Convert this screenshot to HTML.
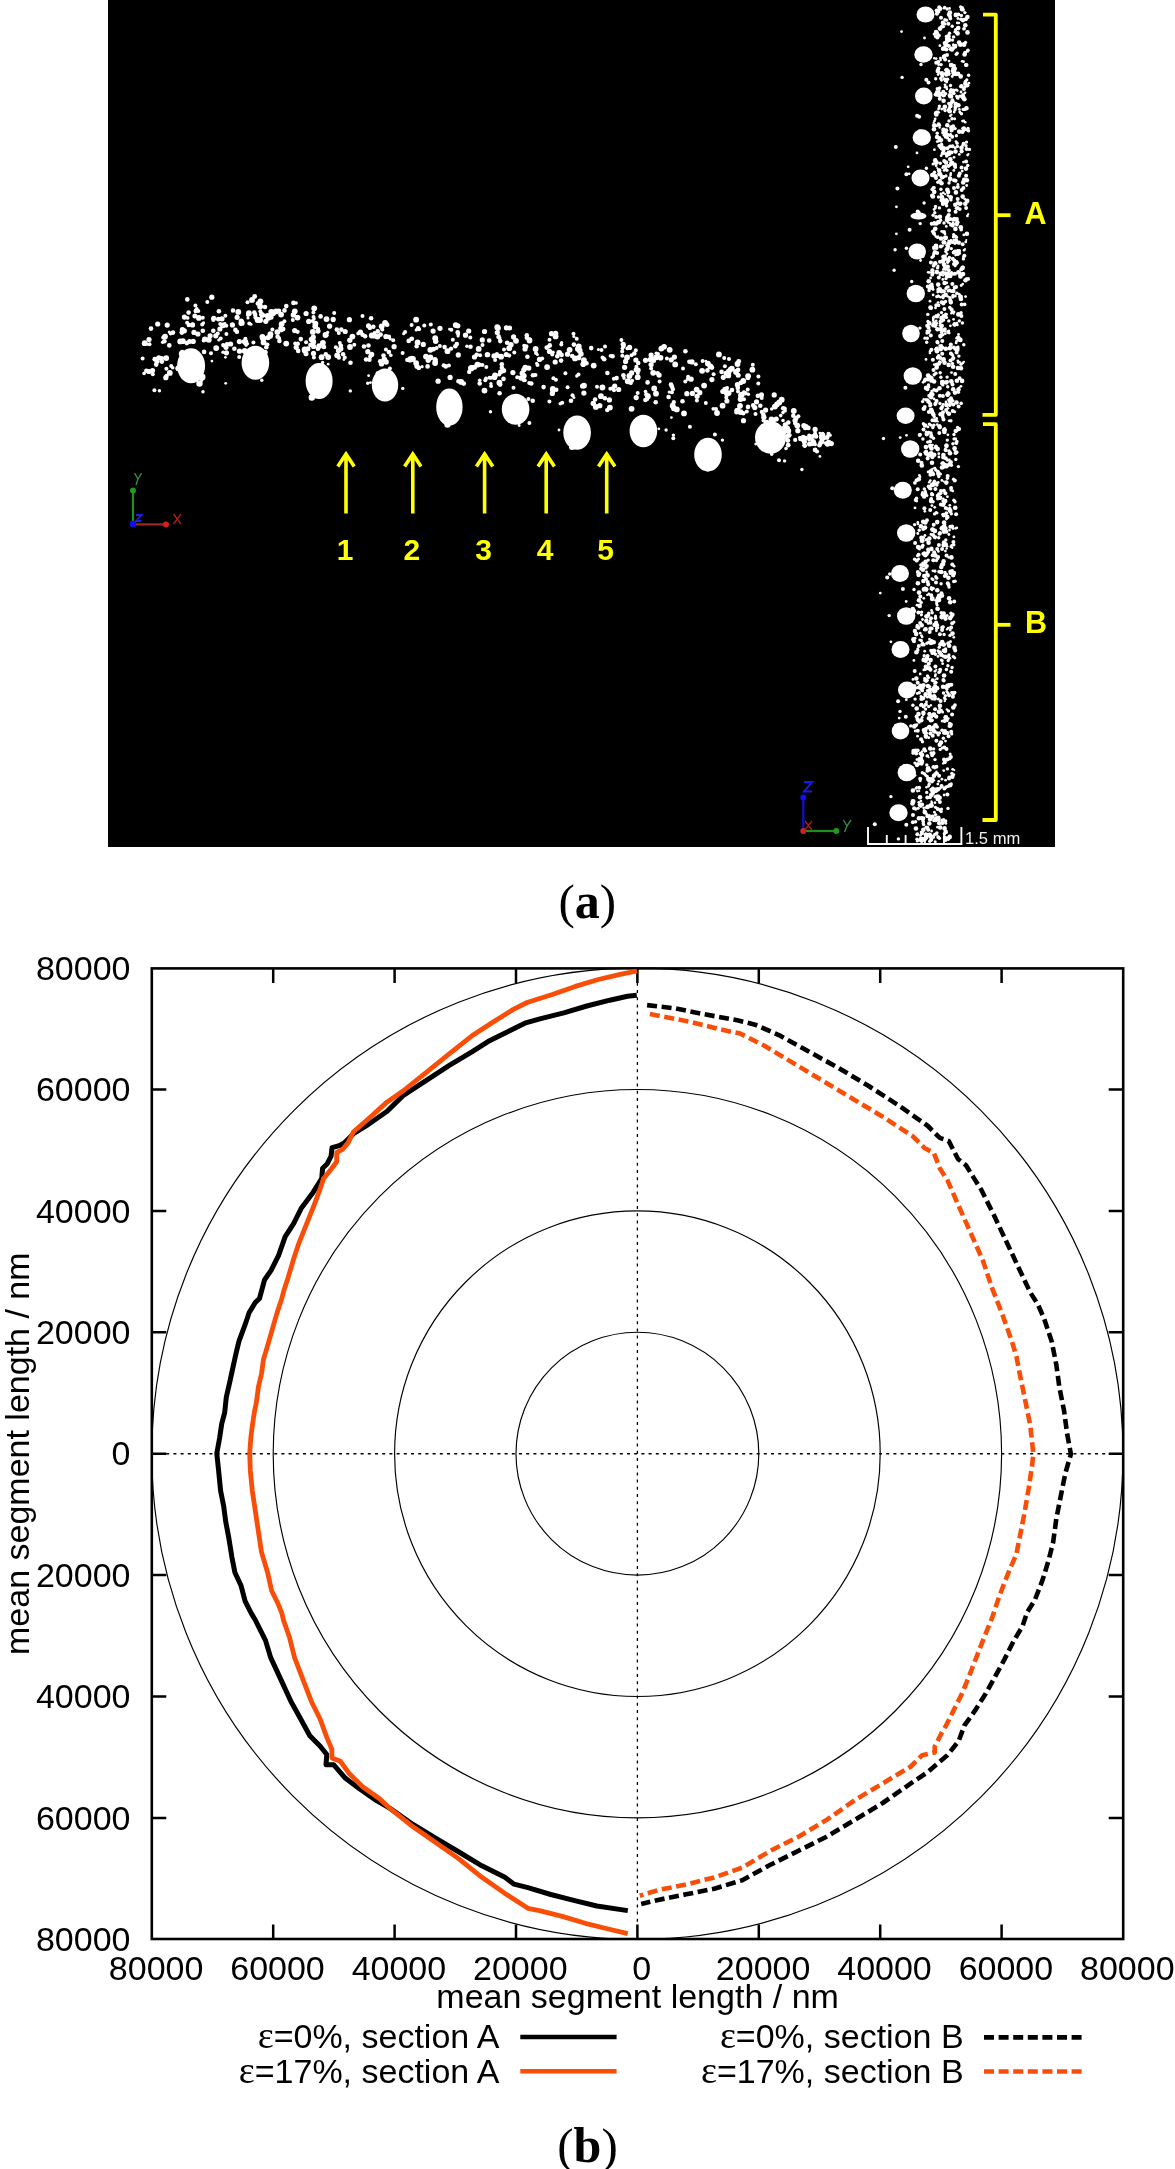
<!DOCTYPE html><html><head><meta charset="utf-8"><style>
html,body{margin:0;padding:0;background:#fff;}body{width:1175px;height:2169px;overflow:hidden;}
svg{display:block;will-change:transform;}text{font-family:"Liberation Sans",sans-serif;}
</style></head><body>
<svg width="1175" height="2169" viewBox="0 0 1175 2169">
<rect x="108" y="0" width="947" height="847" fill="#000"/>
<g fill="#fff">
<circle cx="529.5" cy="340.5" r="2.9"/>
<circle cx="526.8" cy="337.8" r="2.2"/>
<circle cx="647.6" cy="382.4" r="2.3"/>
<circle cx="267.4" cy="315.7" r="2.6"/>
<circle cx="263.8" cy="315.4" r="2.1"/>
<circle cx="208.8" cy="339.8" r="2.9"/>
<circle cx="204.8" cy="339.2" r="2.7"/>
<circle cx="294.7" cy="330.6" r="2.6"/>
<circle cx="297.6" cy="331.8" r="2.1"/>
<circle cx="692.0" cy="361.9" r="2.6"/>
<circle cx="689.4" cy="361.7" r="2.3"/>
<circle cx="388.9" cy="352.1" r="2.3"/>
<circle cx="390.8" cy="355.3" r="1.8"/>
<circle cx="497.2" cy="327.1" r="2.9"/>
<circle cx="319.2" cy="346.1" r="2.9"/>
<circle cx="304.6" cy="350.7" r="2.6"/>
<circle cx="306.0" cy="353.8" r="2.5"/>
<circle cx="672.7" cy="405.7" r="2.9"/>
<circle cx="673.8" cy="402.2" r="2.1"/>
<circle cx="352.4" cy="336.6" r="2.9"/>
<circle cx="349.8" cy="340.3" r="2.6"/>
<circle cx="571.0" cy="400.7" r="2.3"/>
<circle cx="239.5" cy="351.2" r="2.6"/>
<circle cx="245.4" cy="338.8" r="2.0"/>
<circle cx="246.1" cy="341.2" r="2.0"/>
<circle cx="217.7" cy="333.6" r="2.0"/>
<circle cx="645.4" cy="400.0" r="2.3"/>
<circle cx="647.2" cy="398.7" r="2.2"/>
<circle cx="444.6" cy="347.1" r="2.3"/>
<circle cx="495.0" cy="375.4" r="2.9"/>
<circle cx="526.2" cy="346.6" r="2.3"/>
<circle cx="524.2" cy="345.8" r="2.0"/>
<circle cx="567.6" cy="387.2" r="2.0"/>
<circle cx="721.6" cy="371.9" r="2.3"/>
<circle cx="572.2" cy="356.1" r="2.3"/>
<circle cx="254.3" cy="312.5" r="2.3"/>
<circle cx="255.2" cy="314.8" r="2.2"/>
<circle cx="495.1" cy="360.0" r="2.0"/>
<circle cx="271.5" cy="315.1" r="2.3"/>
<circle cx="273.6" cy="314.1" r="2.1"/>
<circle cx="313.6" cy="346.4" r="2.6"/>
<circle cx="253.4" cy="342.5" r="2.0"/>
<circle cx="695.8" cy="364.3" r="2.0"/>
<circle cx="343.1" cy="354.3" r="2.3"/>
<circle cx="350.5" cy="362.8" r="2.3"/>
<circle cx="325.5" cy="335.0" r="2.9"/>
<circle cx="657.6" cy="373.2" r="2.3"/>
<circle cx="496.0" cy="356.2" r="2.0"/>
<circle cx="496.9" cy="354.0" r="2.0"/>
<circle cx="489.2" cy="340.5" r="2.3"/>
<circle cx="692.4" cy="393.4" r="2.6"/>
<circle cx="338.8" cy="333.0" r="2.0"/>
<circle cx="512.9" cy="372.6" r="2.6"/>
<circle cx="659.6" cy="381.4" r="2.0"/>
<circle cx="529.2" cy="383.0" r="2.0"/>
<circle cx="637.7" cy="392.9" r="2.0"/>
<circle cx="522.2" cy="373.2" r="2.6"/>
<circle cx="629.4" cy="376.0" r="2.9"/>
<circle cx="631.6" cy="372.9" r="2.6"/>
<circle cx="528.4" cy="399.1" r="2.0"/>
<circle cx="552.2" cy="354.4" r="2.0"/>
<circle cx="553.1" cy="352.3" r="1.7"/>
<circle cx="244.7" cy="351.0" r="2.9"/>
<circle cx="439.9" cy="345.9" r="2.0"/>
<circle cx="671.0" cy="384.5" r="2.3"/>
<circle cx="225.4" cy="315.8" r="2.0"/>
<circle cx="710.4" cy="366.4" r="2.9"/>
<circle cx="513.5" cy="387.8" r="2.0"/>
<circle cx="187.3" cy="299.4" r="2.3"/>
<circle cx="474.5" cy="357.0" r="2.6"/>
<circle cx="476.7" cy="354.7" r="2.3"/>
<circle cx="263.6" cy="342.4" r="2.9"/>
<circle cx="188.2" cy="352.5" r="2.3"/>
<circle cx="185.5" cy="353.3" r="1.9"/>
<circle cx="184.4" cy="317.1" r="2.6"/>
<circle cx="187.6" cy="317.9" r="1.9"/>
<circle cx="142.6" cy="358.4" r="2.0"/>
<circle cx="187.1" cy="322.7" r="2.0"/>
<circle cx="216.2" cy="348.1" r="2.9"/>
<circle cx="738.1" cy="369.9" r="2.3"/>
<circle cx="435.1" cy="363.0" r="2.9"/>
<circle cx="435.3" cy="360.1" r="2.6"/>
<circle cx="211.0" cy="353.2" r="2.0"/>
<circle cx="549.5" cy="351.4" r="2.6"/>
<circle cx="583.9" cy="360.1" r="2.9"/>
<circle cx="583.2" cy="364.2" r="2.8"/>
<circle cx="651.1" cy="364.6" r="2.6"/>
<circle cx="506.3" cy="354.5" r="2.6"/>
<circle cx="509.2" cy="355.6" r="2.1"/>
<circle cx="484.5" cy="331.5" r="2.6"/>
<circle cx="349.7" cy="340.0" r="2.3"/>
<circle cx="203.7" cy="340.4" r="2.0"/>
<circle cx="820.4" cy="443.5" r="2.0"/>
<circle cx="668.6" cy="397.0" r="2.3"/>
<circle cx="328.2" cy="357.1" r="2.9"/>
<circle cx="458.1" cy="334.0" r="2.0"/>
<circle cx="458.1" cy="335.9" r="1.5"/>
<circle cx="213.7" cy="318.3" r="2.6"/>
<circle cx="583.9" cy="393.1" r="2.6"/>
<circle cx="389.9" cy="368.6" r="2.0"/>
<circle cx="183.3" cy="367.5" r="2.0"/>
<circle cx="707.9" cy="363.6" r="2.9"/>
<circle cx="743.9" cy="392.2" r="2.0"/>
<circle cx="458.3" cy="354.9" r="2.6"/>
<circle cx="271.2" cy="312.0" r="2.9"/>
<circle cx="669.7" cy="349.8" r="2.9"/>
<circle cx="198.9" cy="317.9" r="2.9"/>
<circle cx="194.9" cy="315.9" r="2.5"/>
<circle cx="543.6" cy="387.1" r="2.3"/>
<circle cx="494.0" cy="355.9" r="2.6"/>
<circle cx="494.6" cy="377.5" r="2.6"/>
<circle cx="448.9" cy="365.5" r="2.0"/>
<circle cx="614.0" cy="390.2" r="2.0"/>
<circle cx="468.7" cy="331.0" r="2.6"/>
<circle cx="306.1" cy="342.2" r="2.0"/>
<circle cx="260.1" cy="320.0" r="2.9"/>
<circle cx="812.1" cy="443.9" r="2.3"/>
<circle cx="809.5" cy="444.4" r="2.2"/>
<circle cx="600.9" cy="396.2" r="2.9"/>
<circle cx="368.5" cy="345.5" r="2.3"/>
<circle cx="766.6" cy="422.6" r="2.9"/>
<circle cx="769.8" cy="424.8" r="2.5"/>
<circle cx="623.2" cy="344.3" r="2.6"/>
<circle cx="622.5" cy="348.3" r="1.9"/>
<circle cx="165.0" cy="336.6" r="2.9"/>
<circle cx="385.9" cy="349.4" r="2.0"/>
<circle cx="241.2" cy="321.0" r="2.6"/>
<circle cx="249.3" cy="323.4" r="2.0"/>
<circle cx="251.0" cy="324.3" r="1.5"/>
<circle cx="204.1" cy="351.9" r="2.3"/>
<circle cx="781.7" cy="399.7" r="2.9"/>
<circle cx="736.7" cy="410.0" r="2.0"/>
<circle cx="738.6" cy="408.8" r="1.8"/>
<circle cx="610.3" cy="388.8" r="2.0"/>
<circle cx="373.3" cy="326.8" r="2.3"/>
<circle cx="369.9" cy="327.9" r="2.2"/>
<circle cx="455.7" cy="325.1" r="2.9"/>
<circle cx="831.3" cy="443.6" r="2.6"/>
<circle cx="371.1" cy="318.3" r="2.3"/>
<circle cx="482.4" cy="365.1" r="2.0"/>
<circle cx="607.4" cy="373.0" r="2.3"/>
<circle cx="737.4" cy="384.7" r="2.6"/>
<circle cx="645.5" cy="360.3" r="2.6"/>
<circle cx="774.9" cy="406.6" r="2.9"/>
<circle cx="582.6" cy="386.0" r="2.6"/>
<circle cx="788.3" cy="422.5" r="2.3"/>
<circle cx="182.3" cy="352.3" r="2.6"/>
<circle cx="284.5" cy="310.4" r="2.3"/>
<circle cx="822.4" cy="435.2" r="2.9"/>
<circle cx="261.7" cy="314.3" r="2.6"/>
<circle cx="374.3" cy="336.0" r="2.6"/>
<circle cx="523.8" cy="375.8" r="2.9"/>
<circle cx="521.1" cy="378.0" r="2.8"/>
<circle cx="828.7" cy="442.6" r="2.9"/>
<circle cx="471.0" cy="368.2" r="2.9"/>
<circle cx="726.9" cy="401.0" r="2.6"/>
<circle cx="325.8" cy="354.2" r="2.3"/>
<circle cx="479.6" cy="364.8" r="2.3"/>
<circle cx="685.4" cy="351.2" r="2.3"/>
<circle cx="503.6" cy="370.6" r="2.6"/>
<circle cx="500.5" cy="372.0" r="2.5"/>
<circle cx="385.9" cy="336.5" r="2.6"/>
<circle cx="388.9" cy="336.9" r="2.3"/>
<circle cx="321.6" cy="357.2" r="2.9"/>
<circle cx="624.6" cy="367.3" r="2.6"/>
<circle cx="557.3" cy="356.3" r="2.3"/>
<circle cx="797.3" cy="425.6" r="2.9"/>
<circle cx="488.0" cy="354.7" r="2.3"/>
<circle cx="801.4" cy="438.3" r="2.3"/>
<circle cx="803.3" cy="437.1" r="2.3"/>
<circle cx="561.1" cy="360.6" r="2.3"/>
<circle cx="813.8" cy="443.0" r="2.6"/>
<circle cx="650.1" cy="359.5" r="2.6"/>
<circle cx="653.6" cy="360.4" r="2.5"/>
<circle cx="362.5" cy="316.0" r="2.0"/>
<circle cx="385.1" cy="322.9" r="2.9"/>
<circle cx="387.1" cy="324.7" r="2.4"/>
<circle cx="304.6" cy="349.5" r="2.9"/>
<circle cx="555.2" cy="362.0" r="2.6"/>
<circle cx="656.0" cy="393.7" r="2.9"/>
<circle cx="740.0" cy="405.8" r="2.9"/>
<circle cx="188.6" cy="312.6" r="2.3"/>
<circle cx="793.3" cy="415.8" r="2.3"/>
<circle cx="367.8" cy="351.7" r="2.6"/>
<circle cx="666.9" cy="358.6" r="2.0"/>
<circle cx="707.4" cy="370.4" r="2.3"/>
<circle cx="523.8" cy="369.8" r="2.6"/>
<circle cx="164.4" cy="341.2" r="2.3"/>
<circle cx="162.6" cy="342.3" r="1.7"/>
<circle cx="673.9" cy="408.3" r="2.9"/>
<circle cx="676.8" cy="409.4" r="2.9"/>
<circle cx="517.2" cy="377.3" r="2.0"/>
<circle cx="730.3" cy="369.4" r="2.6"/>
<circle cx="456.8" cy="344.0" r="2.3"/>
<circle cx="455.3" cy="346.3" r="2.3"/>
<circle cx="465.5" cy="335.2" r="2.6"/>
<circle cx="616.6" cy="378.1" r="2.3"/>
<circle cx="533.0" cy="375.3" r="2.3"/>
<circle cx="549.8" cy="345.4" r="2.3"/>
<circle cx="265.1" cy="352.3" r="2.6"/>
<circle cx="499.4" cy="382.7" r="2.9"/>
<circle cx="152.5" cy="370.5" r="2.6"/>
<circle cx="591.2" cy="348.1" r="2.3"/>
<circle cx="337.2" cy="355.3" r="2.9"/>
<circle cx="338.9" cy="357.7" r="2.1"/>
<circle cx="499.2" cy="374.6" r="2.0"/>
<circle cx="731.8" cy="368.7" r="2.9"/>
<circle cx="499.6" cy="393.2" r="2.3"/>
<circle cx="313.3" cy="337.1" r="2.6"/>
<circle cx="702.1" cy="370.8" r="2.9"/>
<circle cx="264.5" cy="338.3" r="2.3"/>
<circle cx="262.2" cy="339.6" r="1.8"/>
<circle cx="526.8" cy="335.4" r="2.3"/>
<circle cx="671.9" cy="386.6" r="2.3"/>
<circle cx="672.9" cy="389.1" r="2.2"/>
<circle cx="813.9" cy="436.1" r="2.3"/>
<circle cx="595.1" cy="399.5" r="2.3"/>
<circle cx="430.4" cy="357.4" r="2.9"/>
<circle cx="737.8" cy="387.9" r="2.3"/>
<circle cx="738.0" cy="391.4" r="2.0"/>
<circle cx="314.2" cy="308.3" r="2.9"/>
<circle cx="315.4" cy="323.7" r="2.9"/>
<circle cx="315.2" cy="326.4" r="2.8"/>
<circle cx="198.3" cy="311.1" r="2.0"/>
<circle cx="262.4" cy="336.8" r="2.9"/>
<circle cx="513.6" cy="336.9" r="2.6"/>
<circle cx="539.5" cy="359.4" r="2.6"/>
<circle cx="486.3" cy="366.9" r="2.0"/>
<circle cx="238.3" cy="311.9" r="2.9"/>
<circle cx="313.5" cy="317.1" r="2.0"/>
<circle cx="408.7" cy="340.9" r="2.3"/>
<circle cx="411.2" cy="339.1" r="2.0"/>
<circle cx="335.9" cy="347.3" r="2.0"/>
<circle cx="829.3" cy="443.6" r="2.3"/>
<circle cx="381.5" cy="364.0" r="2.6"/>
<circle cx="380.2" cy="361.3" r="2.3"/>
<circle cx="394.1" cy="346.7" r="2.6"/>
<circle cx="146.4" cy="370.8" r="2.3"/>
<circle cx="144.1" cy="373.4" r="1.8"/>
<circle cx="158.7" cy="357.8" r="2.6"/>
<circle cx="161.7" cy="358.3" r="2.3"/>
<circle cx="562.2" cy="402.7" r="2.0"/>
<circle cx="560.2" cy="403.7" r="1.7"/>
<circle cx="294.8" cy="311.3" r="2.9"/>
<circle cx="293.4" cy="314.9" r="2.7"/>
<circle cx="239.4" cy="341.6" r="2.6"/>
<circle cx="636.2" cy="397.6" r="2.6"/>
<circle cx="213.3" cy="320.1" r="2.0"/>
<circle cx="671.9" cy="392.2" r="2.0"/>
<circle cx="669.3" cy="392.1" r="1.7"/>
<circle cx="293.4" cy="302.9" r="2.3"/>
<circle cx="296.2" cy="303.0" r="1.7"/>
<circle cx="536.0" cy="352.9" r="2.0"/>
<circle cx="537.4" cy="354.5" r="1.5"/>
<circle cx="424.3" cy="325.6" r="2.0"/>
<circle cx="166.4" cy="368.8" r="2.0"/>
<circle cx="260.4" cy="311.2" r="2.0"/>
<circle cx="149.5" cy="344.3" r="2.0"/>
<circle cx="147.3" cy="344.3" r="1.5"/>
<circle cx="683.0" cy="368.5" r="2.0"/>
<circle cx="827.2" cy="437.6" r="2.3"/>
<circle cx="830.0" cy="435.3" r="1.8"/>
<circle cx="297.5" cy="317.6" r="2.9"/>
<circle cx="213.3" cy="330.7" r="2.3"/>
<circle cx="743.5" cy="420.7" r="2.6"/>
<circle cx="313.5" cy="353.4" r="2.6"/>
<circle cx="313.9" cy="357.5" r="2.0"/>
<circle cx="252.0" cy="299.9" r="2.9"/>
<circle cx="254.7" cy="296.5" r="2.4"/>
<circle cx="470.3" cy="337.6" r="2.0"/>
<circle cx="547.1" cy="367.1" r="2.9"/>
<circle cx="815.1" cy="433.4" r="2.0"/>
<circle cx="284.4" cy="321.2" r="2.0"/>
<circle cx="144.7" cy="343.2" r="2.9"/>
<circle cx="499.5" cy="338.0" r="2.0"/>
<circle cx="499.1" cy="336.0" r="1.7"/>
<circle cx="605.0" cy="346.5" r="2.0"/>
<circle cx="758.3" cy="383.5" r="2.0"/>
<circle cx="411.8" cy="357.8" r="2.0"/>
<circle cx="788.3" cy="430.9" r="2.9"/>
<circle cx="609.4" cy="399.9" r="2.6"/>
<circle cx="745.4" cy="393.3" r="2.3"/>
<circle cx="748.4" cy="394.3" r="1.7"/>
<circle cx="567.5" cy="354.2" r="2.6"/>
<circle cx="197.9" cy="334.0" r="2.6"/>
<circle cx="763.9" cy="417.2" r="2.6"/>
<circle cx="219.9" cy="329.0" r="2.6"/>
<circle cx="576.7" cy="338.8" r="2.0"/>
<circle cx="614.7" cy="386.0" r="2.6"/>
<circle cx="612.5" cy="388.2" r="2.0"/>
<circle cx="618.7" cy="389.5" r="2.6"/>
<circle cx="311.3" cy="339.4" r="2.6"/>
<circle cx="417.6" cy="342.5" r="2.9"/>
<circle cx="416.6" cy="346.3" r="2.2"/>
<circle cx="368.5" cy="325.8" r="2.6"/>
<circle cx="728.6" cy="393.1" r="2.9"/>
<circle cx="725.8" cy="392.2" r="2.6"/>
<circle cx="578.5" cy="374.4" r="2.0"/>
<circle cx="576.8" cy="376.0" r="1.7"/>
<circle cx="417.0" cy="366.3" r="2.6"/>
<circle cx="151.0" cy="328.6" r="2.3"/>
<circle cx="286.2" cy="343.6" r="2.9"/>
<circle cx="371.8" cy="335.5" r="2.9"/>
<circle cx="317.9" cy="348.8" r="2.3"/>
<circle cx="746.8" cy="411.6" r="2.0"/>
<circle cx="760.3" cy="405.7" r="2.3"/>
<circle cx="173.0" cy="332.6" r="2.3"/>
<circle cx="509.2" cy="348.2" r="2.9"/>
<circle cx="510.9" cy="344.7" r="2.8"/>
<circle cx="793.8" cy="411.0" r="2.9"/>
<circle cx="418.1" cy="328.4" r="2.3"/>
<circle cx="195.4" cy="305.6" r="2.0"/>
<circle cx="691.1" cy="379.2" r="2.6"/>
<circle cx="298.2" cy="350.9" r="2.3"/>
<circle cx="702.6" cy="361.1" r="2.0"/>
<circle cx="705.8" cy="361.2" r="1.4"/>
<circle cx="578.7" cy="357.7" r="2.6"/>
<circle cx="489.5" cy="377.7" r="2.0"/>
<circle cx="491.3" cy="377.8" r="2.0"/>
<circle cx="273.3" cy="312.4" r="2.9"/>
<circle cx="182.4" cy="329.7" r="2.6"/>
<circle cx="181.8" cy="332.6" r="2.4"/>
<circle cx="447.5" cy="351.2" r="2.9"/>
<circle cx="451.0" cy="348.6" r="2.2"/>
<circle cx="532.7" cy="400.7" r="2.3"/>
<circle cx="697.1" cy="396.3" r="2.6"/>
<circle cx="277.4" cy="332.1" r="2.9"/>
<circle cx="413.0" cy="359.0" r="2.9"/>
<circle cx="410.2" cy="359.2" r="2.9"/>
<circle cx="552.8" cy="391.1" r="2.6"/>
<circle cx="556.3" cy="389.8" r="2.2"/>
<circle cx="244.4" cy="341.5" r="2.6"/>
<circle cx="254.2" cy="350.9" r="2.9"/>
<circle cx="647.9" cy="396.2" r="2.9"/>
<circle cx="222.9" cy="325.3" r="2.9"/>
<circle cx="234.4" cy="348.7" r="2.3"/>
<circle cx="755.5" cy="413.9" r="2.0"/>
<circle cx="435.2" cy="338.2" r="2.9"/>
<circle cx="435.7" cy="341.3" r="2.7"/>
<circle cx="506.4" cy="327.8" r="2.6"/>
<circle cx="509.6" cy="327.9" r="2.5"/>
<circle cx="696.6" cy="389.6" r="2.9"/>
<circle cx="457.8" cy="325.8" r="2.6"/>
<circle cx="555.6" cy="336.4" r="2.9"/>
<circle cx="555.6" cy="333.5" r="2.7"/>
<circle cx="501.1" cy="356.7" r="2.9"/>
<circle cx="498.6" cy="355.7" r="2.2"/>
<circle cx="604.9" cy="398.2" r="2.3"/>
<circle cx="737.5" cy="364.0" r="2.9"/>
<circle cx="738.7" cy="361.3" r="2.4"/>
<circle cx="344.8" cy="357.6" r="2.0"/>
<circle cx="343.9" cy="359.5" r="1.4"/>
<circle cx="207.3" cy="302.0" r="2.0"/>
<circle cx="713.6" cy="374.2" r="2.0"/>
<circle cx="729.0" cy="359.0" r="2.0"/>
<circle cx="333.2" cy="319.4" r="2.6"/>
<circle cx="194.0" cy="332.4" r="2.6"/>
<circle cx="233.0" cy="310.5" r="2.3"/>
<circle cx="736.6" cy="410.5" r="2.3"/>
<circle cx="320.6" cy="316.4" r="2.3"/>
<circle cx="559.2" cy="352.8" r="2.9"/>
<circle cx="627.4" cy="381.0" r="2.6"/>
<circle cx="529.5" cy="339.8" r="2.6"/>
<circle cx="371.7" cy="354.4" r="2.6"/>
<circle cx="370.3" cy="356.4" r="2.2"/>
<circle cx="634.3" cy="353.5" r="2.3"/>
<circle cx="631.5" cy="355.3" r="2.0"/>
<circle cx="635.9" cy="360.0" r="2.6"/>
<circle cx="638.2" cy="363.0" r="2.3"/>
<circle cx="202.8" cy="317.7" r="2.0"/>
<circle cx="724.9" cy="366.2" r="2.0"/>
<circle cx="438.1" cy="381.2" r="2.6"/>
<circle cx="797.8" cy="430.7" r="2.6"/>
<circle cx="722.6" cy="405.7" r="2.9"/>
<circle cx="218.9" cy="311.3" r="2.3"/>
<circle cx="270.4" cy="334.2" r="2.9"/>
<circle cx="723.3" cy="377.3" r="2.6"/>
<circle cx="765.6" cy="410.1" r="2.6"/>
<circle cx="761.8" cy="411.9" r="2.1"/>
<circle cx="411.8" cy="338.8" r="2.3"/>
<circle cx="257.6" cy="320.0" r="2.9"/>
<circle cx="255.6" cy="317.5" r="2.2"/>
<circle cx="682.5" cy="401.3" r="2.3"/>
<circle cx="461.2" cy="381.9" r="2.9"/>
<circle cx="463.7" cy="383.6" r="2.4"/>
<circle cx="758.4" cy="376.5" r="2.0"/>
<circle cx="482.3" cy="339.9" r="2.6"/>
<circle cx="227.0" cy="344.2" r="2.3"/>
<circle cx="195.8" cy="310.9" r="2.3"/>
<circle cx="196.8" cy="309.0" r="1.9"/>
<circle cx="578.8" cy="346.5" r="2.9"/>
<circle cx="577.6" cy="348.9" r="2.6"/>
<circle cx="440.0" cy="328.3" r="2.6"/>
<circle cx="210.1" cy="335.8" r="2.6"/>
<circle cx="426.0" cy="356.6" r="2.9"/>
<circle cx="602.4" cy="387.5" r="2.9"/>
<circle cx="569.6" cy="349.8" r="2.9"/>
<circle cx="717.0" cy="413.0" r="2.9"/>
<circle cx="728.7" cy="371.7" r="2.9"/>
<circle cx="726.0" cy="373.3" r="2.5"/>
<circle cx="748.0" cy="406.9" r="2.3"/>
<circle cx="281.6" cy="324.1" r="2.9"/>
<circle cx="280.7" cy="327.4" r="2.0"/>
<circle cx="752.4" cy="369.7" r="2.9"/>
<circle cx="504.0" cy="349.6" r="2.0"/>
<circle cx="763.5" cy="420.5" r="2.0"/>
<circle cx="771.5" cy="419.4" r="2.9"/>
<circle cx="773.6" cy="421.2" r="2.1"/>
<circle cx="621.4" cy="339.9" r="2.0"/>
<circle cx="170.7" cy="333.4" r="2.0"/>
<circle cx="169.2" cy="332.1" r="1.5"/>
<circle cx="612.6" cy="356.3" r="2.3"/>
<circle cx="610.5" cy="355.8" r="1.9"/>
<circle cx="528.8" cy="368.1" r="2.6"/>
<circle cx="531.3" cy="383.5" r="2.3"/>
<circle cx="237.1" cy="317.3" r="2.6"/>
<circle cx="748.0" cy="378.0" r="2.3"/>
<circle cx="487.3" cy="354.7" r="2.6"/>
<circle cx="306.1" cy="313.5" r="2.6"/>
<circle cx="350.0" cy="347.0" r="2.9"/>
<circle cx="687.9" cy="378.9" r="2.0"/>
<circle cx="688.1" cy="376.7" r="2.0"/>
<circle cx="552.3" cy="393.5" r="2.6"/>
<circle cx="652.5" cy="359.3" r="2.3"/>
<circle cx="272.4" cy="329.4" r="2.0"/>
<circle cx="659.1" cy="375.1" r="2.6"/>
<circle cx="781.9" cy="429.9" r="2.9"/>
<circle cx="785.3" cy="426.9" r="2.1"/>
<circle cx="514.3" cy="352.6" r="2.0"/>
<circle cx="561.6" cy="354.9" r="2.3"/>
<circle cx="339.5" cy="350.1" r="2.3"/>
<circle cx="787.3" cy="428.0" r="2.6"/>
<circle cx="785.3" cy="424.8" r="2.6"/>
<circle cx="428.2" cy="360.3" r="2.6"/>
<circle cx="340.8" cy="348.7" r="2.6"/>
<circle cx="340.9" cy="345.8" r="2.3"/>
<circle cx="740.6" cy="399.1" r="2.9"/>
<circle cx="740.9" cy="396.4" r="2.1"/>
<circle cx="804.0" cy="442.4" r="2.0"/>
<circle cx="380.6" cy="334.6" r="2.3"/>
<circle cx="436.6" cy="348.1" r="2.0"/>
<circle cx="551.5" cy="333.7" r="2.6"/>
<circle cx="362.6" cy="334.8" r="2.3"/>
<circle cx="192.8" cy="324.5" r="2.0"/>
<circle cx="341.3" cy="329.6" r="2.3"/>
<circle cx="279.4" cy="340.9" r="2.3"/>
<circle cx="241.8" cy="322.9" r="2.9"/>
<circle cx="265.0" cy="307.0" r="2.3"/>
<circle cx="313.3" cy="341.7" r="2.9"/>
<circle cx="245.9" cy="341.9" r="2.0"/>
<circle cx="247.4" cy="343.7" r="1.7"/>
<circle cx="636.4" cy="366.7" r="2.0"/>
<circle cx="595.8" cy="406.9" r="2.9"/>
<circle cx="593.3" cy="403.5" r="2.7"/>
<circle cx="366.1" cy="359.5" r="2.3"/>
<circle cx="369.5" cy="359.7" r="2.2"/>
<circle cx="161.9" cy="361.6" r="2.3"/>
<circle cx="774.2" cy="394.9" r="2.6"/>
<circle cx="433.1" cy="331.1" r="2.6"/>
<circle cx="157.0" cy="361.3" r="2.6"/>
<circle cx="154.8" cy="359.2" r="2.4"/>
<circle cx="354.3" cy="344.8" r="2.0"/>
<circle cx="741.0" cy="395.4" r="2.9"/>
<circle cx="655.7" cy="402.3" r="2.3"/>
<circle cx="573.5" cy="333.7" r="2.0"/>
<circle cx="573.8" cy="336.5" r="1.5"/>
<circle cx="202.2" cy="324.5" r="2.0"/>
<circle cx="203.4" cy="323.0" r="1.7"/>
<circle cx="503.5" cy="378.9" r="2.3"/>
<circle cx="268.4" cy="317.8" r="2.9"/>
<circle cx="271.3" cy="317.4" r="2.3"/>
<circle cx="416.1" cy="363.1" r="2.9"/>
<circle cx="180.2" cy="341.4" r="2.9"/>
<circle cx="741.8" cy="394.6" r="2.9"/>
<circle cx="628.0" cy="381.3" r="2.9"/>
<circle cx="728.3" cy="375.4" r="2.9"/>
<circle cx="704.1" cy="385.6" r="2.9"/>
<circle cx="555.9" cy="379.8" r="2.0"/>
<circle cx="527.4" cy="356.7" r="2.3"/>
<circle cx="712.0" cy="367.6" r="2.3"/>
<circle cx="776.2" cy="419.0" r="2.6"/>
<circle cx="312.7" cy="321.1" r="2.0"/>
<circle cx="314.2" cy="318.8" r="1.6"/>
<circle cx="651.1" cy="355.1" r="2.6"/>
<circle cx="652.3" cy="358.1" r="1.9"/>
<circle cx="226.3" cy="325.7" r="2.0"/>
<circle cx="224.8" cy="323.9" r="1.8"/>
<circle cx="486.0" cy="378.5" r="2.0"/>
<circle cx="384.3" cy="359.6" r="2.9"/>
<circle cx="386.1" cy="362.0" r="2.7"/>
<circle cx="336.8" cy="329.6" r="2.3"/>
<circle cx="803.9" cy="425.7" r="2.6"/>
<circle cx="500.2" cy="384.6" r="2.3"/>
<circle cx="573.9" cy="344.6" r="2.3"/>
<circle cx="184.3" cy="330.8" r="2.6"/>
<circle cx="725.2" cy="389.6" r="2.9"/>
<circle cx="722.7" cy="391.4" r="2.5"/>
<circle cx="754.8" cy="407.6" r="2.6"/>
<circle cx="753.2" cy="405.4" r="2.3"/>
<circle cx="382.3" cy="329.5" r="2.0"/>
<circle cx="810.2" cy="437.0" r="2.9"/>
<circle cx="280.5" cy="328.2" r="2.3"/>
<circle cx="281.4" cy="330.3" r="2.1"/>
<circle cx="220.7" cy="338.5" r="2.0"/>
<circle cx="218.7" cy="340.0" r="1.5"/>
<circle cx="498.0" cy="328.1" r="2.9"/>
<circle cx="497.3" cy="332.6" r="2.6"/>
<circle cx="458.5" cy="381.2" r="2.3"/>
<circle cx="326.6" cy="335.2" r="2.0"/>
<circle cx="327.6" cy="332.4" r="1.6"/>
<circle cx="478.7" cy="348.9" r="2.9"/>
<circle cx="542.2" cy="358.5" r="2.0"/>
<circle cx="434.9" cy="359.3" r="2.3"/>
<circle cx="525.0" cy="349.0" r="2.6"/>
<circle cx="675.2" cy="364.4" r="2.9"/>
<circle cx="686.9" cy="393.7" r="2.6"/>
<circle cx="167.2" cy="325.1" r="2.6"/>
<circle cx="313.4" cy="312.5" r="2.0"/>
<circle cx="166.2" cy="358.1" r="2.9"/>
<circle cx="658.0" cy="354.1" r="2.0"/>
<circle cx="656.3" cy="353.2" r="1.8"/>
<circle cx="152.8" cy="374.2" r="2.0"/>
<circle cx="597.0" cy="386.8" r="2.0"/>
<circle cx="827.7" cy="444.5" r="2.3"/>
<circle cx="761.7" cy="397.9" r="2.0"/>
<circle cx="281.1" cy="314.6" r="2.9"/>
<circle cx="808.4" cy="427.9" r="2.3"/>
<circle cx="623.5" cy="346.1" r="2.3"/>
<circle cx="561.3" cy="344.5" r="2.0"/>
<circle cx="561.6" cy="342.5" r="1.6"/>
<circle cx="349.4" cy="319.7" r="2.6"/>
<circle cx="418.8" cy="367.9" r="2.3"/>
<circle cx="422.1" cy="366.7" r="1.6"/>
<circle cx="525.3" cy="367.7" r="2.9"/>
<circle cx="579.6" cy="350.5" r="2.9"/>
<circle cx="581.0" cy="354.0" r="2.7"/>
<circle cx="220.2" cy="324.1" r="2.0"/>
<circle cx="377.4" cy="336.6" r="2.9"/>
<circle cx="193.9" cy="356.5" r="2.6"/>
<circle cx="345.2" cy="331.5" r="2.6"/>
<circle cx="211.8" cy="297.2" r="2.6"/>
<circle cx="535.5" cy="375.0" r="2.0"/>
<circle cx="286.3" cy="306.1" r="2.3"/>
<circle cx="743.3" cy="381.0" r="2.9"/>
<circle cx="740.8" cy="382.9" r="2.4"/>
<circle cx="736.5" cy="412.3" r="2.3"/>
<circle cx="450.1" cy="377.4" r="2.6"/>
<circle cx="798.4" cy="416.3" r="2.0"/>
<circle cx="169.8" cy="372.9" r="2.9"/>
<circle cx="166.5" cy="375.9" r="2.2"/>
<circle cx="674.4" cy="357.1" r="2.6"/>
<circle cx="629.6" cy="347.4" r="2.6"/>
<circle cx="627.4" cy="348.4" r="1.9"/>
<circle cx="651.1" cy="368.5" r="2.0"/>
<circle cx="262.0" cy="315.7" r="2.3"/>
<circle cx="383.5" cy="355.6" r="2.3"/>
<circle cx="232.4" cy="324.9" r="2.6"/>
<circle cx="324.0" cy="347.0" r="2.3"/>
<circle cx="763.3" cy="414.5" r="2.3"/>
<circle cx="763.7" cy="418.1" r="2.1"/>
<circle cx="756.5" cy="401.8" r="2.6"/>
<circle cx="716.0" cy="408.9" r="2.0"/>
<circle cx="713.3" cy="408.8" r="1.9"/>
<circle cx="165.8" cy="377.7" r="2.6"/>
<circle cx="500.2" cy="341.1" r="2.3"/>
<circle cx="584.0" cy="385.6" r="2.9"/>
<circle cx="549.5" cy="339.7" r="2.0"/>
<circle cx="821.9" cy="437.6" r="2.9"/>
<circle cx="546.7" cy="347.6" r="2.3"/>
<circle cx="548.7" cy="346.6" r="2.0"/>
<circle cx="312.8" cy="331.9" r="2.9"/>
<circle cx="248.0" cy="314.9" r="2.0"/>
<circle cx="248.0" cy="317.9" r="1.6"/>
<circle cx="696.9" cy="400.5" r="2.0"/>
<circle cx="575.0" cy="358.4" r="2.9"/>
<circle cx="757.8" cy="395.9" r="2.0"/>
<circle cx="661.3" cy="348.6" r="2.9"/>
<circle cx="664.1" cy="346.7" r="2.8"/>
<circle cx="178.2" cy="368.3" r="2.9"/>
<circle cx="553.4" cy="378.3" r="2.0"/>
<circle cx="326.5" cy="319.1" r="2.9"/>
<circle cx="192.5" cy="324.9" r="2.6"/>
<circle cx="188.8" cy="325.0" r="2.2"/>
<circle cx="260.4" cy="301.3" r="2.9"/>
<circle cx="268.1" cy="337.6" r="2.6"/>
<circle cx="270.6" cy="336.5" r="2.3"/>
<circle cx="718.9" cy="354.4" r="2.9"/>
<circle cx="636.2" cy="369.8" r="2.6"/>
<circle cx="637.8" cy="372.9" r="2.0"/>
<circle cx="684.0" cy="413.4" r="2.9"/>
<circle cx="736.0" cy="372.0" r="2.9"/>
<circle cx="738.2" cy="375.2" r="2.5"/>
<circle cx="471.2" cy="368.4" r="2.9"/>
<circle cx="469.2" cy="371.9" r="2.2"/>
<circle cx="247.5" cy="302.3" r="2.0"/>
<circle cx="265.8" cy="321.3" r="2.6"/>
<circle cx="364.0" cy="346.5" r="2.3"/>
<circle cx="338.5" cy="350.6" r="2.6"/>
<circle cx="292.8" cy="320.1" r="2.0"/>
<circle cx="457.7" cy="332.2" r="2.3"/>
<circle cx="622.2" cy="351.4" r="2.0"/>
<circle cx="805.8" cy="427.0" r="2.9"/>
<circle cx="623.4" cy="375.2" r="2.3"/>
<circle cx="624.0" cy="378.1" r="1.8"/>
<circle cx="248.9" cy="313.2" r="2.9"/>
<circle cx="705.8" cy="403.1" r="2.0"/>
<circle cx="601.5" cy="349.9" r="2.0"/>
<circle cx="598.4" cy="349.4" r="1.5"/>
<circle cx="235.4" cy="329.9" r="2.3"/>
<circle cx="236.9" cy="331.8" r="2.3"/>
<circle cx="226.4" cy="334.0" r="2.0"/>
<circle cx="726.7" cy="394.8" r="2.3"/>
<circle cx="726.3" cy="397.5" r="2.0"/>
<circle cx="427.6" cy="366.4" r="2.3"/>
<circle cx="307.8" cy="348.8" r="2.6"/>
<circle cx="305.6" cy="350.6" r="2.1"/>
<circle cx="613.9" cy="378.8" r="2.0"/>
<circle cx="300.8" cy="339.1" r="2.3"/>
<circle cx="149.0" cy="339.5" r="2.6"/>
<circle cx="779.3" cy="402.5" r="2.9"/>
<circle cx="776.7" cy="403.9" r="2.5"/>
<circle cx="277.6" cy="336.8" r="2.3"/>
<circle cx="279.3" cy="338.1" r="1.8"/>
<circle cx="148.9" cy="371.5" r="2.6"/>
<circle cx="631.6" cy="408.8" r="2.9"/>
<circle cx="276.1" cy="311.4" r="2.9"/>
<circle cx="278.9" cy="310.8" r="2.4"/>
<circle cx="565.4" cy="373.3" r="2.0"/>
<circle cx="784.8" cy="408.4" r="2.0"/>
<circle cx="785.0" cy="410.7" r="1.9"/>
<circle cx="416.1" cy="319.7" r="2.9"/>
<circle cx="402.6" cy="353.1" r="2.0"/>
<circle cx="671.3" cy="359.8" r="2.6"/>
<circle cx="501.9" cy="367.8" r="2.3"/>
<circle cx="501.8" cy="364.2" r="2.3"/>
<circle cx="339.8" cy="343.0" r="2.0"/>
<circle cx="819.5" cy="445.2" r="2.3"/>
<circle cx="599.8" cy="405.7" r="2.6"/>
<circle cx="479.7" cy="383.5" r="2.3"/>
<circle cx="479.7" cy="380.3" r="1.8"/>
<circle cx="283.2" cy="329.1" r="2.3"/>
<circle cx="157.7" cy="324.0" r="2.6"/>
<circle cx="552.8" cy="388.9" r="2.9"/>
<circle cx="451.3" cy="329.7" r="2.0"/>
<circle cx="449.5" cy="329.2" r="1.4"/>
<circle cx="609.9" cy="407.6" r="2.9"/>
<circle cx="607.2" cy="410.1" r="2.2"/>
<circle cx="202.8" cy="330.8" r="2.3"/>
<circle cx="169.3" cy="345.4" r="2.3"/>
<circle cx="452.8" cy="339.8" r="2.0"/>
<circle cx="377.7" cy="331.4" r="2.3"/>
<circle cx="374.6" cy="332.9" r="2.0"/>
<circle cx="761.5" cy="394.9" r="2.6"/>
<circle cx="757.9" cy="395.8" r="2.3"/>
<circle cx="226.4" cy="352.8" r="2.6"/>
<circle cx="223.1" cy="352.2" r="1.8"/>
<circle cx="193.2" cy="341.4" r="2.6"/>
<circle cx="189.5" cy="341.4" r="2.5"/>
<circle cx="430.8" cy="324.5" r="2.0"/>
<circle cx="484.5" cy="390.6" r="2.9"/>
<circle cx="524.8" cy="380.2" r="2.0"/>
<circle cx="523.2" cy="378.9" r="1.4"/>
<circle cx="537.5" cy="365.1" r="2.0"/>
<circle cx="536.7" cy="363.3" r="1.6"/>
<circle cx="480.1" cy="355.3" r="2.0"/>
<circle cx="156.2" cy="364.6" r="2.3"/>
<circle cx="586.5" cy="363.2" r="2.3"/>
<circle cx="477.4" cy="364.7" r="2.9"/>
<circle cx="474.5" cy="367.3" r="2.5"/>
<circle cx="711.9" cy="379.6" r="2.6"/>
<circle cx="732.0" cy="390.0" r="2.3"/>
<circle cx="410.1" cy="359.9" r="2.6"/>
<circle cx="407.2" cy="359.9" r="2.1"/>
<circle cx="329.6" cy="326.2" r="2.6"/>
<circle cx="638.1" cy="370.0" r="2.6"/>
<circle cx="549.4" cy="401.6" r="2.0"/>
<circle cx="296.2" cy="347.3" r="2.6"/>
<circle cx="297.8" cy="343.5" r="2.0"/>
<circle cx="516.0" cy="340.8" r="2.9"/>
<circle cx="308.7" cy="321.4" r="2.6"/>
<circle cx="226.0" cy="347.3" r="2.6"/>
<circle cx="223.3" cy="345.1" r="2.2"/>
<circle cx="171.2" cy="365.9" r="2.0"/>
<circle cx="172.7" cy="367.8" r="1.8"/>
<circle cx="507.1" cy="342.8" r="2.3"/>
<circle cx="635.8" cy="350.2" r="2.0"/>
<circle cx="593.7" cy="365.6" r="2.9"/>
<circle cx="419.1" cy="329.2" r="2.0"/>
<circle cx="416.2" cy="329.9" r="1.6"/>
<circle cx="748.1" cy="376.1" r="2.9"/>
<circle cx="685.3" cy="381.6" r="2.0"/>
<circle cx="572.5" cy="395.2" r="2.0"/>
<circle cx="573.9" cy="397.5" r="1.5"/>
<circle cx="405.1" cy="331.9" r="2.0"/>
<circle cx="403.7" cy="333.7" r="1.6"/>
<circle cx="815.1" cy="429.4" r="2.6"/>
<circle cx="535.6" cy="348.9" r="2.9"/>
<circle cx="230.6" cy="344.0" r="2.6"/>
<circle cx="322.9" cy="342.8" r="2.9"/>
<circle cx="295.2" cy="343.5" r="2.0"/>
<circle cx="297.8" cy="344.2" r="1.8"/>
<circle cx="360.4" cy="332.1" r="2.6"/>
<circle cx="358.2" cy="333.4" r="1.9"/>
<circle cx="656.3" cy="357.3" r="2.9"/>
<circle cx="660.6" cy="357.7" r="2.8"/>
<circle cx="485.3" cy="380.2" r="2.0"/>
<circle cx="627.0" cy="357.5" r="2.9"/>
<circle cx="625.6" cy="361.4" r="2.6"/>
<circle cx="310.4" cy="345.0" r="2.3"/>
<circle cx="604.2" cy="359.2" r="2.3"/>
<circle cx="602.6" cy="357.6" r="2.1"/>
<circle cx="182.9" cy="341.2" r="2.9"/>
<circle cx="186.8" cy="343.1" r="2.3"/>
<circle cx="215.8" cy="335.8" r="2.6"/>
<circle cx="727.1" cy="388.0" r="2.0"/>
<circle cx="181.7" cy="353.7" r="2.9"/>
<circle cx="653.2" cy="372.8" r="2.9"/>
<circle cx="637.7" cy="377.2" r="2.9"/>
<circle cx="632.1" cy="380.7" r="2.0"/>
<circle cx="630.8" cy="383.2" r="1.9"/>
<circle cx="245.2" cy="343.1" r="2.3"/>
<circle cx="246.1" cy="345.1" r="1.8"/>
<circle cx="654.2" cy="388.5" r="2.9"/>
<circle cx="482.5" cy="345.1" r="2.0"/>
<circle cx="747.7" cy="389.6" r="2.0"/>
<circle cx="222.0" cy="318.8" r="2.6"/>
<circle cx="218.4" cy="319.2" r="2.4"/>
<circle cx="393.2" cy="340.3" r="2.0"/>
<circle cx="390.3" cy="339.0" r="1.5"/>
<circle cx="365.1" cy="336.2" r="2.3"/>
<circle cx="470.5" cy="346.8" r="2.3"/>
<circle cx="466.9" cy="346.3" r="1.7"/>
<circle cx="498.2" cy="337.0" r="2.0"/>
<circle cx="381.7" cy="326.3" r="2.9"/>
<circle cx="334.2" cy="312.9" r="2.0"/>
<circle cx="163.2" cy="337.5" r="2.0"/>
<circle cx="445.8" cy="366.4" r="2.3"/>
<circle cx="443.7" cy="365.4" r="2.1"/>
<circle cx="699.8" cy="392.7" r="2.6"/>
<circle cx="795.1" cy="420.4" r="2.6"/>
<circle cx="795.3" cy="423.3" r="2.3"/>
<circle cx="260.2" cy="306.4" r="2.9"/>
<circle cx="257.8" cy="303.5" r="2.2"/>
<circle cx="744.0" cy="399.3" r="2.0"/>
<circle cx="646.4" cy="394.5" r="2.3"/>
<circle cx="645.5" cy="391.5" r="1.8"/>
<circle cx="266.3" cy="347.3" r="2.3"/>
<circle cx="267.4" cy="344.6" r="2.1"/>
<circle cx="240.7" cy="323.6" r="2.3"/>
<circle cx="423.3" cy="344.4" r="2.6"/>
<circle cx="430.3" cy="349.8" r="2.9"/>
<circle cx="433.5" cy="349.2" r="2.4"/>
<circle cx="411.6" cy="325.0" r="2.0"/>
<circle cx="523.9" cy="380.3" r="2.0"/>
<circle cx="622.3" cy="355.7" r="2.0"/>
<circle cx="752.8" cy="364.8" r="2.0"/>
<circle cx="318.0" cy="331.1" r="2.6"/>
<circle cx="318.3" cy="328.7" r="1.8"/>
<circle cx="724.2" cy="358.0" r="2.0"/>
<circle cx="796.4" cy="418.0" r="2.3"/>
<circle cx="471.6" cy="367.8" r="2.9"/>
<circle cx="491.1" cy="386.1" r="2.0"/>
<circle cx="490.9" cy="383.6" r="1.6"/>
<circle cx="521.2" cy="398.8" r="2.0"/>
<circle cx="740.5" cy="412.1" r="2.9"/>
<circle cx="743.3" cy="413.3" r="2.2"/>
<circle cx="943.6" cy="526.8" r="2.3"/>
<circle cx="941.8" cy="528.2" r="2.3"/>
<circle cx="921.9" cy="540.7" r="2.3"/>
<circle cx="955.6" cy="236.5" r="1.7"/>
<circle cx="953.2" cy="237.0" r="1.4"/>
<circle cx="929.4" cy="779.0" r="2.0"/>
<circle cx="948.7" cy="364.9" r="2.3"/>
<circle cx="936.9" cy="485.1" r="1.7"/>
<circle cx="943.9" cy="532.1" r="2.0"/>
<circle cx="940.6" cy="414.2" r="2.3"/>
<circle cx="923.1" cy="553.8" r="1.7"/>
<circle cx="924.9" cy="535.5" r="1.4"/>
<circle cx="940.7" cy="297.2" r="1.4"/>
<circle cx="951.1" cy="487.9" r="2.0"/>
<circle cx="951.0" cy="489.9" r="1.5"/>
<circle cx="919.2" cy="530.3" r="1.7"/>
<circle cx="917.9" cy="650.1" r="1.7"/>
<circle cx="943.7" cy="316.4" r="2.3"/>
<circle cx="946.1" cy="409.9" r="2.0"/>
<circle cx="947.9" cy="408.3" r="1.4"/>
<circle cx="953.1" cy="222.8" r="1.4"/>
<circle cx="954.6" cy="224.0" r="1.1"/>
<circle cx="946.7" cy="720.0" r="1.7"/>
<circle cx="944.7" cy="720.0" r="1.3"/>
<circle cx="956.1" cy="342.9" r="1.4"/>
<circle cx="939.0" cy="600.0" r="2.3"/>
<circle cx="941.5" cy="786.0" r="2.0"/>
<circle cx="940.6" cy="701.0" r="2.0"/>
<circle cx="938.3" cy="698.9" r="1.5"/>
<circle cx="925.4" cy="379.5" r="2.0"/>
<circle cx="938.9" cy="545.0" r="2.0"/>
<circle cx="928.7" cy="706.6" r="1.7"/>
<circle cx="930.9" cy="705.2" r="1.2"/>
<circle cx="935.8" cy="445.8" r="1.4"/>
<circle cx="924.8" cy="839.0" r="2.3"/>
<circle cx="938.1" cy="315.1" r="1.7"/>
<circle cx="947.3" cy="517.0" r="2.3"/>
<circle cx="925.3" cy="835.0" r="1.7"/>
<circle cx="932.3" cy="175.0" r="2.3"/>
<circle cx="934.5" cy="172.3" r="1.7"/>
<circle cx="926.2" cy="589.2" r="2.3"/>
<circle cx="940.9" cy="491.1" r="2.0"/>
<circle cx="957.4" cy="97.7" r="1.7"/>
<circle cx="929.3" cy="823.5" r="2.3"/>
<circle cx="931.2" cy="778.9" r="1.7"/>
<circle cx="932.8" cy="780.0" r="1.4"/>
<circle cx="933.4" cy="483.5" r="2.0"/>
<circle cx="934.4" cy="481.3" r="1.7"/>
<circle cx="951.3" cy="248.6" r="1.7"/>
<circle cx="932.0" cy="462.7" r="2.3"/>
<circle cx="938.8" cy="173.6" r="1.4"/>
<circle cx="962.6" cy="244.3" r="2.0"/>
<circle cx="915.1" cy="699.1" r="1.7"/>
<circle cx="932.9" cy="196.4" r="2.3"/>
<circle cx="921.2" cy="689.1" r="2.0"/>
<circle cx="922.5" cy="690.8" r="1.5"/>
<circle cx="934.4" cy="731.5" r="2.3"/>
<circle cx="942.8" cy="279.4" r="1.4"/>
<circle cx="940.9" cy="377.3" r="1.7"/>
<circle cx="925.0" cy="730.9" r="2.3"/>
<circle cx="929.0" cy="386.9" r="1.4"/>
<circle cx="929.8" cy="694.9" r="2.0"/>
<circle cx="941.2" cy="155.7" r="1.4"/>
<circle cx="949.7" cy="836.9" r="2.3"/>
<circle cx="934.1" cy="209.5" r="1.4"/>
<circle cx="935.3" cy="208.3" r="1.3"/>
<circle cx="938.7" cy="304.8" r="1.4"/>
<circle cx="926.1" cy="681.2" r="1.7"/>
<circle cx="928.6" cy="542.8" r="2.3"/>
<circle cx="936.0" cy="582.4" r="2.0"/>
<circle cx="955.5" cy="431.1" r="2.0"/>
<circle cx="947.1" cy="377.1" r="1.7"/>
<circle cx="931.6" cy="628.4" r="2.0"/>
<circle cx="948.8" cy="331.0" r="1.4"/>
<circle cx="954.0" cy="188.0" r="2.0"/>
<circle cx="940.8" cy="246.5" r="2.0"/>
<circle cx="918.4" cy="575.5" r="1.7"/>
<circle cx="919.8" cy="573.4" r="1.5"/>
<circle cx="919.3" cy="722.4" r="1.4"/>
<circle cx="931.2" cy="436.6" r="2.0"/>
<circle cx="961.7" cy="304.4" r="2.0"/>
<circle cx="964.7" cy="304.4" r="1.8"/>
<circle cx="928.4" cy="614.9" r="2.0"/>
<circle cx="925.7" cy="616.2" r="1.5"/>
<circle cx="934.7" cy="507.3" r="1.4"/>
<circle cx="920.2" cy="633.2" r="1.4"/>
<circle cx="935.2" cy="160.4" r="2.3"/>
<circle cx="914.0" cy="589.5" r="1.7"/>
<circle cx="925.4" cy="491.2" r="1.4"/>
<circle cx="951.6" cy="692.5" r="1.4"/>
<circle cx="929.4" cy="714.1" r="2.0"/>
<circle cx="945.6" cy="93.6" r="1.7"/>
<circle cx="934.0" cy="714.6" r="2.3"/>
<circle cx="937.3" cy="678.7" r="1.4"/>
<circle cx="935.5" cy="679.6" r="1.0"/>
<circle cx="944.0" cy="56.9" r="2.3"/>
<circle cx="945.1" cy="59.6" r="2.0"/>
<circle cx="935.8" cy="470.0" r="1.7"/>
<circle cx="930.3" cy="404.1" r="2.0"/>
<circle cx="953.4" cy="693.4" r="2.3"/>
<circle cx="945.1" cy="110.5" r="1.7"/>
<circle cx="936.5" cy="390.6" r="2.0"/>
<circle cx="934.1" cy="389.9" r="1.9"/>
<circle cx="942.8" cy="384.9" r="1.7"/>
<circle cx="941.6" cy="383.6" r="1.6"/>
<circle cx="937.2" cy="424.6" r="1.4"/>
<circle cx="938.3" cy="426.1" r="1.2"/>
<circle cx="928.1" cy="549.5" r="2.0"/>
<circle cx="953.0" cy="274.0" r="1.7"/>
<circle cx="951.6" cy="272.4" r="1.4"/>
<circle cx="962.4" cy="323.0" r="1.7"/>
<circle cx="953.7" cy="73.9" r="2.0"/>
<circle cx="938.6" cy="289.8" r="2.3"/>
<circle cx="920.3" cy="596.4" r="2.0"/>
<circle cx="935.8" cy="536.8" r="1.4"/>
<circle cx="928.9" cy="401.2" r="1.7"/>
<circle cx="929.2" cy="403.0" r="1.4"/>
<circle cx="943.2" cy="627.0" r="1.7"/>
<circle cx="945.6" cy="294.9" r="2.3"/>
<circle cx="941.3" cy="659.8" r="1.4"/>
<circle cx="934.1" cy="187.7" r="1.7"/>
<circle cx="950.5" cy="91.4" r="2.0"/>
<circle cx="919.9" cy="804.7" r="2.3"/>
<circle cx="918.8" cy="479.3" r="2.3"/>
<circle cx="939.3" cy="145.8" r="2.0"/>
<circle cx="944.1" cy="78.9" r="1.7"/>
<circle cx="936.1" cy="325.2" r="1.4"/>
<circle cx="937.0" cy="323.3" r="1.2"/>
<circle cx="930.5" cy="307.6" r="2.3"/>
<circle cx="939.4" cy="106.1" r="1.7"/>
<circle cx="938.6" cy="124.2" r="2.0"/>
<circle cx="952.2" cy="136.8" r="2.0"/>
<circle cx="943.3" cy="465.3" r="1.4"/>
<circle cx="914.1" cy="802.0" r="1.4"/>
<circle cx="947.6" cy="79.2" r="1.7"/>
<circle cx="937.7" cy="799.0" r="2.3"/>
<circle cx="939.7" cy="797.7" r="2.2"/>
<circle cx="922.1" cy="751.6" r="1.4"/>
<circle cx="935.0" cy="759.6" r="1.7"/>
<circle cx="965.9" cy="65.1" r="2.0"/>
<circle cx="927.8" cy="574.9" r="2.0"/>
<circle cx="931.5" cy="448.5" r="2.3"/>
<circle cx="930.2" cy="445.9" r="2.3"/>
<circle cx="923.1" cy="688.3" r="1.4"/>
<circle cx="923.8" cy="687.0" r="1.1"/>
<circle cx="954.1" cy="438.9" r="1.7"/>
<circle cx="955.6" cy="438.8" r="1.6"/>
<circle cx="955.6" cy="211.8" r="2.0"/>
<circle cx="953.1" cy="366.8" r="2.3"/>
<circle cx="961.6" cy="167.6" r="2.0"/>
<circle cx="933.8" cy="247.2" r="1.7"/>
<circle cx="926.5" cy="539.8" r="1.7"/>
<circle cx="933.5" cy="438.3" r="1.7"/>
<circle cx="919.4" cy="759.1" r="2.0"/>
<circle cx="919.0" cy="761.1" r="1.6"/>
<circle cx="947.2" cy="684.8" r="1.4"/>
<circle cx="940.2" cy="174.2" r="2.3"/>
<circle cx="926.1" cy="555.1" r="1.7"/>
<circle cx="959.2" cy="338.0" r="1.7"/>
<circle cx="958.2" cy="340.1" r="1.5"/>
<circle cx="933.6" cy="248.7" r="1.4"/>
<circle cx="962.7" cy="196.6" r="2.3"/>
<circle cx="940.5" cy="644.2" r="2.3"/>
<circle cx="943.1" cy="564.0" r="2.3"/>
<circle cx="957.4" cy="324.9" r="1.4"/>
<circle cx="956.9" cy="323.0" r="1.3"/>
<circle cx="935.7" cy="78.7" r="1.7"/>
<circle cx="926.9" cy="565.9" r="2.0"/>
<circle cx="935.5" cy="618.3" r="1.7"/>
<circle cx="935.5" cy="616.1" r="1.5"/>
<circle cx="929.6" cy="834.8" r="2.3"/>
<circle cx="928.2" cy="829.8" r="2.0"/>
<circle cx="913.0" cy="815.1" r="2.0"/>
<circle cx="952.4" cy="101.3" r="2.3"/>
<circle cx="927.3" cy="338.2" r="1.7"/>
<circle cx="924.9" cy="338.2" r="1.6"/>
<circle cx="950.4" cy="146.1" r="1.7"/>
<circle cx="950.0" cy="348.1" r="2.3"/>
<circle cx="950.8" cy="344.7" r="2.1"/>
<circle cx="944.1" cy="795.0" r="1.4"/>
<circle cx="946.0" cy="79.7" r="2.0"/>
<circle cx="950.3" cy="526.8" r="2.0"/>
<circle cx="932.2" cy="612.8" r="1.7"/>
<circle cx="931.5" cy="610.4" r="1.3"/>
<circle cx="917.3" cy="693.5" r="1.4"/>
<circle cx="921.0" cy="840.0" r="2.3"/>
<circle cx="918.2" cy="840.1" r="1.7"/>
<circle cx="933.8" cy="322.4" r="1.7"/>
<circle cx="934.9" cy="252.2" r="2.3"/>
<circle cx="940.6" cy="60.0" r="1.4"/>
<circle cx="940.4" cy="58.1" r="1.4"/>
<circle cx="949.0" cy="61.1" r="1.4"/>
<circle cx="947.1" cy="44.3" r="1.4"/>
<circle cx="948.0" cy="45.6" r="1.2"/>
<circle cx="937.1" cy="137.0" r="2.3"/>
<circle cx="939.0" cy="138.7" r="1.7"/>
<circle cx="920.2" cy="778.7" r="2.0"/>
<circle cx="920.3" cy="780.8" r="1.4"/>
<circle cx="945.5" cy="256.0" r="1.4"/>
<circle cx="944.0" cy="255.9" r="1.3"/>
<circle cx="958.5" cy="389.5" r="2.3"/>
<circle cx="941.8" cy="109.1" r="1.4"/>
<circle cx="921.6" cy="841.2" r="1.7"/>
<circle cx="933.2" cy="320.0" r="1.4"/>
<circle cx="928.4" cy="786.3" r="1.4"/>
<circle cx="926.4" cy="787.3" r="1.2"/>
<circle cx="945.7" cy="458.2" r="2.0"/>
<circle cx="943.2" cy="404.4" r="1.4"/>
<circle cx="956.0" cy="141.6" r="1.4"/>
<circle cx="932.9" cy="570.8" r="1.4"/>
<circle cx="961.1" cy="312.7" r="1.7"/>
<circle cx="949.7" cy="404.9" r="2.0"/>
<circle cx="927.8" cy="286.4" r="2.0"/>
<circle cx="929.1" cy="288.5" r="1.5"/>
<circle cx="949.0" cy="587.1" r="1.7"/>
<circle cx="937.1" cy="604.8" r="1.4"/>
<circle cx="945.1" cy="237.9" r="2.3"/>
<circle cx="955.8" cy="430.9" r="2.0"/>
<circle cx="927.6" cy="458.6" r="2.0"/>
<circle cx="947.3" cy="460.0" r="1.7"/>
<circle cx="949.3" cy="459.9" r="1.4"/>
<circle cx="960.9" cy="298.9" r="2.3"/>
<circle cx="960.4" cy="296.8" r="2.0"/>
<circle cx="945.4" cy="44.4" r="2.0"/>
<circle cx="941.4" cy="345.7" r="1.7"/>
<circle cx="922.5" cy="619.5" r="1.4"/>
<circle cx="957.8" cy="253.6" r="2.3"/>
<circle cx="959.1" cy="250.9" r="2.0"/>
<circle cx="935.5" cy="820.0" r="2.3"/>
<circle cx="954.6" cy="448.3" r="2.3"/>
<circle cx="930.9" cy="262.4" r="2.0"/>
<circle cx="939.5" cy="388.3" r="2.3"/>
<circle cx="939.9" cy="705.7" r="2.3"/>
<circle cx="939.6" cy="88.0" r="1.7"/>
<circle cx="939.3" cy="89.9" r="1.2"/>
<circle cx="937.8" cy="784.1" r="1.4"/>
<circle cx="931.8" cy="578.7" r="1.4"/>
<circle cx="932.5" cy="580.1" r="1.0"/>
<circle cx="943.4" cy="680.1" r="2.0"/>
<circle cx="953.0" cy="48.3" r="2.0"/>
<circle cx="959.6" cy="378.2" r="2.0"/>
<circle cx="922.9" cy="569.7" r="2.3"/>
<circle cx="925.9" cy="567.9" r="1.7"/>
<circle cx="953.2" cy="389.2" r="2.3"/>
<circle cx="931.4" cy="349.8" r="2.0"/>
<circle cx="931.2" cy="795.0" r="2.3"/>
<circle cx="919.3" cy="548.8" r="1.7"/>
<circle cx="957.4" cy="254.4" r="1.4"/>
<circle cx="923.6" cy="824.6" r="1.7"/>
<circle cx="923.4" cy="822.1" r="1.6"/>
<circle cx="932.1" cy="257.3" r="1.7"/>
<circle cx="933.4" cy="256.1" r="1.7"/>
<circle cx="924.7" cy="651.2" r="1.4"/>
<circle cx="951.0" cy="240.5" r="1.4"/>
<circle cx="950.7" cy="197.2" r="2.3"/>
<circle cx="950.9" cy="199.9" r="1.7"/>
<circle cx="935.4" cy="666.5" r="2.0"/>
<circle cx="958.5" cy="334.5" r="1.4"/>
<circle cx="921.5" cy="704.8" r="2.0"/>
<circle cx="923.5" cy="565.3" r="2.3"/>
<circle cx="920.9" cy="565.1" r="1.8"/>
<circle cx="938.9" cy="222.1" r="2.3"/>
<circle cx="948.8" cy="657.4" r="1.7"/>
<circle cx="931.1" cy="397.1" r="2.3"/>
<circle cx="929.3" cy="395.7" r="2.0"/>
<circle cx="950.2" cy="299.9" r="2.0"/>
<circle cx="968.6" cy="75.3" r="1.7"/>
<circle cx="926.0" cy="359.4" r="1.4"/>
<circle cx="918.9" cy="818.2" r="2.3"/>
<circle cx="943.3" cy="91.7" r="2.0"/>
<circle cx="941.4" cy="93.8" r="1.9"/>
<circle cx="946.3" cy="382.4" r="2.3"/>
<circle cx="943.7" cy="382.4" r="1.8"/>
<circle cx="921.4" cy="635.6" r="1.4"/>
<circle cx="922.2" cy="636.9" r="1.3"/>
<circle cx="946.9" cy="170.2" r="1.7"/>
<circle cx="930.6" cy="405.3" r="1.7"/>
<circle cx="941.1" cy="811.5" r="1.7"/>
<circle cx="941.6" cy="809.1" r="1.5"/>
<circle cx="932.1" cy="795.0" r="1.4"/>
<circle cx="933.7" cy="793.8" r="1.2"/>
<circle cx="919.4" cy="475.5" r="1.4"/>
<circle cx="920.3" cy="476.9" r="1.1"/>
<circle cx="945.4" cy="528.4" r="2.3"/>
<circle cx="930.0" cy="301.2" r="1.4"/>
<circle cx="932.1" cy="780.8" r="1.4"/>
<circle cx="933.0" cy="779.5" r="1.2"/>
<circle cx="932.9" cy="788.4" r="2.0"/>
<circle cx="935.5" cy="789.2" r="1.7"/>
<circle cx="931.4" cy="410.5" r="2.3"/>
<circle cx="922.6" cy="492.3" r="1.4"/>
<circle cx="925.7" cy="833.6" r="1.4"/>
<circle cx="925.0" cy="527.6" r="2.3"/>
<circle cx="958.2" cy="28.1" r="2.3"/>
<circle cx="918.2" cy="460.7" r="2.3"/>
<circle cx="918.6" cy="554.7" r="2.0"/>
<circle cx="951.2" cy="671.7" r="2.0"/>
<circle cx="955.1" cy="295.9" r="1.7"/>
<circle cx="938.8" cy="35.5" r="2.0"/>
<circle cx="949.0" cy="393.8" r="1.7"/>
<circle cx="947.5" cy="395.2" r="1.6"/>
<circle cx="935.3" cy="538.0" r="1.4"/>
<circle cx="941.3" cy="572.0" r="2.3"/>
<circle cx="939.2" cy="571.7" r="1.9"/>
<circle cx="964.7" cy="199.1" r="1.4"/>
<circle cx="939.1" cy="672.4" r="1.4"/>
<circle cx="945.3" cy="333.7" r="1.4"/>
<circle cx="957.4" cy="146.4" r="1.7"/>
<circle cx="955.2" cy="147.8" r="1.5"/>
<circle cx="927.7" cy="582.1" r="2.0"/>
<circle cx="929.3" cy="538.6" r="2.3"/>
<circle cx="924.8" cy="680.4" r="1.7"/>
<circle cx="925.2" cy="678.9" r="1.6"/>
<circle cx="954.5" cy="324.8" r="2.0"/>
<circle cx="928.9" cy="663.8" r="2.0"/>
<circle cx="966.5" cy="142.1" r="1.7"/>
<circle cx="949.2" cy="645.8" r="2.3"/>
<circle cx="917.5" cy="736.2" r="1.4"/>
<circle cx="928.2" cy="668.3" r="2.0"/>
<circle cx="930.5" cy="669.7" r="2.0"/>
<circle cx="949.6" cy="723.4" r="1.7"/>
<circle cx="951.1" cy="724.2" r="1.7"/>
<circle cx="951.5" cy="616.2" r="2.0"/>
<circle cx="913.9" cy="611.0" r="2.3"/>
<circle cx="912.8" cy="609.0" r="2.3"/>
<circle cx="958.9" cy="175.8" r="2.0"/>
<circle cx="931.6" cy="805.5" r="2.3"/>
<circle cx="940.2" cy="372.8" r="1.7"/>
<circle cx="941.9" cy="779.2" r="1.4"/>
<circle cx="926.9" cy="814.6" r="1.7"/>
<circle cx="928.0" cy="816.7" r="1.5"/>
<circle cx="916.8" cy="627.2" r="1.4"/>
<circle cx="917.1" cy="625.0" r="1.1"/>
<circle cx="940.0" cy="325.6" r="1.4"/>
<circle cx="941.4" cy="327.2" r="1.3"/>
<circle cx="929.9" cy="686.6" r="1.4"/>
<circle cx="953.0" cy="528.6" r="1.4"/>
<circle cx="941.3" cy="140.0" r="2.0"/>
<circle cx="956.2" cy="430.2" r="1.4"/>
<circle cx="957.7" cy="430.3" r="1.4"/>
<circle cx="930.3" cy="628.6" r="2.0"/>
<circle cx="945.4" cy="821.8" r="1.4"/>
<circle cx="946.1" cy="823.5" r="1.0"/>
<circle cx="922.7" cy="540.7" r="2.0"/>
<circle cx="923.2" cy="538.0" r="1.6"/>
<circle cx="952.9" cy="696.7" r="2.0"/>
<circle cx="914.4" cy="685.9" r="2.0"/>
<circle cx="926.4" cy="620.8" r="2.3"/>
<circle cx="956.3" cy="443.0" r="2.0"/>
<circle cx="949.7" cy="111.3" r="2.3"/>
<circle cx="948.4" cy="243.8" r="2.0"/>
<circle cx="948.8" cy="241.1" r="1.6"/>
<circle cx="943.1" cy="256.8" r="2.0"/>
<circle cx="945.0" cy="258.3" r="1.7"/>
<circle cx="932.4" cy="457.3" r="2.0"/>
<circle cx="942.1" cy="406.5" r="1.4"/>
<circle cx="939.2" cy="170.6" r="2.3"/>
<circle cx="937.1" cy="348.1" r="1.7"/>
<circle cx="935.4" cy="349.4" r="1.4"/>
<circle cx="937.4" cy="37.5" r="2.0"/>
<circle cx="935.7" cy="36.4" r="1.8"/>
<circle cx="915.6" cy="821.8" r="1.7"/>
<circle cx="935.3" cy="228.7" r="2.3"/>
<circle cx="943.3" cy="192.9" r="1.4"/>
<circle cx="945.1" cy="194.2" r="1.1"/>
<circle cx="931.9" cy="505.6" r="1.4"/>
<circle cx="941.8" cy="196.2" r="1.7"/>
<circle cx="950.3" cy="573.7" r="1.4"/>
<circle cx="920.9" cy="526.2" r="2.3"/>
<circle cx="940.0" cy="180.8" r="2.0"/>
<circle cx="929.9" cy="453.6" r="2.0"/>
<circle cx="941.9" cy="197.3" r="2.3"/>
<circle cx="934.8" cy="235.1" r="1.4"/>
<circle cx="935.9" cy="315.6" r="1.4"/>
<circle cx="926.0" cy="736.6" r="2.3"/>
<circle cx="966.5" cy="65.0" r="2.0"/>
<circle cx="954.4" cy="71.5" r="2.0"/>
<circle cx="930.4" cy="796.5" r="1.4"/>
<circle cx="928.8" cy="797.4" r="1.1"/>
<circle cx="952.5" cy="384.4" r="2.0"/>
<circle cx="951.9" cy="382.1" r="1.7"/>
<circle cx="943.7" cy="463.2" r="1.4"/>
<circle cx="941.6" cy="463.5" r="1.4"/>
<circle cx="924.3" cy="749.3" r="2.0"/>
<circle cx="955.8" cy="14.9" r="2.3"/>
<circle cx="958.3" cy="14.5" r="2.1"/>
<circle cx="955.4" cy="349.2" r="1.7"/>
<circle cx="945.5" cy="70.1" r="1.4"/>
<circle cx="916.2" cy="753.4" r="2.0"/>
<circle cx="913.2" cy="753.1" r="1.7"/>
<circle cx="945.8" cy="823.3" r="1.4"/>
<circle cx="949.5" cy="33.3" r="1.7"/>
<circle cx="946.3" cy="200.1" r="2.0"/>
<circle cx="963.9" cy="28.9" r="1.7"/>
<circle cx="939.9" cy="634.2" r="2.0"/>
<circle cx="941.0" cy="17.8" r="2.0"/>
<circle cx="928.1" cy="471.9" r="1.4"/>
<circle cx="946.3" cy="249.1" r="1.4"/>
<circle cx="953.6" cy="93.3" r="2.0"/>
<circle cx="963.8" cy="121.0" r="1.4"/>
<circle cx="965.3" cy="122.3" r="1.3"/>
<circle cx="930.6" cy="660.1" r="2.3"/>
<circle cx="967.6" cy="155.1" r="1.4"/>
<circle cx="968.5" cy="154.0" r="1.1"/>
<circle cx="950.5" cy="360.5" r="2.0"/>
<circle cx="952.9" cy="358.8" r="2.0"/>
<circle cx="933.1" cy="215.3" r="1.7"/>
<circle cx="931.1" cy="501.1" r="2.3"/>
<circle cx="939.0" cy="94.9" r="2.3"/>
<circle cx="936.4" cy="94.5" r="2.2"/>
<circle cx="930.4" cy="733.6" r="2.0"/>
<circle cx="950.2" cy="630.1" r="1.4"/>
<circle cx="916.9" cy="724.6" r="1.4"/>
<circle cx="944.3" cy="747.4" r="2.0"/>
<circle cx="929.1" cy="290.5" r="1.7"/>
<circle cx="961.8" cy="9.5" r="2.0"/>
<circle cx="960.7" cy="6.9" r="1.7"/>
<circle cx="920.7" cy="838.2" r="1.7"/>
<circle cx="922.3" cy="838.4" r="1.7"/>
<circle cx="945.0" cy="650.9" r="2.3"/>
<circle cx="965.3" cy="203.8" r="2.3"/>
<circle cx="915.9" cy="828.5" r="2.3"/>
<circle cx="948.3" cy="628.1" r="1.4"/>
<circle cx="947.0" cy="629.3" r="1.2"/>
<circle cx="923.9" cy="589.4" r="2.3"/>
<circle cx="926.5" cy="590.1" r="1.7"/>
<circle cx="935.3" cy="163.0" r="2.0"/>
<circle cx="933.0" cy="164.1" r="1.5"/>
<circle cx="933.7" cy="484.5" r="2.3"/>
<circle cx="954.4" cy="219.1" r="2.3"/>
<circle cx="957.1" cy="218.8" r="1.7"/>
<circle cx="939.1" cy="497.9" r="2.0"/>
<circle cx="940.0" cy="532.9" r="2.0"/>
<circle cx="949.1" cy="778.5" r="2.0"/>
<circle cx="936.2" cy="400.6" r="1.4"/>
<circle cx="943.7" cy="108.4" r="1.4"/>
<circle cx="962.6" cy="267.9" r="2.3"/>
<circle cx="945.5" cy="169.1" r="1.4"/>
<circle cx="944.1" cy="170.4" r="1.4"/>
<circle cx="915.8" cy="809.0" r="1.7"/>
<circle cx="918.2" cy="808.2" r="1.5"/>
<circle cx="961.0" cy="364.3" r="1.7"/>
<circle cx="931.2" cy="839.8" r="2.0"/>
<circle cx="914.3" cy="726.4" r="2.3"/>
<circle cx="910.8" cy="725.9" r="1.7"/>
<circle cx="939.9" cy="802.0" r="2.0"/>
<circle cx="927.6" cy="656.1" r="2.0"/>
<circle cx="912.9" cy="790.5" r="2.3"/>
<circle cx="945.8" cy="450.3" r="2.0"/>
<circle cx="921.3" cy="698.9" r="2.0"/>
<circle cx="931.3" cy="789.7" r="2.0"/>
<circle cx="934.1" cy="791.2" r="1.8"/>
<circle cx="943.6" cy="359.3" r="2.3"/>
<circle cx="948.5" cy="736.3" r="2.0"/>
<circle cx="946.5" cy="519.0" r="1.4"/>
<circle cx="953.3" cy="656.6" r="1.7"/>
<circle cx="954.7" cy="657.8" r="1.6"/>
<circle cx="948.8" cy="270.3" r="2.0"/>
<circle cx="956.0" cy="104.7" r="2.3"/>
<circle cx="955.5" cy="107.4" r="1.8"/>
<circle cx="925.9" cy="666.8" r="2.3"/>
<circle cx="913.4" cy="639.4" r="2.3"/>
<circle cx="939.0" cy="711.7" r="2.3"/>
<circle cx="938.0" cy="302.6" r="1.4"/>
<circle cx="947.3" cy="759.4" r="2.0"/>
<circle cx="936.6" cy="789.8" r="2.3"/>
<circle cx="957.1" cy="143.3" r="1.7"/>
<circle cx="932.7" cy="689.7" r="2.0"/>
<circle cx="929.9" cy="689.5" r="1.9"/>
<circle cx="955.4" cy="45.7" r="2.0"/>
<circle cx="949.8" cy="505.3" r="1.4"/>
<circle cx="931.6" cy="831.0" r="1.4"/>
<circle cx="960.7" cy="76.4" r="2.3"/>
<circle cx="950.5" cy="85.5" r="1.7"/>
<circle cx="959.7" cy="173.6" r="2.0"/>
<circle cx="933.2" cy="588.4" r="1.7"/>
<circle cx="931.3" cy="587.5" r="1.5"/>
<circle cx="933.5" cy="714.8" r="2.3"/>
<circle cx="936.3" cy="716.7" r="2.1"/>
<circle cx="927.8" cy="314.4" r="1.7"/>
<circle cx="937.9" cy="600.9" r="1.7"/>
<circle cx="936.7" cy="602.5" r="1.4"/>
<circle cx="926.3" cy="387.8" r="2.3"/>
<circle cx="930.2" cy="510.1" r="2.0"/>
<circle cx="928.4" cy="664.0" r="1.7"/>
<circle cx="916.7" cy="560.4" r="2.0"/>
<circle cx="963.2" cy="9.7" r="1.7"/>
<circle cx="936.1" cy="447.2" r="2.3"/>
<circle cx="950.6" cy="175.0" r="1.4"/>
<circle cx="950.8" cy="173.3" r="1.2"/>
<circle cx="938.9" cy="823.3" r="2.0"/>
<circle cx="949.5" cy="530.1" r="1.4"/>
<circle cx="961.5" cy="113.7" r="1.7"/>
<circle cx="950.6" cy="134.7" r="1.7"/>
<circle cx="932.8" cy="729.9" r="2.0"/>
<circle cx="933.8" cy="727.7" r="1.6"/>
<circle cx="939.4" cy="207.9" r="1.7"/>
<circle cx="951.3" cy="48.0" r="1.4"/>
<circle cx="966.9" cy="233.7" r="2.3"/>
<circle cx="940.2" cy="163.3" r="1.7"/>
<circle cx="952.5" cy="363.5" r="1.7"/>
<circle cx="946.5" cy="86.9" r="1.4"/>
<circle cx="946.9" cy="88.9" r="1.3"/>
<circle cx="936.2" cy="62.7" r="2.0"/>
<circle cx="957.2" cy="53.2" r="1.7"/>
<circle cx="931.0" cy="307.9" r="2.0"/>
<circle cx="938.2" cy="817.7" r="2.3"/>
<circle cx="928.2" cy="779.0" r="2.3"/>
<circle cx="922.7" cy="762.4" r="1.4"/>
<circle cx="958.1" cy="362.4" r="1.4"/>
<circle cx="959.8" cy="362.1" r="1.2"/>
<circle cx="952.7" cy="490.9" r="1.4"/>
<circle cx="938.8" cy="453.7" r="1.4"/>
<circle cx="962.6" cy="145.4" r="1.4"/>
<circle cx="941.0" cy="742.5" r="2.3"/>
<circle cx="939.7" cy="744.7" r="2.2"/>
<circle cx="941.3" cy="710.4" r="1.7"/>
<circle cx="942.6" cy="712.1" r="1.5"/>
<circle cx="928.0" cy="321.5" r="1.7"/>
<circle cx="937.7" cy="449.1" r="2.3"/>
<circle cx="928.2" cy="584.6" r="2.0"/>
<circle cx="960.8" cy="227.2" r="2.3"/>
<circle cx="961.2" cy="229.8" r="1.8"/>
<circle cx="922.3" cy="644.6" r="2.0"/>
<circle cx="921.8" cy="465.4" r="2.3"/>
<circle cx="954.7" cy="287.6" r="2.0"/>
<circle cx="927.7" cy="442.1" r="1.7"/>
<circle cx="930.3" cy="441.7" r="1.7"/>
<circle cx="964.4" cy="99.2" r="2.3"/>
<circle cx="963.2" cy="96.0" r="1.8"/>
<circle cx="960.6" cy="296.8" r="2.3"/>
<circle cx="928.8" cy="411.9" r="2.0"/>
<circle cx="944.3" cy="95.5" r="1.7"/>
<circle cx="941.2" cy="612.7" r="1.7"/>
<circle cx="943.8" cy="613.2" r="1.2"/>
<circle cx="941.2" cy="149.0" r="1.4"/>
<circle cx="941.8" cy="147.1" r="1.0"/>
<circle cx="964.1" cy="250.2" r="1.4"/>
<circle cx="965.0" cy="249.1" r="1.0"/>
<circle cx="940.1" cy="497.7" r="2.3"/>
<circle cx="937.8" cy="496.0" r="2.1"/>
<circle cx="919.7" cy="605.9" r="2.3"/>
<circle cx="949.0" cy="74.5" r="1.4"/>
<circle cx="961.4" cy="315.9" r="2.0"/>
<circle cx="925.9" cy="447.0" r="2.3"/>
<circle cx="924.4" cy="773.8" r="1.7"/>
<circle cx="925.8" cy="775.3" r="1.6"/>
<circle cx="948.0" cy="808.4" r="1.7"/>
<circle cx="947.6" cy="248.7" r="2.0"/>
<circle cx="922.3" cy="772.7" r="1.7"/>
<circle cx="917.7" cy="489.2" r="2.0"/>
<circle cx="935.2" cy="686.5" r="2.3"/>
<circle cx="929.6" cy="406.1" r="1.4"/>
<circle cx="947.3" cy="189.7" r="2.3"/>
<circle cx="948.1" cy="192.0" r="2.2"/>
<circle cx="933.4" cy="325.2" r="2.3"/>
<circle cx="955.0" cy="109.7" r="1.7"/>
<circle cx="963.0" cy="274.1" r="2.3"/>
<circle cx="948.1" cy="786.2" r="1.7"/>
<circle cx="945.7" cy="45.4" r="2.0"/>
<circle cx="924.8" cy="554.6" r="2.3"/>
<circle cx="941.8" cy="73.2" r="2.3"/>
<circle cx="956.8" cy="242.2" r="1.7"/>
<circle cx="958.5" cy="243.2" r="1.5"/>
<circle cx="931.6" cy="596.9" r="1.4"/>
<circle cx="933.2" cy="597.9" r="1.3"/>
<circle cx="941.7" cy="231.4" r="1.4"/>
<circle cx="943.6" cy="561.3" r="2.3"/>
<circle cx="925.9" cy="750.9" r="1.4"/>
<circle cx="924.7" cy="751.6" r="1.1"/>
<circle cx="943.4" cy="26.6" r="1.7"/>
<circle cx="936.1" cy="58.6" r="1.4"/>
<circle cx="934.2" cy="58.2" r="1.2"/>
<circle cx="927.0" cy="816.6" r="1.4"/>
<circle cx="934.1" cy="691.5" r="2.0"/>
<circle cx="948.3" cy="465.1" r="2.0"/>
<circle cx="951.4" cy="465.2" r="1.7"/>
<circle cx="938.8" cy="476.6" r="1.7"/>
<circle cx="962.2" cy="171.1" r="1.4"/>
<circle cx="966.0" cy="168.6" r="2.3"/>
<circle cx="967.8" cy="165.5" r="1.7"/>
<circle cx="935.5" cy="420.3" r="2.3"/>
<circle cx="943.2" cy="298.1" r="1.4"/>
<circle cx="965.4" cy="83.5" r="2.3"/>
<circle cx="967.7" cy="85.5" r="1.8"/>
<circle cx="928.3" cy="455.7" r="2.0"/>
<circle cx="950.9" cy="303.2" r="1.4"/>
<circle cx="923.2" cy="528.9" r="2.0"/>
<circle cx="918.5" cy="627.8" r="2.0"/>
<circle cx="917.3" cy="625.7" r="1.8"/>
<circle cx="935.1" cy="709.3" r="2.0"/>
<circle cx="942.3" cy="748.0" r="1.4"/>
<circle cx="929.6" cy="692.6" r="2.3"/>
<circle cx="927.5" cy="690.6" r="1.7"/>
<circle cx="952.7" cy="769.3" r="1.4"/>
<circle cx="954.2" cy="770.1" r="1.1"/>
<circle cx="958.9" cy="251.1" r="1.4"/>
<circle cx="956.4" cy="135.7" r="1.7"/>
<circle cx="933.1" cy="294.9" r="1.4"/>
<circle cx="939.9" cy="345.9" r="1.7"/>
<circle cx="966.4" cy="108.3" r="2.3"/>
<circle cx="949.9" cy="297.7" r="1.7"/>
<circle cx="947.8" cy="296.5" r="1.3"/>
<circle cx="958.4" cy="272.3" r="2.3"/>
<circle cx="951.4" cy="684.8" r="2.0"/>
<circle cx="949.4" cy="685.2" r="1.9"/>
<circle cx="939.1" cy="775.7" r="2.0"/>
<circle cx="915.0" cy="507.9" r="1.4"/>
<circle cx="948.2" cy="290.9" r="1.7"/>
<circle cx="957.6" cy="349.9" r="2.0"/>
<circle cx="950.9" cy="546.7" r="1.4"/>
<circle cx="952.2" cy="547.8" r="1.2"/>
<circle cx="949.0" cy="183.0" r="1.7"/>
<circle cx="936.6" cy="401.0" r="2.0"/>
<circle cx="944.8" cy="576.1" r="2.0"/>
<circle cx="927.4" cy="827.8" r="2.0"/>
<circle cx="942.0" cy="325.8" r="2.0"/>
<circle cx="959.0" cy="242.5" r="2.0"/>
<circle cx="945.7" cy="136.8" r="2.0"/>
<circle cx="935.5" cy="403.5" r="2.0"/>
<circle cx="922.9" cy="820.9" r="1.7"/>
<circle cx="923.1" cy="823.6" r="1.5"/>
<circle cx="931.0" cy="643.0" r="2.3"/>
<circle cx="949.1" cy="14.5" r="2.3"/>
<circle cx="949.9" cy="12.6" r="2.3"/>
<circle cx="965.3" cy="25.2" r="2.3"/>
<circle cx="936.9" cy="833.0" r="1.7"/>
<circle cx="934.7" cy="834.3" r="1.6"/>
<circle cx="934.9" cy="530.9" r="2.3"/>
<circle cx="922.2" cy="539.3" r="1.4"/>
<circle cx="933.5" cy="369.9" r="2.0"/>
<circle cx="928.1" cy="727.4" r="1.7"/>
<circle cx="961.5" cy="86.3" r="2.3"/>
<circle cx="925.7" cy="694.3" r="2.3"/>
<circle cx="950.3" cy="115.8" r="1.4"/>
<circle cx="951.5" cy="114.7" r="1.1"/>
<circle cx="941.0" cy="193.9" r="1.4"/>
<circle cx="927.4" cy="389.3" r="2.0"/>
<circle cx="925.7" cy="387.9" r="1.9"/>
<circle cx="940.2" cy="788.3" r="1.4"/>
<circle cx="923.0" cy="818.6" r="2.3"/>
<circle cx="942.8" cy="500.9" r="1.4"/>
<circle cx="943.3" cy="498.8" r="1.3"/>
<circle cx="917.7" cy="648.8" r="1.4"/>
<circle cx="937.7" cy="498.8" r="1.7"/>
<circle cx="936.1" cy="32.0" r="2.3"/>
<circle cx="934.2" cy="34.1" r="1.6"/>
<circle cx="927.2" cy="776.4" r="1.7"/>
<circle cx="948.1" cy="686.1" r="2.3"/>
<circle cx="959.3" cy="154.4" r="1.4"/>
<circle cx="950.5" cy="402.1" r="2.3"/>
<circle cx="953.3" cy="404.4" r="2.0"/>
<circle cx="950.3" cy="219.1" r="2.0"/>
<circle cx="942.1" cy="549.1" r="2.0"/>
<circle cx="929.5" cy="639.1" r="1.4"/>
<circle cx="937.2" cy="253.1" r="2.0"/>
<circle cx="950.2" cy="618.1" r="2.3"/>
<circle cx="930.2" cy="797.6" r="1.7"/>
<circle cx="960.4" cy="339.9" r="2.3"/>
<circle cx="958.1" cy="337.7" r="2.1"/>
<circle cx="966.6" cy="149.1" r="2.0"/>
<circle cx="969.4" cy="149.4" r="1.7"/>
<circle cx="938.6" cy="473.8" r="2.3"/>
<circle cx="933.9" cy="233.2" r="2.0"/>
<circle cx="932.7" cy="231.5" r="1.8"/>
<circle cx="964.1" cy="44.8" r="2.3"/>
<circle cx="947.3" cy="440.1" r="1.7"/>
<circle cx="969.0" cy="83.1" r="1.4"/>
<circle cx="916.4" cy="652.3" r="2.3"/>
<circle cx="929.3" cy="488.5" r="1.4"/>
<circle cx="929.7" cy="486.9" r="1.2"/>
<circle cx="942.0" cy="467.5" r="2.3"/>
<circle cx="957.3" cy="263.2" r="1.4"/>
<circle cx="956.8" cy="261.3" r="1.1"/>
<circle cx="957.3" cy="22.9" r="1.4"/>
<circle cx="958.9" cy="23.0" r="1.3"/>
<circle cx="955.3" cy="204.7" r="2.3"/>
<circle cx="944.4" cy="432.0" r="2.3"/>
<circle cx="934.1" cy="222.4" r="1.4"/>
<circle cx="934.1" cy="224.4" r="1.2"/>
<circle cx="946.9" cy="135.0" r="1.7"/>
<circle cx="942.3" cy="340.9" r="2.0"/>
<circle cx="943.5" cy="150.7" r="2.0"/>
<circle cx="954.0" cy="264.1" r="2.0"/>
<circle cx="955.1" cy="265.7" r="1.5"/>
<circle cx="921.2" cy="602.5" r="1.7"/>
<circle cx="924.8" cy="563.7" r="2.0"/>
<circle cx="953.7" cy="581.5" r="1.7"/>
<circle cx="955.2" cy="581.2" r="1.6"/>
<circle cx="930.6" cy="696.6" r="2.3"/>
<circle cx="934.1" cy="696.3" r="2.3"/>
<circle cx="937.6" cy="357.7" r="1.7"/>
<circle cx="938.0" cy="222.1" r="2.0"/>
<circle cx="916.7" cy="708.5" r="2.3"/>
<circle cx="937.7" cy="292.1" r="1.4"/>
<circle cx="939.6" cy="291.4" r="1.4"/>
<circle cx="944.6" cy="43.1" r="2.0"/>
<circle cx="946.3" cy="44.5" r="1.7"/>
<circle cx="949.7" cy="290.3" r="1.7"/>
<circle cx="946.3" cy="130.3" r="2.0"/>
<circle cx="955.2" cy="374.0" r="2.0"/>
<circle cx="922.1" cy="804.4" r="2.0"/>
<circle cx="920.7" cy="806.1" r="1.8"/>
<circle cx="931.6" cy="598.7" r="1.7"/>
<circle cx="933.1" cy="534.9" r="2.0"/>
<circle cx="934.5" cy="536.9" r="1.9"/>
<circle cx="938.1" cy="474.1" r="1.7"/>
<circle cx="940.5" cy="474.1" r="1.5"/>
<circle cx="927.0" cy="553.8" r="2.0"/>
<circle cx="963.9" cy="43.9" r="2.0"/>
<circle cx="956.6" cy="338.2" r="1.4"/>
<circle cx="958.0" cy="337.6" r="1.1"/>
<circle cx="933.8" cy="425.2" r="1.7"/>
<circle cx="962.3" cy="131.7" r="2.3"/>
<circle cx="959.2" cy="131.6" r="2.3"/>
<circle cx="923.6" cy="807.8" r="1.4"/>
<circle cx="925.6" cy="807.6" r="1.2"/>
<circle cx="953.7" cy="252.4" r="2.0"/>
<circle cx="927.6" cy="835.0" r="2.3"/>
<circle cx="926.7" cy="837.9" r="1.7"/>
<circle cx="951.9" cy="49.5" r="2.3"/>
<circle cx="936.8" cy="125.8" r="1.4"/>
<circle cx="918.7" cy="687.5" r="2.0"/>
<circle cx="917.8" cy="572.1" r="2.0"/>
<circle cx="953.7" cy="66.1" r="2.3"/>
<circle cx="947.4" cy="148.2" r="2.0"/>
<circle cx="946.3" cy="226.4" r="1.4"/>
<circle cx="946.5" cy="555.5" r="2.0"/>
<circle cx="963.4" cy="188.1" r="2.0"/>
<circle cx="949.6" cy="177.7" r="1.4"/>
<circle cx="948.1" cy="332.1" r="2.0"/>
<circle cx="968.0" cy="128.4" r="1.7"/>
<circle cx="934.8" cy="571.3" r="1.4"/>
<circle cx="943.1" cy="686.7" r="2.3"/>
<circle cx="942.6" cy="822.9" r="2.0"/>
<circle cx="940.5" cy="823.0" r="1.6"/>
<circle cx="965.8" cy="19.3" r="2.0"/>
<circle cx="954.0" cy="157.3" r="1.4"/>
<circle cx="936.9" cy="272.1" r="2.3"/>
<circle cx="933.7" cy="524.8" r="2.0"/>
<circle cx="953.1" cy="90.9" r="2.3"/>
<circle cx="951.0" cy="89.5" r="1.6"/>
<circle cx="918.5" cy="714.1" r="2.3"/>
<circle cx="916.5" cy="716.5" r="1.9"/>
<circle cx="952.2" cy="26.2" r="1.7"/>
<circle cx="966.0" cy="145.8" r="1.7"/>
<circle cx="947.3" cy="276.3" r="2.3"/>
<circle cx="946.0" cy="278.6" r="1.7"/>
<circle cx="932.2" cy="599.0" r="2.3"/>
<circle cx="913.0" cy="679.4" r="1.4"/>
<circle cx="935.2" cy="118.8" r="1.4"/>
<circle cx="926.8" cy="680.2" r="2.0"/>
<circle cx="942.8" cy="462.7" r="1.7"/>
<circle cx="964.1" cy="28.6" r="1.7"/>
<circle cx="937.1" cy="732.9" r="1.7"/>
<circle cx="938.3" cy="734.9" r="1.6"/>
<circle cx="939.2" cy="7.3" r="2.0"/>
<circle cx="914.1" cy="808.2" r="2.0"/>
<circle cx="965.5" cy="280.3" r="2.3"/>
<circle cx="968.2" cy="278.9" r="1.9"/>
<circle cx="948.8" cy="399.9" r="1.7"/>
<circle cx="967.2" cy="85.7" r="1.7"/>
<circle cx="965.0" cy="86.8" r="1.6"/>
<circle cx="937.6" cy="267.9" r="1.7"/>
<circle cx="938.0" cy="265.9" r="1.5"/>
<circle cx="938.8" cy="795.9" r="1.4"/>
<circle cx="937.6" cy="773.3" r="1.4"/>
<circle cx="936.4" cy="771.7" r="1.2"/>
<circle cx="950.0" cy="453.3" r="2.3"/>
<circle cx="961.2" cy="285.5" r="1.4"/>
<circle cx="962.7" cy="284.1" r="1.3"/>
<circle cx="944.3" cy="48.4" r="2.3"/>
<circle cx="944.4" cy="330.4" r="2.0"/>
<circle cx="922.2" cy="690.6" r="1.7"/>
<circle cx="935.5" cy="725.4" r="2.3"/>
<circle cx="920.4" cy="705.4" r="1.4"/>
<circle cx="958.9" cy="356.1" r="1.7"/>
<circle cx="923.8" cy="669.9" r="1.4"/>
<circle cx="942.9" cy="396.1" r="2.0"/>
<circle cx="939.8" cy="395.8" r="2.0"/>
<circle cx="948.2" cy="660.5" r="1.7"/>
<circle cx="949.7" cy="658.2" r="1.5"/>
<circle cx="940.9" cy="189.3" r="1.7"/>
<circle cx="923.2" cy="521.7" r="2.3"/>
<circle cx="938.5" cy="197.0" r="1.7"/>
<circle cx="942.8" cy="199.9" r="2.3"/>
<circle cx="922.3" cy="841.0" r="1.7"/>
<circle cx="942.3" cy="595.8" r="2.0"/>
<circle cx="930.7" cy="488.8" r="1.7"/>
<circle cx="938.0" cy="656.4" r="1.4"/>
<circle cx="950.5" cy="571.8" r="2.3"/>
<circle cx="943.4" cy="738.2" r="1.7"/>
<circle cx="934.4" cy="149.7" r="1.4"/>
<circle cx="953.0" cy="219.7" r="2.0"/>
<circle cx="950.2" cy="152.6" r="1.7"/>
<circle cx="949.6" cy="154.8" r="1.3"/>
<circle cx="939.9" cy="45.7" r="1.4"/>
<circle cx="960.9" cy="386.3" r="1.4"/>
<circle cx="959.2" cy="387.4" r="1.0"/>
<circle cx="931.7" cy="716.7" r="1.4"/>
<circle cx="925.1" cy="588.0" r="1.4"/>
<circle cx="967.5" cy="32.4" r="2.3"/>
<circle cx="930.4" cy="474.7" r="2.0"/>
<circle cx="947.0" cy="253.8" r="1.4"/>
<circle cx="946.1" cy="252.0" r="1.3"/>
<circle cx="937.8" cy="342.7" r="1.7"/>
<circle cx="933.2" cy="727.8" r="2.3"/>
<circle cx="943.7" cy="515.1" r="2.3"/>
<circle cx="946.3" cy="513.2" r="1.9"/>
<circle cx="940.3" cy="321.5" r="1.7"/>
<circle cx="958.4" cy="392.3" r="1.7"/>
<circle cx="949.1" cy="777.2" r="1.7"/>
<circle cx="952.2" cy="623.3" r="2.0"/>
<circle cx="954.0" cy="622.1" r="1.5"/>
<circle cx="924.9" cy="812.3" r="2.3"/>
<circle cx="914.0" cy="641.2" r="2.0"/>
<circle cx="924.4" cy="508.3" r="2.0"/>
<circle cx="946.5" cy="656.8" r="1.7"/>
<circle cx="932.5" cy="420.2" r="2.0"/>
<circle cx="920.2" cy="623.1" r="2.0"/>
<circle cx="914.7" cy="671.0" r="2.0"/>
<circle cx="916.2" cy="634.1" r="2.3"/>
<circle cx="914.9" cy="630.9" r="2.2"/>
<circle cx="937.1" cy="316.5" r="2.0"/>
<circle cx="938.3" cy="314.7" r="1.5"/>
<circle cx="956.9" cy="293.2" r="1.7"/>
<circle cx="959.2" cy="294.2" r="1.5"/>
<circle cx="956.3" cy="54.3" r="1.7"/>
<circle cx="948.9" cy="348.8" r="1.4"/>
<circle cx="950.0" cy="346.9" r="1.1"/>
<circle cx="941.9" cy="144.5" r="1.4"/>
<circle cx="941.3" cy="143.3" r="1.1"/>
<circle cx="935.5" cy="326.9" r="1.4"/>
<circle cx="936.0" cy="236.7" r="1.4"/>
<circle cx="938.2" cy="236.3" r="1.1"/>
<circle cx="933.1" cy="289.5" r="1.4"/>
<circle cx="933.2" cy="579.7" r="1.4"/>
<circle cx="947.5" cy="154.5" r="2.0"/>
<circle cx="930.6" cy="805.6" r="2.3"/>
<circle cx="943.8" cy="148.4" r="2.3"/>
<circle cx="928.3" cy="551.7" r="2.0"/>
<circle cx="967.4" cy="17.0" r="2.3"/>
<circle cx="927.6" cy="806.9" r="2.3"/>
<circle cx="939.1" cy="92.5" r="1.7"/>
<circle cx="936.7" cy="92.3" r="1.3"/>
<circle cx="946.6" cy="201.5" r="2.3"/>
<circle cx="937.2" cy="133.3" r="1.7"/>
<circle cx="932.1" cy="412.1" r="2.3"/>
<circle cx="933.3" cy="414.3" r="2.2"/>
<circle cx="967.4" cy="215.9" r="1.4"/>
<circle cx="968.2" cy="214.2" r="1.1"/>
<circle cx="957.6" cy="33.4" r="2.3"/>
<circle cx="955.0" cy="392.6" r="2.3"/>
<circle cx="963.5" cy="130.4" r="1.7"/>
<circle cx="962.7" cy="128.3" r="1.4"/>
<circle cx="966.1" cy="161.4" r="2.0"/>
<circle cx="963.5" cy="162.1" r="1.4"/>
<circle cx="949.3" cy="108.3" r="1.7"/>
<circle cx="925.1" cy="425.5" r="2.3"/>
<circle cx="923.4" cy="423.7" r="1.7"/>
<circle cx="940.0" cy="261.7" r="2.0"/>
<circle cx="956.1" cy="32.7" r="1.4"/>
<circle cx="954.7" cy="31.9" r="1.3"/>
<circle cx="958.3" cy="314.4" r="2.3"/>
<circle cx="952.0" cy="118.8" r="1.7"/>
<circle cx="954.6" cy="118.7" r="1.5"/>
<circle cx="947.0" cy="685.5" r="1.7"/>
<circle cx="949.2" cy="684.4" r="1.4"/>
<circle cx="929.6" cy="805.6" r="1.4"/>
<circle cx="917.7" cy="682.8" r="2.0"/>
<circle cx="944.1" cy="675.5" r="2.3"/>
<circle cx="962.1" cy="380.9" r="2.3"/>
<circle cx="940.1" cy="139.9" r="2.3"/>
<circle cx="933.8" cy="820.5" r="1.7"/>
<circle cx="948.1" cy="134.5" r="1.4"/>
<circle cx="955.2" cy="106.7" r="1.7"/>
<circle cx="915.0" cy="763.1" r="1.7"/>
<circle cx="917.6" cy="763.8" r="1.6"/>
<circle cx="923.2" cy="714.7" r="1.4"/>
<circle cx="913.0" cy="753.2" r="1.4"/>
<circle cx="937.8" cy="182.2" r="1.7"/>
<circle cx="935.8" cy="576.7" r="1.7"/>
<circle cx="936.8" cy="578.2" r="1.6"/>
<circle cx="938.1" cy="609.1" r="1.7"/>
<circle cx="918.1" cy="547.1" r="2.3"/>
<circle cx="950.5" cy="725.8" r="2.0"/>
<circle cx="943.1" cy="504.8" r="2.3"/>
<circle cx="940.8" cy="504.5" r="1.9"/>
<circle cx="949.7" cy="402.0" r="1.4"/>
<circle cx="950.9" cy="403.2" r="1.1"/>
<circle cx="945.3" cy="656.7" r="2.3"/>
<circle cx="943.1" cy="656.1" r="1.7"/>
<circle cx="955.4" cy="228.9" r="2.3"/>
<circle cx="922.8" cy="698.3" r="2.3"/>
<circle cx="947.8" cy="273.4" r="2.0"/>
<circle cx="950.5" cy="273.4" r="1.6"/>
<circle cx="934.0" cy="398.9" r="1.4"/>
<circle cx="963.8" cy="344.7" r="1.7"/>
<circle cx="926.1" cy="827.3" r="1.7"/>
<circle cx="935.5" cy="814.6" r="1.7"/>
<circle cx="948.5" cy="166.3" r="1.7"/>
<circle cx="950.2" cy="165.3" r="1.4"/>
<circle cx="942.2" cy="76.0" r="2.0"/>
<circle cx="940.7" cy="78.4" r="1.7"/>
<circle cx="939.8" cy="427.1" r="2.3"/>
<circle cx="955.1" cy="68.8" r="2.0"/>
<circle cx="944.6" cy="828.4" r="2.3"/>
<circle cx="956.4" cy="237.2" r="1.7"/>
<circle cx="935.2" cy="404.6" r="1.7"/>
<circle cx="934.9" cy="468.1" r="1.4"/>
<circle cx="933.2" cy="468.5" r="1.0"/>
<circle cx="924.2" cy="496.5" r="2.3"/>
<circle cx="921.2" cy="640.5" r="1.7"/>
<circle cx="919.7" cy="639.9" r="1.4"/>
<circle cx="941.1" cy="200.4" r="1.7"/>
<circle cx="963.0" cy="20.1" r="2.3"/>
<circle cx="960.8" cy="19.3" r="1.7"/>
<circle cx="941.5" cy="312.6" r="1.7"/>
<circle cx="913.9" cy="660.4" r="1.4"/>
<circle cx="957.7" cy="199.1" r="2.0"/>
<circle cx="932.3" cy="529.3" r="2.0"/>
<circle cx="940.7" cy="273.9" r="2.3"/>
<circle cx="942.7" cy="272.0" r="1.6"/>
<circle cx="947.4" cy="794.4" r="2.0"/>
<circle cx="933.6" cy="748.9" r="1.7"/>
<circle cx="930.3" cy="480.6" r="1.4"/>
<circle cx="929.2" cy="482.3" r="1.3"/>
<circle cx="966.7" cy="185.5" r="1.4"/>
<circle cx="931.7" cy="378.1" r="2.0"/>
<circle cx="939.6" cy="174.2" r="2.3"/>
<circle cx="950.5" cy="106.1" r="2.3"/>
<circle cx="917.0" cy="605.2" r="1.4"/>
<circle cx="938.9" cy="457.0" r="1.4"/>
<circle cx="931.7" cy="223.8" r="2.0"/>
<circle cx="921.7" cy="465.6" r="1.4"/>
<circle cx="958.0" cy="73.7" r="2.3"/>
<circle cx="945.6" cy="273.3" r="2.0"/>
<circle cx="946.4" cy="275.6" r="1.6"/>
<circle cx="945.4" cy="464.5" r="1.7"/>
<circle cx="956.1" cy="514.3" r="2.0"/>
<circle cx="949.5" cy="725.9" r="2.0"/>
<circle cx="952.3" cy="311.9" r="1.7"/>
<circle cx="951.4" cy="313.3" r="1.2"/>
<circle cx="932.4" cy="455.9" r="1.7"/>
<circle cx="934.4" cy="454.8" r="1.6"/>
<circle cx="963.1" cy="97.8" r="2.0"/>
<circle cx="963.0" cy="94.9" r="1.9"/>
<circle cx="948.9" cy="46.1" r="2.0"/>
<circle cx="955.8" cy="74.3" r="2.0"/>
<circle cx="958.2" cy="73.9" r="2.0"/>
<circle cx="948.6" cy="260.2" r="2.0"/>
<circle cx="946.5" cy="259.1" r="1.9"/>
<circle cx="915.7" cy="500.0" r="2.0"/>
<circle cx="916.5" cy="498.3" r="1.7"/>
<circle cx="938.4" cy="551.4" r="1.4"/>
<circle cx="957.9" cy="202.9" r="2.0"/>
<circle cx="959.8" cy="204.0" r="2.0"/>
<circle cx="935.3" cy="555.4" r="2.3"/>
<circle cx="938.8" cy="781.3" r="1.4"/>
<circle cx="928.7" cy="281.2" r="2.3"/>
<circle cx="949.9" cy="180.4" r="1.4"/>
<circle cx="941.5" cy="332.4" r="1.7"/>
<circle cx="948.5" cy="584.8" r="2.0"/>
<circle cx="947.0" cy="55.0" r="2.0"/>
<circle cx="944.7" cy="55.3" r="1.5"/>
<circle cx="957.6" cy="208.1" r="2.0"/>
<circle cx="959.8" cy="209.1" r="1.9"/>
<circle cx="937.0" cy="364.9" r="2.3"/>
<circle cx="959.7" cy="253.4" r="1.4"/>
<circle cx="930.1" cy="819.3" r="2.3"/>
<circle cx="917.8" cy="533.5" r="1.4"/>
<circle cx="962.9" cy="362.9" r="1.4"/>
<circle cx="964.0" cy="361.8" r="1.0"/>
<circle cx="950.3" cy="510.9" r="2.3"/>
<circle cx="951.3" cy="513.7" r="1.7"/>
<circle cx="962.0" cy="8.1" r="2.0"/>
<circle cx="941.1" cy="64.6" r="1.7"/>
<circle cx="938.6" cy="64.7" r="1.4"/>
<circle cx="946.0" cy="288.4" r="1.7"/>
<circle cx="936.2" cy="217.0" r="2.0"/>
<circle cx="945.5" cy="741.1" r="1.4"/>
<circle cx="933.6" cy="752.6" r="1.7"/>
<circle cx="927.3" cy="797.4" r="2.0"/>
<circle cx="947.7" cy="476.0" r="2.0"/>
<circle cx="947.4" cy="478.3" r="1.7"/>
<circle cx="928.0" cy="379.2" r="2.3"/>
<circle cx="930.9" cy="381.0" r="1.7"/>
<circle cx="940.1" cy="8.7" r="2.3"/>
<circle cx="930.7" cy="836.8" r="1.4"/>
<circle cx="948.5" cy="710.9" r="1.7"/>
<circle cx="946.9" cy="709.5" r="1.3"/>
<circle cx="961.5" cy="147.8" r="2.3"/>
<circle cx="961.6" cy="151.3" r="2.1"/>
<circle cx="932.7" cy="529.7" r="2.3"/>
<circle cx="931.1" cy="409.7" r="2.3"/>
<circle cx="949.8" cy="758.8" r="1.7"/>
<circle cx="950.0" cy="757.1" r="1.6"/>
<circle cx="926.3" cy="451.2" r="1.7"/>
<circle cx="927.1" cy="453.8" r="1.7"/>
<circle cx="943.9" cy="529.5" r="2.3"/>
<circle cx="953.6" cy="36.9" r="1.7"/>
<circle cx="948.4" cy="23.7" r="2.0"/>
<circle cx="957.9" cy="360.8" r="1.4"/>
<circle cx="945.5" cy="251.6" r="1.4"/>
<circle cx="950.5" cy="105.6" r="1.4"/>
<circle cx="946.1" cy="134.5" r="2.3"/>
<circle cx="925.4" cy="522.4" r="2.3"/>
<circle cx="927.0" cy="520.2" r="1.9"/>
<circle cx="920.9" cy="801.1" r="1.4"/>
<circle cx="942.9" cy="74.6" r="1.7"/>
<circle cx="945.1" cy="73.4" r="1.3"/>
<circle cx="952.5" cy="242.2" r="1.7"/>
<circle cx="918.6" cy="559.0" r="1.4"/>
<circle cx="928.4" cy="677.6" r="1.7"/>
<circle cx="932.8" cy="272.9" r="2.0"/>
<circle cx="932.2" cy="274.7" r="1.9"/>
<circle cx="960.0" cy="96.2" r="1.7"/>
<circle cx="938.7" cy="11.8" r="1.7"/>
<circle cx="934.0" cy="775.8" r="2.3"/>
<circle cx="935.4" cy="774.0" r="2.0"/>
<circle cx="941.8" cy="330.2" r="1.4"/>
<circle cx="945.0" cy="84.8" r="1.4"/>
<circle cx="945.4" cy="166.7" r="2.0"/>
<circle cx="937.2" cy="141.6" r="1.4"/>
<circle cx="938.6" cy="141.3" r="1.2"/>
<circle cx="942.9" cy="643.6" r="1.4"/>
<circle cx="949.4" cy="257.4" r="1.7"/>
<circle cx="965.6" cy="296.6" r="1.4"/>
<circle cx="951.7" cy="129.8" r="2.3"/>
<circle cx="951.3" cy="127.5" r="2.2"/>
<circle cx="945.0" cy="572.5" r="1.7"/>
<circle cx="945.2" cy="574.4" r="1.2"/>
<circle cx="937.5" cy="827.2" r="1.4"/>
<circle cx="935.5" cy="176.3" r="2.3"/>
<circle cx="936.0" cy="178.3" r="1.8"/>
<circle cx="932.2" cy="755.5" r="1.7"/>
<circle cx="933.1" cy="778.8" r="1.4"/>
<circle cx="934.2" cy="780.5" r="1.1"/>
<circle cx="946.4" cy="20.2" r="1.7"/>
<circle cx="944.8" cy="19.7" r="1.6"/>
<circle cx="920.2" cy="454.6" r="2.0"/>
<circle cx="945.7" cy="153.7" r="1.7"/>
<circle cx="931.4" cy="548.9" r="2.3"/>
<circle cx="933.6" cy="173.6" r="1.7"/>
<circle cx="950.1" cy="785.3" r="2.3"/>
<circle cx="938.2" cy="284.6" r="2.3"/>
<circle cx="950.2" cy="178.7" r="2.3"/>
<circle cx="925.4" cy="452.2" r="2.0"/>
<circle cx="937.2" cy="796.3" r="2.0"/>
<circle cx="935.3" cy="796.7" r="1.8"/>
<circle cx="944.7" cy="720.9" r="2.0"/>
<circle cx="942.3" cy="721.0" r="1.6"/>
<circle cx="942.2" cy="642.0" r="2.3"/>
<circle cx="931.1" cy="753.0" r="1.7"/>
<circle cx="931.7" cy="755.5" r="1.2"/>
<circle cx="946.4" cy="446.0" r="2.3"/>
<circle cx="945.3" cy="449.4" r="1.6"/>
<circle cx="942.8" cy="153.3" r="2.0"/>
<circle cx="945.2" cy="501.0" r="2.3"/>
<circle cx="936.8" cy="483.3" r="1.7"/>
<circle cx="938.3" cy="482.4" r="1.3"/>
<circle cx="939.5" cy="494.1" r="1.7"/>
<circle cx="940.9" cy="493.3" r="1.6"/>
<circle cx="943.4" cy="269.4" r="1.4"/>
<circle cx="943.8" cy="644.6" r="2.3"/>
<circle cx="936.9" cy="13.7" r="2.0"/>
<circle cx="936.6" cy="10.6" r="2.0"/>
<circle cx="938.5" cy="169.7" r="1.4"/>
<circle cx="937.2" cy="168.1" r="1.0"/>
<circle cx="946.0" cy="401.9" r="1.4"/>
<circle cx="963.2" cy="109.4" r="1.7"/>
<circle cx="964.9" cy="109.5" r="1.6"/>
<circle cx="943.0" cy="201.7" r="2.3"/>
<circle cx="943.0" cy="203.8" r="2.2"/>
<circle cx="931.2" cy="499.0" r="2.0"/>
<circle cx="944.0" cy="223.0" r="1.7"/>
<circle cx="948.2" cy="718.6" r="1.4"/>
<circle cx="947.4" cy="720.7" r="1.2"/>
<circle cx="928.2" cy="272.3" r="1.4"/>
<circle cx="929.8" cy="272.5" r="1.3"/>
<circle cx="947.4" cy="496.7" r="1.4"/>
<circle cx="929.3" cy="815.7" r="1.7"/>
<circle cx="926.8" cy="816.5" r="1.3"/>
<circle cx="954.2" cy="601.4" r="2.0"/>
<circle cx="937.4" cy="495.5" r="1.4"/>
<circle cx="945.6" cy="649.0" r="1.7"/>
<circle cx="960.3" cy="44.8" r="2.3"/>
<circle cx="927.1" cy="755.9" r="1.7"/>
<circle cx="951.1" cy="627.4" r="2.0"/>
<circle cx="950.9" cy="420.7" r="1.7"/>
<circle cx="949.2" cy="420.8" r="1.4"/>
<circle cx="934.7" cy="698.4" r="2.3"/>
<circle cx="943.5" cy="330.3" r="2.0"/>
<circle cx="945.0" cy="329.0" r="1.8"/>
<circle cx="949.0" cy="120.9" r="1.7"/>
<circle cx="924.3" cy="576.0" r="2.3"/>
<circle cx="945.6" cy="268.6" r="2.3"/>
<circle cx="947.9" cy="266.7" r="2.1"/>
<circle cx="917.8" cy="730.8" r="2.0"/>
<circle cx="937.3" cy="590.2" r="2.3"/>
<circle cx="930.9" cy="588.9" r="1.4"/>
<circle cx="932.0" cy="590.1" r="1.2"/>
<circle cx="967.6" cy="51.0" r="1.7"/>
<circle cx="960.6" cy="203.6" r="2.0"/>
<circle cx="946.8" cy="691.6" r="1.4"/>
<circle cx="947.9" cy="665.8" r="1.7"/>
<circle cx="924.7" cy="381.1" r="1.7"/>
<circle cx="923.1" cy="382.3" r="1.4"/>
<circle cx="915.0" cy="725.1" r="1.7"/>
<circle cx="916.4" cy="725.8" r="1.3"/>
<circle cx="912.5" cy="774.2" r="1.4"/>
<circle cx="935.8" cy="817.7" r="1.4"/>
<circle cx="943.3" cy="260.4" r="2.3"/>
<circle cx="933.5" cy="325.5" r="1.4"/>
<circle cx="919.7" cy="435.1" r="2.0"/>
<circle cx="963.9" cy="128.5" r="2.3"/>
<circle cx="917.0" cy="765.2" r="2.0"/>
<circle cx="918.6" cy="764.0" r="1.8"/>
<circle cx="945.7" cy="430.1" r="1.4"/>
<circle cx="943.6" cy="429.5" r="1.4"/>
<circle cx="944.8" cy="761.7" r="2.0"/>
<circle cx="944.0" cy="759.6" r="2.0"/>
<circle cx="931.0" cy="433.0" r="1.7"/>
<circle cx="931.6" cy="435.4" r="1.7"/>
<circle cx="958.1" cy="346.8" r="1.4"/>
<circle cx="956.7" cy="348.0" r="1.1"/>
<circle cx="925.6" cy="709.1" r="1.7"/>
<circle cx="932.5" cy="789.7" r="2.0"/>
<circle cx="934.7" cy="791.7" r="1.6"/>
<circle cx="941.9" cy="480.4" r="1.4"/>
<circle cx="943.7" cy="481.4" r="1.0"/>
<circle cx="925.3" cy="695.8" r="1.7"/>
<circle cx="927.4" cy="697.2" r="1.4"/>
<circle cx="946.4" cy="669.5" r="1.7"/>
<circle cx="944.2" cy="466.7" r="2.0"/>
<circle cx="930.2" cy="748.5" r="2.3"/>
<circle cx="930.0" cy="770.1" r="1.7"/>
<circle cx="943.5" cy="419.4" r="2.0"/>
<circle cx="942.8" cy="417.1" r="1.9"/>
<circle cx="926.1" cy="399.7" r="1.7"/>
<circle cx="927.7" cy="399.8" r="1.5"/>
<circle cx="944.9" cy="837.6" r="2.0"/>
<circle cx="933.9" cy="652.3" r="1.4"/>
<circle cx="932.5" cy="654.0" r="1.1"/>
<circle cx="964.9" cy="12.6" r="1.7"/>
<circle cx="955.5" cy="151.5" r="2.3"/>
<circle cx="934.0" cy="129.3" r="2.3"/>
<circle cx="933.1" cy="767.1" r="1.7"/>
<circle cx="944.7" cy="7.5" r="1.7"/>
<circle cx="945.6" cy="780.2" r="1.4"/>
<circle cx="924.3" cy="488.9" r="1.7"/>
<circle cx="947.4" cy="768.9" r="1.7"/>
<circle cx="941.0" cy="94.5" r="2.0"/>
<circle cx="939.4" cy="96.1" r="1.4"/>
<circle cx="953.8" cy="170.4" r="1.4"/>
<circle cx="955.5" cy="453.1" r="2.0"/>
<circle cx="948.9" cy="413.7" r="2.3"/>
<circle cx="936.3" cy="305.2" r="2.0"/>
<circle cx="938.6" cy="305.4" r="1.7"/>
<circle cx="951.2" cy="783.9" r="1.7"/>
<circle cx="931.6" cy="287.1" r="2.3"/>
<circle cx="931.8" cy="284.4" r="1.8"/>
<circle cx="932.9" cy="836.8" r="2.3"/>
<circle cx="942.2" cy="353.8" r="2.0"/>
<circle cx="945.0" cy="731.0" r="2.0"/>
<circle cx="942.1" cy="730.3" r="1.8"/>
<circle cx="947.2" cy="39.0" r="2.3"/>
<circle cx="938.7" cy="537.7" r="1.7"/>
<circle cx="931.6" cy="805.6" r="1.4"/>
<circle cx="930.5" cy="729.5" r="2.0"/>
<circle cx="950.8" cy="302.0" r="2.3"/>
<circle cx="925.6" cy="629.2" r="2.3"/>
<circle cx="948.2" cy="643.2" r="2.0"/>
<circle cx="950.5" cy="641.5" r="1.5"/>
<circle cx="924.2" cy="655.8" r="1.7"/>
<circle cx="947.5" cy="137.9" r="1.7"/>
<circle cx="922.2" cy="546.7" r="2.0"/>
<circle cx="932.0" cy="485.0" r="2.3"/>
<circle cx="932.2" cy="720.3" r="1.7"/>
<circle cx="937.2" cy="92.2" r="2.3"/>
<circle cx="935.4" cy="94.5" r="1.8"/>
<circle cx="932.1" cy="455.6" r="2.3"/>
<circle cx="921.6" cy="612.1" r="1.7"/>
<circle cx="921.4" cy="614.8" r="1.6"/>
<circle cx="947.9" cy="434.8" r="1.4"/>
<circle cx="918.4" cy="612.6" r="2.0"/>
<circle cx="931.7" cy="469.7" r="1.4"/>
<circle cx="932.3" cy="471.5" r="1.3"/>
<circle cx="926.7" cy="342.3" r="1.7"/>
<circle cx="937.8" cy="71.1" r="2.3"/>
<circle cx="938.5" cy="68.5" r="2.0"/>
<circle cx="930.8" cy="335.5" r="2.0"/>
<circle cx="917.3" cy="834.2" r="2.0"/>
<circle cx="943.7" cy="167.1" r="1.4"/>
<circle cx="938.1" cy="74.6" r="1.4"/>
<circle cx="939.0" cy="72.6" r="1.4"/>
<circle cx="925.4" cy="735.3" r="1.7"/>
<circle cx="927.1" cy="733.3" r="1.2"/>
<circle cx="964.4" cy="255.7" r="2.0"/>
<circle cx="956.0" cy="208.4" r="1.4"/>
<circle cx="961.4" cy="15.5" r="1.7"/>
<circle cx="953.9" cy="72.8" r="1.4"/>
<circle cx="955.6" cy="73.2" r="1.1"/>
<circle cx="920.0" cy="797.2" r="2.3"/>
<circle cx="946.7" cy="156.0" r="1.7"/>
<circle cx="954.4" cy="260.4" r="2.0"/>
<circle cx="941.6" cy="617.0" r="2.3"/>
<circle cx="942.6" cy="614.3" r="1.8"/>
<circle cx="966.1" cy="175.7" r="2.0"/>
<circle cx="950.0" cy="16.4" r="2.0"/>
<circle cx="950.4" cy="18.6" r="1.8"/>
<circle cx="954.0" cy="358.1" r="1.4"/>
<circle cx="953.2" cy="356.3" r="1.2"/>
<circle cx="948.0" cy="392.8" r="1.7"/>
<circle cx="918.7" cy="574.4" r="2.3"/>
<circle cx="957.6" cy="427.5" r="1.7"/>
<circle cx="932.7" cy="555.2" r="2.0"/>
<circle cx="927.0" cy="658.6" r="2.3"/>
<circle cx="925.7" cy="661.1" r="2.1"/>
<circle cx="923.4" cy="829.8" r="2.3"/>
<circle cx="931.8" cy="802.9" r="1.4"/>
<circle cx="931.5" cy="801.4" r="1.1"/>
<circle cx="960.7" cy="86.7" r="1.4"/>
<circle cx="924.8" cy="511.3" r="1.4"/>
<circle cx="952.2" cy="70.9" r="1.7"/>
<circle cx="952.7" cy="73.1" r="1.4"/>
<circle cx="942.6" cy="663.7" r="1.4"/>
<circle cx="915.6" cy="750.8" r="2.3"/>
<circle cx="917.9" cy="750.4" r="1.8"/>
<circle cx="948.1" cy="246.5" r="2.0"/>
<circle cx="923.7" cy="659.9" r="2.3"/>
<circle cx="953.1" cy="126.2" r="2.0"/>
<circle cx="944.4" cy="788.5" r="2.0"/>
<circle cx="946.1" cy="787.1" r="1.8"/>
<circle cx="963.6" cy="143.8" r="2.0"/>
<circle cx="940.2" cy="749.4" r="1.7"/>
<circle cx="952.7" cy="69.1" r="1.7"/>
<circle cx="930.5" cy="622.7" r="2.0"/>
<circle cx="961.0" cy="92.0" r="1.4"/>
<circle cx="934.3" cy="364.6" r="1.4"/>
<circle cx="963.2" cy="182.4" r="2.3"/>
<circle cx="921.1" cy="568.7" r="2.0"/>
<circle cx="921.1" cy="739.2" r="2.0"/>
<circle cx="922.5" cy="741.8" r="1.7"/>
<circle cx="955.7" cy="29.7" r="1.7"/>
<circle cx="918.8" cy="646.1" r="2.0"/>
<circle cx="952.5" cy="99.7" r="1.4"/>
<circle cx="937.0" cy="33.0" r="2.0"/>
<circle cx="949.7" cy="243.0" r="2.0"/>
<circle cx="940.2" cy="810.1" r="2.0"/>
<circle cx="936.3" cy="223.5" r="2.3"/>
<circle cx="929.8" cy="841.3" r="1.7"/>
<circle cx="952.6" cy="146.3" r="2.0"/>
<circle cx="949.7" cy="146.5" r="1.7"/>
<circle cx="949.2" cy="333.1" r="1.4"/>
<circle cx="948.7" cy="557.3" r="1.4"/>
<circle cx="930.1" cy="285.5" r="1.4"/>
<circle cx="930.7" cy="286.8" r="1.3"/>
<circle cx="917.0" cy="839.2" r="1.7"/>
<circle cx="917.2" cy="841.3" r="1.3"/>
<circle cx="940.3" cy="358.0" r="2.0"/>
<circle cx="933.3" cy="187.7" r="1.7"/>
<circle cx="932.7" cy="190.0" r="1.2"/>
<circle cx="945.6" cy="80.4" r="2.0"/>
<circle cx="936.6" cy="603.7" r="1.4"/>
<circle cx="937.1" cy="605.3" r="1.2"/>
<circle cx="934.4" cy="686.9" r="1.4"/>
<circle cx="928.2" cy="560.1" r="1.7"/>
<circle cx="941.1" cy="583.8" r="1.7"/>
<circle cx="965.1" cy="52.7" r="2.0"/>
<circle cx="934.6" cy="120.8" r="1.4"/>
<circle cx="933.7" cy="122.3" r="1.1"/>
<circle cx="948.5" cy="36.2" r="2.3"/>
<circle cx="948.0" cy="38.5" r="2.3"/>
<circle cx="938.2" cy="62.0" r="2.0"/>
<circle cx="953.4" cy="542.1" r="2.0"/>
<circle cx="928.1" cy="375.6" r="2.3"/>
<circle cx="930.2" cy="376.6" r="1.7"/>
<circle cx="922.2" cy="717.3" r="1.4"/>
<circle cx="946.5" cy="749.1" r="2.0"/>
<circle cx="960.4" cy="43.5" r="1.4"/>
<circle cx="943.7" cy="650.4" r="2.0"/>
<circle cx="956.1" cy="240.2" r="2.0"/>
<circle cx="963.0" cy="267.1" r="1.7"/>
<circle cx="943.3" cy="296.0" r="2.0"/>
<circle cx="959.1" cy="42.6" r="2.3"/>
<circle cx="944.0" cy="8.2" r="1.4"/>
<circle cx="948.4" cy="577.7" r="2.3"/>
<circle cx="948.2" cy="165.4" r="1.4"/>
<circle cx="934.2" cy="374.8" r="1.7"/>
<circle cx="935.9" cy="373.2" r="1.7"/>
<circle cx="952.2" cy="76.5" r="1.4"/>
<circle cx="951.0" cy="224.7" r="2.0"/>
<circle cx="952.7" cy="225.6" r="2.0"/>
<circle cx="940.0" cy="596.4" r="2.3"/>
<circle cx="941.5" cy="593.2" r="2.0"/>
<circle cx="967.2" cy="200.9" r="2.3"/>
<circle cx="951.5" cy="152.6" r="2.0"/>
<circle cx="939.8" cy="289.2" r="2.3"/>
<circle cx="954.9" cy="243.3" r="1.7"/>
<circle cx="936.8" cy="559.5" r="1.4"/>
<circle cx="937.9" cy="558.7" r="1.3"/>
<circle cx="948.9" cy="534.5" r="1.4"/>
<circle cx="942.7" cy="261.7" r="2.0"/>
<circle cx="941.9" cy="617.7" r="1.7"/>
<circle cx="941.3" cy="616.0" r="1.2"/>
<circle cx="936.2" cy="320.8" r="1.4"/>
<circle cx="936.8" cy="628.2" r="1.7"/>
<circle cx="936.4" cy="630.8" r="1.4"/>
<circle cx="924.3" cy="629.9" r="1.4"/>
<circle cx="948.2" cy="838.6" r="2.3"/>
<circle cx="944.8" cy="837.9" r="2.0"/>
<circle cx="943.0" cy="412.2" r="2.0"/>
<circle cx="942.9" cy="414.8" r="1.5"/>
<circle cx="933.0" cy="714.6" r="1.4"/>
<circle cx="928.3" cy="576.0" r="1.4"/>
<circle cx="938.6" cy="493.6" r="1.4"/>
<circle cx="948.0" cy="70.9" r="2.0"/>
<circle cx="949.0" cy="73.3" r="1.5"/>
<circle cx="952.7" cy="411.0" r="2.0"/>
<circle cx="954.7" cy="411.7" r="1.5"/>
<circle cx="955.2" cy="46.7" r="2.0"/>
<circle cx="953.4" cy="44.8" r="1.5"/>
<circle cx="939.3" cy="364.0" r="1.7"/>
<circle cx="939.7" cy="362.4" r="1.7"/>
<circle cx="936.6" cy="367.5" r="2.3"/>
<circle cx="952.9" cy="101.3" r="1.4"/>
<circle cx="953.8" cy="544.7" r="1.7"/>
<circle cx="951.7" cy="545.5" r="1.4"/>
<circle cx="954.7" cy="324.3" r="2.3"/>
<circle cx="946.5" cy="531.8" r="2.0"/>
<circle cx="956.2" cy="264.0" r="1.7"/>
<circle cx="930.6" cy="471.6" r="2.3"/>
<circle cx="932.7" cy="473.8" r="2.0"/>
<circle cx="943.6" cy="100.8" r="2.3"/>
<circle cx="935.3" cy="716.4" r="1.4"/>
<circle cx="939.6" cy="708.4" r="1.4"/>
<circle cx="956.4" cy="219.6" r="2.0"/>
<circle cx="927.2" cy="331.1" r="1.7"/>
<circle cx="929.7" cy="330.6" r="1.5"/>
<circle cx="945.4" cy="493.2" r="2.0"/>
<circle cx="932.1" cy="699.2" r="1.4"/>
<circle cx="957.2" cy="348.3" r="2.3"/>
<circle cx="953.8" cy="347.5" r="1.9"/>
<circle cx="954.2" cy="112.1" r="1.4"/>
<circle cx="921.2" cy="720.3" r="2.3"/>
<circle cx="917.9" cy="720.6" r="1.8"/>
<circle cx="914.7" cy="688.3" r="1.4"/>
<circle cx="936.1" cy="165.8" r="1.4"/>
<circle cx="949.1" cy="450.9" r="1.7"/>
<circle cx="950.2" cy="452.6" r="1.2"/>
<circle cx="935.4" cy="488.9" r="2.0"/>
<circle cx="936.6" cy="112.0" r="1.4"/>
<circle cx="947.8" cy="583.2" r="2.0"/>
<circle cx="953.9" cy="500.3" r="1.7"/>
<circle cx="955.0" cy="501.8" r="1.7"/>
<circle cx="938.7" cy="837.1" r="1.4"/>
<circle cx="937.5" cy="837.7" r="1.1"/>
<circle cx="925.4" cy="669.3" r="1.7"/>
<circle cx="937.7" cy="809.0" r="2.0"/>
<circle cx="935.5" cy="807.3" r="1.6"/>
<circle cx="956.6" cy="352.6" r="2.0"/>
<circle cx="956.9" cy="350.5" r="1.6"/>
<circle cx="933.7" cy="688.5" r="2.3"/>
<circle cx="937.3" cy="342.1" r="2.0"/>
<circle cx="949.1" cy="695.2" r="2.0"/>
<circle cx="948.0" cy="693.1" r="1.6"/>
<circle cx="944.5" cy="242.5" r="2.0"/>
<circle cx="951.9" cy="773.4" r="1.7"/>
<circle cx="953.9" cy="774.7" r="1.4"/>
<circle cx="952.5" cy="40.1" r="1.7"/>
<circle cx="938.7" cy="672.5" r="1.4"/>
<circle cx="940.4" cy="336.1" r="2.3"/>
<circle cx="942.7" cy="334.8" r="1.8"/>
<circle cx="945.8" cy="543.8" r="1.7"/>
<circle cx="944.5" cy="545.0" r="1.2"/>
<circle cx="946.8" cy="82.1" r="1.4"/>
<circle cx="957.9" cy="18.5" r="1.4"/>
<circle cx="966.1" cy="207.9" r="2.0"/>
<circle cx="915.2" cy="731.0" r="1.4"/>
<circle cx="942.7" cy="514.4" r="1.4"/>
<circle cx="944.1" cy="264.6" r="2.3"/>
<circle cx="936.3" cy="247.7" r="2.3"/>
<circle cx="923.6" cy="706.4" r="2.0"/>
<circle cx="925.9" cy="704.5" r="2.0"/>
<circle cx="933.7" cy="642.3" r="2.3"/>
<circle cx="949.8" cy="49.3" r="1.4"/>
<circle cx="952.7" cy="258.8" r="2.0"/>
<circle cx="947.7" cy="386.8" r="1.7"/>
<circle cx="937.7" cy="237.4" r="1.7"/>
<circle cx="924.2" cy="380.7" r="1.4"/>
<circle cx="953.6" cy="319.3" r="1.4"/>
<circle cx="946.5" cy="317.4" r="1.7"/>
<circle cx="944.4" cy="317.1" r="1.4"/>
<circle cx="946.5" cy="314.5" r="1.4"/>
<circle cx="934.1" cy="725.9" r="1.4"/>
<circle cx="937.9" cy="650.7" r="1.4"/>
<circle cx="941.0" cy="238.5" r="2.3"/>
<circle cx="951.0" cy="398.2" r="2.0"/>
<circle cx="923.5" cy="429.5" r="2.0"/>
<circle cx="935.5" cy="600.3" r="1.4"/>
<circle cx="947.7" cy="262.3" r="1.7"/>
<circle cx="936.1" cy="834.0" r="1.7"/>
<circle cx="946.8" cy="282.8" r="1.4"/>
<circle cx="961.4" cy="403.6" r="1.4"/>
<circle cx="959.8" cy="111.9" r="1.4"/>
<circle cx="960.3" cy="113.1" r="1.1"/>
<circle cx="955.9" cy="192.4" r="2.3"/>
<circle cx="950.0" cy="635.4" r="1.7"/>
<circle cx="950.9" cy="757.0" r="2.0"/>
<circle cx="950.2" cy="753.9" r="1.5"/>
<circle cx="919.1" cy="592.6" r="2.3"/>
<circle cx="944.4" cy="308.9" r="2.0"/>
<circle cx="926.3" cy="453.2" r="1.4"/>
<circle cx="925.2" cy="452.2" r="1.2"/>
<circle cx="937.2" cy="522.1" r="2.3"/>
<circle cx="952.7" cy="400.6" r="1.7"/>
<circle cx="933.7" cy="254.1" r="1.7"/>
<circle cx="961.1" cy="403.3" r="1.7"/>
<circle cx="923.4" cy="712.9" r="2.3"/>
<circle cx="948.8" cy="320.9" r="1.7"/>
<circle cx="949.1" cy="210.6" r="2.0"/>
<circle cx="953.9" cy="573.0" r="2.3"/>
<circle cx="952.2" cy="570.7" r="1.8"/>
<circle cx="945.7" cy="717.2" r="2.3"/>
<circle cx="931.2" cy="595.3" r="2.0"/>
<circle cx="933.8" cy="316.9" r="1.4"/>
<circle cx="935.1" cy="316.4" r="1.0"/>
<circle cx="927.9" cy="686.0" r="2.3"/>
<circle cx="945.3" cy="315.8" r="1.7"/>
<circle cx="917.3" cy="555.8" r="1.4"/>
<circle cx="952.3" cy="564.4" r="2.0"/>
<circle cx="942.2" cy="820.3" r="1.7"/>
<circle cx="935.4" cy="323.8" r="1.7"/>
<circle cx="934.2" cy="416.5" r="1.7"/>
<circle cx="930.2" cy="351.3" r="1.4"/>
<circle cx="929.9" cy="353.0" r="1.3"/>
<circle cx="946.8" cy="574.4" r="1.4"/>
<circle cx="946.1" cy="575.7" r="1.3"/>
<circle cx="943.4" cy="166.5" r="1.4"/>
<circle cx="942.6" cy="167.8" r="1.3"/>
<circle cx="945.8" cy="237.7" r="2.3"/>
<circle cx="955.0" cy="273.8" r="2.0"/>
<circle cx="949.4" cy="139.9" r="2.0"/>
<circle cx="947.1" cy="9.0" r="1.7"/>
<circle cx="940.8" cy="146.9" r="2.3"/>
<circle cx="913.8" cy="801.0" r="1.7"/>
<circle cx="951.4" cy="557.4" r="2.3"/>
<circle cx="958.4" cy="466.6" r="1.7"/>
<circle cx="946.4" cy="36.5" r="1.7"/>
<circle cx="955.8" cy="459.4" r="1.7"/>
<circle cx="948.8" cy="215.0" r="2.0"/>
<circle cx="938.8" cy="277.5" r="2.0"/>
<circle cx="950.0" cy="275.1" r="1.7"/>
<circle cx="944.6" cy="283.0" r="2.3"/>
<circle cx="934.2" cy="125.4" r="2.3"/>
<circle cx="955.2" cy="167.0" r="2.0"/>
<circle cx="942.1" cy="630.1" r="2.0"/>
<circle cx="942.2" cy="627.5" r="1.9"/>
<circle cx="929.2" cy="784.2" r="1.7"/>
<circle cx="959.3" cy="109.3" r="1.4"/>
<circle cx="920.9" cy="758.7" r="2.3"/>
<circle cx="921.0" cy="761.3" r="1.7"/>
<circle cx="926.8" cy="434.1" r="2.3"/>
<circle cx="928.7" cy="432.8" r="2.0"/>
<circle cx="932.0" cy="779.5" r="1.4"/>
<circle cx="945.1" cy="87.2" r="1.4"/>
<circle cx="939.4" cy="838.3" r="1.7"/>
<circle cx="938.0" cy="836.5" r="1.5"/>
<circle cx="939.7" cy="652.5" r="2.3"/>
<circle cx="941.3" cy="654.7" r="2.2"/>
<circle cx="935.5" cy="617.8" r="1.7"/>
<circle cx="944.6" cy="503.5" r="1.4"/>
<circle cx="943.4" cy="501.8" r="1.4"/>
<circle cx="927.6" cy="402.1" r="1.4"/>
<circle cx="936.3" cy="819.4" r="2.3"/>
<circle cx="965.8" cy="241.9" r="1.4"/>
<circle cx="966.3" cy="240.1" r="1.0"/>
<circle cx="946.6" cy="466.5" r="2.0"/>
<circle cx="924.6" cy="678.3" r="1.4"/>
<circle cx="936.4" cy="114.4" r="2.3"/>
<circle cx="945.7" cy="267.0" r="2.3"/>
<circle cx="930.6" cy="277.9" r="1.4"/>
<circle cx="942.2" cy="177.3" r="2.3"/>
<circle cx="930.0" cy="441.1" r="1.7"/>
<circle cx="943.9" cy="490.8" r="2.0"/>
<circle cx="914.6" cy="524.6" r="1.7"/>
<circle cx="944.7" cy="428.7" r="1.7"/>
<circle cx="943.0" cy="430.3" r="1.2"/>
<circle cx="930.9" cy="534.4" r="1.4"/>
<circle cx="956.4" cy="341.4" r="1.4"/>
<circle cx="920.6" cy="758.6" r="1.7"/>
<circle cx="939.4" cy="595.7" r="1.7"/>
<circle cx="939.2" cy="597.2" r="1.6"/>
<circle cx="961.3" cy="269.3" r="2.0"/>
<circle cx="914.7" cy="775.3" r="1.7"/>
<circle cx="954.0" cy="434.5" r="1.7"/>
<circle cx="929.2" cy="668.3" r="2.3"/>
<circle cx="945.8" cy="540.0" r="1.7"/>
<circle cx="943.6" cy="320.0" r="1.7"/>
<circle cx="942.1" cy="321.5" r="1.3"/>
<circle cx="949.9" cy="151.9" r="1.7"/>
<circle cx="934.6" cy="513.9" r="1.7"/>
<circle cx="936.2" cy="512.7" r="1.6"/>
<circle cx="915.9" cy="788.4" r="1.4"/>
<circle cx="916.7" cy="787.1" r="1.1"/>
<circle cx="928.7" cy="486.4" r="2.0"/>
<circle cx="931.7" cy="493.4" r="1.4"/>
<circle cx="933.0" cy="494.8" r="1.3"/>
<circle cx="939.4" cy="732.9" r="1.7"/>
<circle cx="954.0" cy="312.0" r="1.4"/>
<circle cx="953.6" cy="313.7" r="1.0"/>
<circle cx="962.5" cy="121.1" r="1.4"/>
<circle cx="923.5" cy="685.2" r="2.3"/>
<circle cx="921.4" cy="832.1" r="1.7"/>
<circle cx="922.9" cy="833.4" r="1.4"/>
<circle cx="936.7" cy="349.1" r="2.3"/>
<circle cx="919.0" cy="600.3" r="2.3"/>
<circle cx="965.5" cy="42.5" r="1.7"/>
<circle cx="915.1" cy="542.9" r="2.0"/>
<circle cx="952.4" cy="354.9" r="1.7"/>
<circle cx="939.5" cy="533.7" r="2.0"/>
<circle cx="956.5" cy="452.2" r="2.0"/>
<circle cx="954.6" cy="449.8" r="1.6"/>
<circle cx="917.8" cy="522.5" r="1.4"/>
<circle cx="918.0" cy="524.0" r="1.3"/>
<circle cx="937.9" cy="471.8" r="2.0"/>
<circle cx="946.5" cy="445.2" r="2.0"/>
<circle cx="928.7" cy="613.2" r="1.7"/>
<circle cx="933.7" cy="753.5" r="1.7"/>
<circle cx="964.6" cy="54.5" r="2.3"/>
<circle cx="949.9" cy="152.6" r="2.0"/>
<circle cx="948.1" cy="151.9" r="1.5"/>
<circle cx="925.9" cy="729.0" r="2.0"/>
<circle cx="925.7" cy="731.1" r="1.5"/>
<circle cx="940.8" cy="349.1" r="2.3"/>
<circle cx="920.4" cy="685.4" r="2.0"/>
<circle cx="920.6" cy="688.2" r="1.8"/>
<circle cx="912.9" cy="822.2" r="2.0"/>
<circle cx="965.4" cy="81.5" r="1.7"/>
<circle cx="966.8" cy="79.8" r="1.6"/>
<circle cx="919.1" cy="787.7" r="2.0"/>
<circle cx="963.2" cy="97.0" r="2.3"/>
<circle cx="957.8" cy="250.8" r="1.7"/>
<circle cx="936.4" cy="740.8" r="2.0"/>
<circle cx="935.5" cy="654.3" r="1.7"/>
<circle cx="953.3" cy="291.0" r="2.3"/>
<circle cx="951.1" cy="291.2" r="1.7"/>
<circle cx="940.7" cy="329.3" r="2.3"/>
<circle cx="937.4" cy="329.3" r="2.2"/>
<circle cx="959.1" cy="428.9" r="2.0"/>
<circle cx="922.9" cy="439.0" r="1.7"/>
<circle cx="952.4" cy="91.3" r="2.0"/>
<circle cx="932.7" cy="735.8" r="2.0"/>
<circle cx="952.1" cy="714.5" r="2.0"/>
<circle cx="949.5" cy="8.4" r="1.4"/>
<circle cx="939.2" cy="107.8" r="1.4"/>
<circle cx="938.5" cy="108.9" r="1.3"/>
<circle cx="949.1" cy="598.2" r="2.3"/>
<circle cx="933.3" cy="454.5" r="1.7"/>
<circle cx="932.2" cy="455.5" r="1.3"/>
<circle cx="932.4" cy="816.8" r="2.3"/>
<circle cx="958.4" cy="105.2" r="2.3"/>
<circle cx="955.7" cy="104.0" r="2.2"/>
<circle cx="916.3" cy="678.5" r="2.3"/>
<circle cx="954.8" cy="692.5" r="1.7"/>
<circle cx="945.7" cy="831.9" r="2.3"/>
<circle cx="946.7" cy="249.2" r="2.3"/>
<circle cx="951.2" cy="731.7" r="2.0"/>
<circle cx="951.7" cy="734.0" r="1.6"/>
<circle cx="937.3" cy="727.0" r="1.7"/>
<circle cx="945.4" cy="687.1" r="2.0"/>
<circle cx="946.8" cy="688.9" r="1.8"/>
<circle cx="947.4" cy="200.9" r="1.4"/>
<circle cx="945.4" cy="551.1" r="1.4"/>
<circle cx="950.2" cy="602.2" r="2.3"/>
<circle cx="963.5" cy="61.7" r="1.4"/>
<circle cx="962.1" cy="61.3" r="1.3"/>
<circle cx="968.0" cy="50.3" r="1.7"/>
<circle cx="922.4" cy="494.3" r="1.4"/>
<circle cx="924.0" cy="493.6" r="1.1"/>
<circle cx="916.7" cy="501.1" r="1.4"/>
<circle cx="944.9" cy="106.8" r="2.3"/>
<circle cx="929.0" cy="718.3" r="2.3"/>
<circle cx="930.8" cy="720.4" r="2.1"/>
<circle cx="935.4" cy="682.8" r="1.7"/>
<circle cx="920.2" cy="673.9" r="1.4"/>
<circle cx="957.9" cy="96.7" r="1.4"/>
<circle cx="958.4" cy="98.7" r="1.1"/>
<circle cx="956.9" cy="380.8" r="2.3"/>
<circle cx="954.1" cy="566.2" r="1.4"/>
<circle cx="919.3" cy="692.8" r="1.7"/>
<circle cx="932.7" cy="270.3" r="1.7"/>
<circle cx="956.1" cy="287.0" r="2.0"/>
<circle cx="939.9" cy="216.8" r="2.3"/>
<circle cx="940.6" cy="220.3" r="1.7"/>
<circle cx="939.8" cy="98.8" r="2.0"/>
<circle cx="954.7" cy="251.3" r="1.7"/>
<circle cx="938.0" cy="789.2" r="2.3"/>
<circle cx="914.0" cy="638.3" r="1.4"/>
<circle cx="915.3" cy="638.2" r="1.2"/>
<circle cx="931.3" cy="288.4" r="1.4"/>
<circle cx="930.5" cy="286.3" r="1.0"/>
<circle cx="957.8" cy="187.1" r="2.0"/>
<circle cx="957.9" cy="184.5" r="1.4"/>
<circle cx="952.5" cy="633.6" r="2.3"/>
<circle cx="936.1" cy="420.6" r="1.4"/>
<circle cx="937.9" cy="421.4" r="1.0"/>
<circle cx="956.7" cy="262.2" r="2.0"/>
<circle cx="922.9" cy="545.2" r="1.7"/>
<circle cx="921.9" cy="546.8" r="1.6"/>
<circle cx="952.4" cy="283.9" r="2.0"/>
<circle cx="945.9" cy="133.8" r="2.3"/>
<circle cx="942.9" cy="132.8" r="1.7"/>
<circle cx="923.8" cy="408.8" r="2.3"/>
<circle cx="924.8" cy="406.9" r="1.9"/>
<circle cx="943.5" cy="129.9" r="2.3"/>
<circle cx="948.0" cy="286.9" r="1.7"/>
<circle cx="959.3" cy="320.9" r="1.7"/>
<circle cx="945.8" cy="348.7" r="2.3"/>
<circle cx="942.5" cy="347.7" r="1.9"/>
<circle cx="927.5" cy="676.0" r="1.7"/>
<circle cx="941.3" cy="567.0" r="2.3"/>
<circle cx="941.9" cy="564.8" r="2.1"/>
<circle cx="948.2" cy="222.4" r="1.4"/>
<circle cx="949.8" cy="223.1" r="1.2"/>
<circle cx="922.8" cy="494.5" r="2.3"/>
<circle cx="928.8" cy="737.7" r="1.4"/>
<circle cx="942.4" cy="147.3" r="2.0"/>
<circle cx="955.2" cy="650.6" r="2.0"/>
<circle cx="950.6" cy="462.2" r="2.3"/>
<circle cx="943.6" cy="545.1" r="2.3"/>
<circle cx="945.8" cy="544.5" r="2.1"/>
<circle cx="932.4" cy="445.1" r="1.4"/>
<circle cx="931.2" cy="446.8" r="1.3"/>
<circle cx="928.2" cy="623.4" r="1.4"/>
<circle cx="929.5" cy="622.7" r="1.1"/>
<circle cx="945.5" cy="134.2" r="2.0"/>
<circle cx="947.2" cy="135.1" r="1.6"/>
<circle cx="938.0" cy="111.8" r="1.4"/>
<circle cx="939.2" cy="112.6" r="1.0"/>
<circle cx="936.4" cy="628.5" r="1.4"/>
<circle cx="938.1" cy="627.8" r="1.2"/>
<circle cx="950.3" cy="159.2" r="2.3"/>
<circle cx="951.6" cy="309.4" r="2.0"/>
<circle cx="949.8" cy="307.5" r="1.8"/>
<circle cx="923.8" cy="598.3" r="1.4"/>
<circle cx="916.9" cy="759.6" r="1.4"/>
<circle cx="940.1" cy="323.6" r="1.4"/>
<circle cx="939.9" cy="95.1" r="1.4"/>
<circle cx="938.9" cy="296.4" r="1.4"/>
<circle cx="938.2" cy="295.4" r="1.1"/>
<circle cx="943.1" cy="48.7" r="2.3"/>
<circle cx="946.3" cy="49.5" r="2.0"/>
<circle cx="934.6" cy="696.5" r="1.7"/>
<circle cx="935.0" cy="624.8" r="2.3"/>
<circle cx="937.1" cy="625.2" r="2.1"/>
<circle cx="947.2" cy="508.8" r="1.7"/>
<circle cx="949.3" cy="510.4" r="1.5"/>
<circle cx="950.0" cy="95.2" r="2.3"/>
<circle cx="947.9" cy="195.6" r="1.4"/>
<circle cx="958.6" cy="406.5" r="2.0"/>
<circle cx="938.8" cy="820.2" r="1.7"/>
<circle cx="939.4" cy="818.8" r="1.3"/>
<circle cx="926.5" cy="701.8" r="1.4"/>
<circle cx="912.9" cy="705.2" r="1.7"/>
<circle cx="943.5" cy="302.7" r="2.0"/>
<circle cx="945.5" cy="301.5" r="1.7"/>
<circle cx="946.0" cy="203.3" r="2.0"/>
<circle cx="949.2" cy="219.3" r="1.7"/>
<circle cx="939.2" cy="647.2" r="1.7"/>
<circle cx="952.1" cy="667.5" r="1.7"/>
<circle cx="947.3" cy="125.2" r="2.3"/>
<circle cx="937.2" cy="549.0" r="2.0"/>
<circle cx="936.8" cy="296.6" r="1.7"/>
<circle cx="950.2" cy="276.0" r="2.3"/>
<circle cx="928.5" cy="385.0" r="1.7"/>
<circle cx="920.1" cy="434.4" r="1.7"/>
<circle cx="956.2" cy="89.8" r="1.4"/>
<circle cx="957.3" cy="90.6" r="1.3"/>
<circle cx="940.0" cy="403.5" r="1.7"/>
<circle cx="926.3" cy="432.1" r="1.7"/>
<circle cx="934.8" cy="212.8" r="1.7"/>
<circle cx="922.0" cy="755.0" r="2.3"/>
<circle cx="920.4" cy="753.6" r="1.9"/>
<circle cx="933.1" cy="474.2" r="2.0"/>
<circle cx="946.3" cy="482.6" r="2.3"/>
<circle cx="951.1" cy="65.0" r="2.0"/>
<circle cx="948.9" cy="654.9" r="1.7"/>
<circle cx="922.6" cy="643.2" r="1.7"/>
<circle cx="944.1" cy="634.5" r="1.7"/>
<circle cx="948.1" cy="110.2" r="1.4"/>
<circle cx="963.9" cy="89.1" r="2.0"/>
<circle cx="942.2" cy="382.1" r="2.3"/>
<circle cx="941.7" cy="786.2" r="1.7"/>
<circle cx="918.8" cy="802.3" r="1.4"/>
<circle cx="926.8" cy="764.9" r="1.7"/>
<circle cx="944.1" cy="266.8" r="1.4"/>
<circle cx="945.0" cy="268.6" r="1.2"/>
<circle cx="934.4" cy="812.2" r="1.4"/>
<circle cx="932.7" cy="792.1" r="2.3"/>
<circle cx="935.9" cy="791.2" r="1.9"/>
<circle cx="924.4" cy="553.3" r="2.0"/>
<circle cx="925.4" cy="555.4" r="2.0"/>
<circle cx="942.5" cy="245.8" r="1.4"/>
<circle cx="937.9" cy="598.3" r="2.3"/>
<circle cx="938.9" cy="595.7" r="2.1"/>
<circle cx="934.2" cy="191.9" r="2.3"/>
<circle cx="932.1" cy="189.4" r="1.7"/>
<circle cx="923.4" cy="581.0" r="2.3"/>
<circle cx="926.0" cy="578.9" r="2.0"/>
<circle cx="939.6" cy="425.4" r="1.4"/>
<circle cx="934.1" cy="381.5" r="2.3"/>
<circle cx="932.3" cy="380.4" r="2.2"/>
<circle cx="935.5" cy="307.9" r="1.4"/>
<circle cx="949.9" cy="96.8" r="1.7"/>
<circle cx="931.7" cy="391.1" r="1.4"/>
<circle cx="947.5" cy="394.6" r="2.3"/>
<circle cx="940.2" cy="827.5" r="2.3"/>
<circle cx="949.7" cy="508.5" r="1.7"/>
<circle cx="953.0" cy="295.5" r="1.7"/>
<circle cx="952.8" cy="297.1" r="1.6"/>
<circle cx="943.9" cy="176.8" r="1.7"/>
<circle cx="946.0" cy="175.9" r="1.6"/>
<circle cx="937.8" cy="357.4" r="2.0"/>
<circle cx="938.7" cy="355.8" r="1.8"/>
<circle cx="951.3" cy="131.2" r="1.4"/>
<circle cx="914.6" cy="559.2" r="1.7"/>
<circle cx="933.3" cy="560.3" r="2.0"/>
<circle cx="923.6" cy="730.1" r="2.0"/>
<circle cx="952.9" cy="443.8" r="1.7"/>
<circle cx="924.6" cy="732.0" r="2.3"/>
<circle cx="913.6" cy="751.0" r="2.3"/>
<circle cx="925.4" cy="493.4" r="2.0"/>
<circle cx="926.9" cy="495.4" r="1.5"/>
<circle cx="957.3" cy="222.3" r="2.3"/>
<circle cx="956.9" cy="224.6" r="1.9"/>
<circle cx="931.6" cy="287.1" r="2.3"/>
<circle cx="935.5" cy="206.4" r="1.7"/>
<circle cx="934.4" cy="229.8" r="1.7"/>
<circle cx="949.2" cy="135.5" r="1.4"/>
<circle cx="934.2" cy="454.7" r="2.3"/>
<circle cx="931.3" cy="453.0" r="2.1"/>
<circle cx="927.0" cy="643.3" r="1.7"/>
<circle cx="928.7" cy="642.1" r="1.5"/>
<circle cx="956.5" cy="402.5" r="2.3"/>
<circle cx="954.8" cy="480.5" r="2.0"/>
<circle cx="953.5" cy="479.2" r="1.6"/>
<circle cx="961.7" cy="190.0" r="2.0"/>
<circle cx="953.8" cy="637.3" r="1.4"/>
<circle cx="947.0" cy="546.3" r="1.4"/>
<circle cx="946.6" cy="548.5" r="1.2"/>
<circle cx="929.5" cy="714.1" r="2.0"/>
<circle cx="948.8" cy="103.5" r="1.7"/>
<circle cx="951.2" cy="103.2" r="1.7"/>
<circle cx="951.3" cy="163.4" r="2.3"/>
<circle cx="936.5" cy="162.6" r="2.3"/>
<circle cx="931.6" cy="641.0" r="2.0"/>
<circle cx="929.9" cy="642.3" r="1.9"/>
<circle cx="951.3" cy="381.4" r="2.3"/>
<circle cx="935.2" cy="263.2" r="2.3"/>
<circle cx="933.7" cy="265.7" r="1.9"/>
<circle cx="953.9" cy="536.9" r="1.4"/>
<circle cx="931.0" cy="618.2" r="2.0"/>
<circle cx="930.3" cy="620.7" r="1.4"/>
<circle cx="929.4" cy="424.1" r="1.7"/>
<circle cx="931.0" cy="425.2" r="1.5"/>
<circle cx="936.6" cy="418.4" r="1.4"/>
<circle cx="966.9" cy="180.2" r="2.3"/>
<circle cx="964.1" cy="179.5" r="2.1"/>
<circle cx="955.8" cy="251.5" r="2.0"/>
<circle cx="960.5" cy="276.4" r="2.3"/>
<circle cx="929.6" cy="835.5" r="2.3"/>
<circle cx="946.7" cy="70.0" r="2.3"/>
<circle cx="941.4" cy="822.9" r="1.7"/>
<circle cx="947.4" cy="412.6" r="1.7"/>
<circle cx="946.6" cy="205.8" r="1.7"/>
<circle cx="943.3" cy="303.6" r="2.0"/>
<circle cx="941.7" cy="302.2" r="2.0"/>
<circle cx="920.5" cy="835.5" r="1.4"/>
<circle cx="928.6" cy="327.7" r="2.0"/>
<circle cx="931.2" cy="837.4" r="2.0"/>
<circle cx="939.4" cy="125.3" r="1.7"/>
<circle cx="939.6" cy="127.5" r="1.2"/>
<circle cx="942.0" cy="660.6" r="1.7"/>
<circle cx="937.1" cy="688.3" r="2.3"/>
<circle cx="935.8" cy="691.1" r="1.7"/>
<circle cx="912.5" cy="803.5" r="2.3"/>
<circle cx="912.7" cy="801.2" r="2.1"/>
<circle cx="954.0" cy="240.1" r="1.7"/>
<circle cx="937.3" cy="88.7" r="1.7"/>
<circle cx="956.6" cy="96.2" r="1.4"/>
<circle cx="957.6" cy="97.6" r="1.2"/>
<circle cx="936.1" cy="622.5" r="2.0"/>
<circle cx="921.7" cy="833.7" r="1.7"/>
<circle cx="943.2" cy="330.2" r="1.7"/>
<circle cx="941.6" cy="291.2" r="2.3"/>
<circle cx="943.9" cy="291.3" r="2.0"/>
<circle cx="923.5" cy="537.7" r="1.4"/>
<circle cx="916.5" cy="688.0" r="1.4"/>
<circle cx="934.4" cy="625.1" r="2.0"/>
<circle cx="924.3" cy="810.8" r="1.7"/>
<circle cx="917.9" cy="583.3" r="2.3"/>
<circle cx="932.0" cy="781.4" r="2.0"/>
<circle cx="931.6" cy="778.5" r="1.5"/>
<circle cx="937.1" cy="513.1" r="1.4"/>
<circle cx="936.0" cy="682.6" r="1.7"/>
<circle cx="934.5" cy="683.4" r="1.3"/>
<circle cx="932.0" cy="195.5" r="2.0"/>
<circle cx="950.9" cy="353.6" r="2.0"/>
<circle cx="947.0" cy="220.0" r="2.3"/>
<circle cx="947.1" cy="217.5" r="2.1"/>
<circle cx="941.3" cy="408.3" r="2.0"/>
<circle cx="942.4" cy="406.8" r="1.6"/>
<circle cx="955.6" cy="180.7" r="2.0"/>
<circle cx="952.3" cy="776.8" r="2.3"/>
<circle cx="945.5" cy="695.6" r="1.7"/>
<circle cx="944.6" cy="698.0" r="1.7"/>
<circle cx="944.6" cy="362.7" r="2.3"/>
<circle cx="943.4" cy="360.3" r="2.0"/>
<circle cx="946.4" cy="404.9" r="2.3"/>
<circle cx="968.5" cy="130.7" r="1.7"/>
<circle cx="966.2" cy="130.0" r="1.4"/>
<circle cx="921.0" cy="696.5" r="1.4"/>
<circle cx="959.3" cy="272.9" r="2.0"/>
<circle cx="960.0" cy="275.2" r="1.6"/>
<circle cx="932.9" cy="359.8" r="2.0"/>
<circle cx="933.1" cy="501.8" r="1.7"/>
<circle cx="928.9" cy="594.0" r="1.4"/>
<circle cx="927.3" cy="594.9" r="1.2"/>
<circle cx="932.3" cy="394.4" r="2.3"/>
<circle cx="936.4" cy="766.8" r="2.0"/>
<circle cx="952.6" cy="614.4" r="2.0"/>
<circle cx="950.9" cy="613.2" r="1.6"/>
<circle cx="945.7" cy="314.3" r="1.7"/>
<circle cx="950.4" cy="325.8" r="1.4"/>
<circle cx="936.1" cy="113.3" r="2.3"/>
<circle cx="938.1" cy="556.9" r="2.0"/>
<circle cx="943.7" cy="613.6" r="2.3"/>
<circle cx="944.7" cy="616.4" r="1.9"/>
<circle cx="961.0" cy="368.3" r="2.3"/>
<circle cx="958.0" cy="368.0" r="2.3"/>
<circle cx="941.5" cy="80.3" r="1.4"/>
<circle cx="945.9" cy="717.6" r="2.3"/>
<circle cx="917.4" cy="719.1" r="2.0"/>
<circle cx="955.6" cy="255.0" r="1.4"/>
<circle cx="927.0" cy="333.1" r="1.7"/>
<circle cx="928.9" cy="332.7" r="1.4"/>
<circle cx="943.2" cy="96.0" r="1.4"/>
<circle cx="956.8" cy="527.8" r="1.4"/>
<circle cx="955.6" cy="528.3" r="1.4"/>
<circle cx="927.9" cy="426.9" r="1.4"/>
<circle cx="952.1" cy="526.6" r="2.0"/>
<circle cx="931.1" cy="393.7" r="2.0"/>
<circle cx="937.0" cy="351.2" r="2.3"/>
<circle cx="944.4" cy="833.8" r="1.7"/>
<circle cx="940.1" cy="28.6" r="2.3"/>
<circle cx="941.7" cy="26.6" r="1.9"/>
<circle cx="936.0" cy="245.8" r="2.3"/>
<circle cx="954.7" cy="164.8" r="2.3"/>
<circle cx="921.6" cy="763.8" r="2.0"/>
<circle cx="922.6" cy="760.9" r="1.6"/>
<circle cx="945.5" cy="618.6" r="2.3"/>
<circle cx="947.1" cy="615.5" r="1.6"/>
<circle cx="945.7" cy="840.2" r="1.7"/>
<circle cx="933.2" cy="318.1" r="1.4"/>
<circle cx="934.5" cy="317.3" r="1.3"/>
<circle cx="921.7" cy="625.3" r="2.3"/>
<circle cx="931.8" cy="716.7" r="1.4"/>
<circle cx="932.7" cy="715.6" r="1.0"/>
<circle cx="953.3" cy="707.5" r="2.3"/>
<circle cx="955.0" cy="705.1" r="1.9"/>
<circle cx="943.5" cy="693.0" r="1.7"/>
<circle cx="935.6" cy="674.6" r="1.4"/>
<circle cx="935.2" cy="676.1" r="1.3"/>
<circle cx="933.5" cy="766.3" r="1.4"/>
<circle cx="934.7" cy="768.1" r="1.4"/>
<circle cx="925.8" cy="454.1" r="1.7"/>
<circle cx="929.4" cy="727.1" r="2.3"/>
<circle cx="932.2" cy="270.2" r="2.0"/>
<circle cx="935.0" cy="802.7" r="1.4"/>
<circle cx="926.8" cy="616.4" r="2.3"/>
<circle cx="966.3" cy="278.7" r="1.4"/>
<circle cx="916.6" cy="480.2" r="2.0"/>
<circle cx="914.9" cy="482.8" r="1.9"/>
<circle cx="944.9" cy="762.5" r="1.7"/>
<circle cx="943.1" cy="763.4" r="1.2"/>
<circle cx="935.2" cy="841.6" r="1.4"/>
<circle cx="935.4" cy="843.2" r="1.3"/>
<circle cx="947.6" cy="72.0" r="2.3"/>
<circle cx="946.3" cy="74.6" r="2.2"/>
<circle cx="965.0" cy="92.8" r="1.4"/>
<circle cx="947.0" cy="245.2" r="1.7"/>
<circle cx="939.3" cy="433.0" r="2.0"/>
<circle cx="917.4" cy="791.1" r="1.4"/>
<circle cx="919.3" cy="791.0" r="1.0"/>
<circle cx="925.6" cy="561.8" r="2.3"/>
<circle cx="922.9" cy="563.4" r="1.8"/>
<circle cx="956.9" cy="441.5" r="1.7"/>
<circle cx="921.5" cy="462.7" r="2.0"/>
<circle cx="948.0" cy="215.7" r="1.7"/>
<circle cx="952.0" cy="162.7" r="2.3"/>
<circle cx="953.7" cy="234.6" r="1.7"/>
<circle cx="929.4" cy="323.4" r="2.3"/>
<circle cx="927.2" cy="325.8" r="2.0"/>
<circle cx="946.0" cy="162.6" r="2.3"/>
<circle cx="944.2" cy="161.1" r="2.0"/>
<circle cx="943.7" cy="770.6" r="1.4"/>
<circle cx="946.7" cy="287.1" r="1.4"/>
<circle cx="929.3" cy="780.4" r="2.3"/>
<circle cx="936.4" cy="560.6" r="1.7"/>
<circle cx="951.1" cy="65.1" r="2.3"/>
<circle cx="953.2" cy="575.1" r="2.3"/>
<circle cx="945.3" cy="699.2" r="1.4"/>
<circle cx="944.8" cy="701.1" r="1.2"/>
<circle cx="963.8" cy="234.9" r="1.4"/>
<circle cx="935.0" cy="571.0" r="1.4"/>
<circle cx="924.0" cy="644.7" r="1.7"/>
<circle cx="932.8" cy="427.6" r="1.7"/>
<circle cx="926.8" cy="573.8" r="1.4"/>
<circle cx="926.6" cy="571.8" r="1.4"/>
<circle cx="932.5" cy="754.4" r="2.0"/>
<circle cx="941.5" cy="644.3" r="1.4"/>
<circle cx="963.4" cy="258.9" r="1.7"/>
<circle cx="963.4" cy="256.9" r="1.4"/>
<circle cx="927.6" cy="755.9" r="1.4"/>
<circle cx="928.6" cy="757.2" r="1.0"/>
<circle cx="929.7" cy="632.1" r="2.0"/>
<circle cx="912.9" cy="776.1" r="2.3"/>
<circle cx="910.3" cy="777.1" r="1.9"/>
<circle cx="949.5" cy="242.7" r="1.4"/>
<circle cx="954.0" cy="180.2" r="2.0"/>
<circle cx="945.0" cy="234.0" r="1.4"/>
<circle cx="932.0" cy="494.4" r="2.0"/>
<circle cx="944.0" cy="135.3" r="1.4"/>
<circle cx="954.5" cy="647.9" r="2.3"/>
<circle cx="944.0" cy="231.9" r="2.0"/>
<circle cx="926.7" cy="792.4" r="1.7"/>
<circle cx="928.1" cy="768.3" r="2.3"/>
<circle cx="927.4" cy="770.7" r="2.0"/>
<circle cx="934.1" cy="552.2" r="2.0"/>
<circle cx="940.2" cy="669.8" r="2.0"/>
<circle cx="940.0" cy="671.8" r="1.5"/>
<circle cx="955.7" cy="507.8" r="1.4"/>
<circle cx="947.6" cy="381.7" r="1.4"/>
<circle cx="941.5" cy="183.2" r="2.3"/>
<circle cx="955.1" cy="128.6" r="1.7"/>
<circle cx="932.8" cy="680.3" r="2.0"/>
<circle cx="935.2" cy="681.8" r="1.4"/>
<circle cx="945.7" cy="821.0" r="1.7"/>
<circle cx="943.7" cy="819.7" r="1.6"/>
<circle cx="937.5" cy="608.7" r="2.3"/>
<circle cx="943.8" cy="242.3" r="2.3"/>
<circle cx="945.7" cy="507.9" r="2.0"/>
<circle cx="921.5" cy="537.7" r="2.3"/>
<circle cx="943.9" cy="680.7" r="1.7"/>
<circle cx="951.3" cy="96.6" r="2.0"/>
<circle cx="944.6" cy="273.3" r="1.7"/>
<circle cx="943.2" cy="275.4" r="1.2"/>
<circle cx="943.4" cy="455.0" r="2.3"/>
<circle cx="943.3" cy="457.4" r="2.1"/>
<circle cx="943.9" cy="542.3" r="2.0"/>
<circle cx="932.6" cy="652.7" r="2.3"/>
<circle cx="931.0" cy="650.6" r="1.8"/>
<circle cx="955.2" cy="507.8" r="2.3"/>
<circle cx="939.4" cy="138.0" r="2.0"/>
<circle cx="945.4" cy="733.0" r="2.0"/>
<circle cx="947.6" cy="733.0" r="1.9"/>
<circle cx="942.9" cy="22.9" r="2.3"/>
<circle cx="945.0" cy="23.9" r="1.6"/>
<circle cx="939.7" cy="362.3" r="2.0"/>
<circle cx="943.7" cy="733.1" r="1.7"/>
<circle cx="941.5" cy="318.0" r="2.3"/>
<circle cx="921.6" cy="817.9" r="2.0"/>
<circle cx="948.9" cy="39.9" r="2.3"/>
<circle cx="947.0" cy="40.9" r="2.2"/>
<circle cx="933.9" cy="650.7" r="2.3"/>
<circle cx="944.1" cy="522.6" r="2.3"/>
<circle cx="944.8" cy="524.8" r="1.6"/>
<circle cx="951.5" cy="372.6" r="1.4"/>
<circle cx="935.0" cy="671.3" r="1.4"/>
<circle cx="936.3" cy="669.8" r="1.1"/>
<circle cx="922.6" cy="401.6" r="1.7"/>
<circle cx="923.7" cy="399.4" r="1.3"/>
<circle cx="898.4" cy="838.9" r="1.7"/>
<circle cx="917.7" cy="211.5" r="2.0"/>
<circle cx="919.6" cy="142.4" r="2.0"/>
<circle cx="904.2" cy="766.1" r="2.0"/>
<circle cx="924.1" cy="203.0" r="1.7"/>
<circle cx="906.3" cy="699.7" r="1.4"/>
<circle cx="902.1" cy="77.4" r="1.7"/>
<circle cx="899.2" cy="718.1" r="1.4"/>
<circle cx="918.1" cy="99.7" r="1.7"/>
<circle cx="905.4" cy="387.7" r="2.0"/>
<circle cx="900.2" cy="437.6" r="1.4"/>
<circle cx="902.9" cy="589.0" r="2.0"/>
<circle cx="890.9" cy="796.6" r="1.7"/>
<circle cx="890.9" cy="641.8" r="1.4"/>
<circle cx="906.4" cy="174.3" r="2.0"/>
<circle cx="900.0" cy="711.4" r="1.7"/>
<circle cx="894.1" cy="270.2" r="1.7"/>
<circle cx="889.7" cy="574.0" r="1.7"/>
<circle cx="897.4" cy="188.5" r="2.0"/>
<circle cx="880.3" cy="593.1" r="1.4"/>
<circle cx="908.1" cy="420.7" r="2.0"/>
<circle cx="919.2" cy="298.1" r="1.4"/>
<circle cx="892.2" cy="488.2" r="2.0"/>
<circle cx="911.7" cy="281.5" r="1.7"/>
<circle cx="889.2" cy="615.6" r="1.7"/>
<circle cx="896.2" cy="731.2" r="1.7"/>
<circle cx="919.1" cy="116.7" r="2.0"/>
<circle cx="895.8" cy="146.9" r="2.0"/>
<circle cx="926.3" cy="79.7" r="2.0"/>
<circle cx="919.9" cy="328.1" r="1.7"/>
<circle cx="917.0" cy="152.9" r="1.4"/>
<circle cx="906.4" cy="248.2" r="1.7"/>
<circle cx="895.1" cy="249.7" r="1.7"/>
<circle cx="895.7" cy="725.4" r="1.7"/>
<circle cx="901.5" cy="31.6" r="1.4"/>
<circle cx="896.4" cy="206.8" r="1.4"/>
<circle cx="908.2" cy="166.8" r="1.4"/>
<circle cx="874.8" cy="824.2" r="2.0"/>
<circle cx="906.3" cy="824.8" r="2.0"/>
<circle cx="917.1" cy="115.7" r="2.0"/>
<circle cx="887.2" cy="577.6" r="2.0"/>
<circle cx="906.5" cy="435.3" r="1.4"/>
<circle cx="917.5" cy="255.6" r="1.4"/>
<circle cx="905.8" cy="716.7" r="2.0"/>
<circle cx="898.1" cy="701.2" r="2.0"/>
<circle cx="909.1" cy="173.8" r="1.4"/>
<circle cx="920.2" cy="223.6" r="1.7"/>
<circle cx="928.5" cy="82.4" r="2.0"/>
<circle cx="919.0" cy="212.5" r="1.7"/>
<circle cx="923.1" cy="256.5" r="1.4"/>
<circle cx="920.6" cy="260.5" r="1.4"/>
<circle cx="904.7" cy="570.3" r="2.0"/>
<circle cx="909.6" cy="229.7" r="2.0"/>
<circle cx="896.4" cy="233.8" r="1.4"/>
<circle cx="926.4" cy="168.3" r="1.7"/>
<circle cx="921.0" cy="64.5" r="1.7"/>
<circle cx="906.2" cy="601.5" r="1.4"/>
<circle cx="883.5" cy="438.5" r="1.7"/>
<circle cx="919.9" cy="131.3" r="2.0"/>
<circle cx="924.5" cy="38.0" r="1.4"/>
<circle cx="784.6" cy="460.9" r="1.7"/>
<circle cx="261.8" cy="380.3" r="1.7"/>
<circle cx="673.3" cy="438.3" r="2.0"/>
<circle cx="722.4" cy="440.1" r="1.7"/>
<circle cx="203.0" cy="391.7" r="1.7"/>
<circle cx="322.6" cy="362.5" r="1.7"/>
<circle cx="689.9" cy="426.7" r="2.0"/>
<circle cx="714.9" cy="434.4" r="2.0"/>
<circle cx="673.4" cy="435.1" r="1.7"/>
<circle cx="225.7" cy="383.3" r="1.4"/>
<circle cx="201.8" cy="380.6" r="1.4"/>
<circle cx="519.2" cy="425.5" r="1.4"/>
<circle cx="801.9" cy="469.5" r="1.7"/>
<circle cx="402.8" cy="388.4" r="1.7"/>
<circle cx="377.6" cy="373.3" r="2.0"/>
<circle cx="755.7" cy="444.1" r="1.4"/>
<circle cx="515.9" cy="418.5" r="1.4"/>
<circle cx="239.2" cy="357.1" r="2.0"/>
<circle cx="779.0" cy="460.2" r="2.0"/>
<circle cx="819.9" cy="456.4" r="1.4"/>
<circle cx="391.3" cy="377.3" r="1.7"/>
<circle cx="370.5" cy="382.6" r="1.4"/>
<circle cx="314.5" cy="371.9" r="1.7"/>
<circle cx="211.9" cy="361.1" r="1.4"/>
<circle cx="671.4" cy="417.6" r="1.4"/>
<circle cx="391.2" cy="386.1" r="1.4"/>
<circle cx="367.7" cy="383.2" r="1.7"/>
<circle cx="368.6" cy="375.7" r="1.4"/>
<circle cx="666.1" cy="430.0" r="1.7"/>
<circle cx="328.2" cy="364.2" r="1.4"/>
<circle cx="350.3" cy="390.9" r="1.7"/>
<circle cx="529.4" cy="423.0" r="2.0"/>
<circle cx="559.0" cy="430.0" r="1.4"/>
<circle cx="658.8" cy="428.8" r="1.4"/>
<circle cx="261.1" cy="359.3" r="1.7"/>
<circle cx="771.7" cy="454.2" r="1.7"/>
<circle cx="490.5" cy="411.8" r="1.7"/>
<circle cx="225.4" cy="357.3" r="1.4"/>
<circle cx="154.4" cy="390.2" r="2.0"/>
<circle cx="159.4" cy="390.8" r="1.7"/>
<circle cx="786.5" cy="436.6" r="2.4"/>
<circle cx="822.1" cy="440.1" r="2.1"/>
<circle cx="809.1" cy="443.9" r="2.1"/>
<circle cx="810.9" cy="442.8" r="1.6"/>
<circle cx="788.4" cy="430.2" r="1.8"/>
<circle cx="805.7" cy="438.2" r="2.4"/>
<circle cx="788.2" cy="445.2" r="2.4"/>
<circle cx="784.6" cy="432.4" r="1.8"/>
<circle cx="784.5" cy="430.5" r="1.5"/>
<circle cx="811.5" cy="438.5" r="1.8"/>
<circle cx="787.8" cy="440.5" r="2.4"/>
<circle cx="782.6" cy="434.3" r="2.1"/>
<circle cx="789.0" cy="435.6" r="2.4"/>
<circle cx="822.6" cy="433.6" r="1.8"/>
<circle cx="819.8" cy="433.0" r="1.3"/>
<circle cx="815.2" cy="444.5" r="1.8"/>
<circle cx="788.5" cy="434.9" r="1.8"/>
<circle cx="802.3" cy="437.4" r="1.8"/>
<circle cx="804.6" cy="438.3" r="1.3"/>
<circle cx="803.4" cy="440.3" r="2.4"/>
<circle cx="801.1" cy="438.3" r="1.9"/>
<circle cx="795.2" cy="439.9" r="2.1"/>
<circle cx="813.6" cy="441.7" r="2.4"/>
<circle cx="805.1" cy="438.6" r="2.1"/>
<circle cx="805.1" cy="441.8" r="2.0"/>
<circle cx="830.4" cy="443.2" r="2.1"/>
<circle cx="805.4" cy="427.9" r="2.4"/>
<circle cx="821.7" cy="435.3" r="2.4"/>
<circle cx="824.0" cy="438.2" r="2.2"/>
<circle cx="786.0" cy="448.5" r="1.8"/>
<circle cx="780.3" cy="431.6" r="2.1"/>
<circle cx="782.3" cy="432.7" r="1.9"/>
<circle cx="828.5" cy="433.9" r="2.1"/>
<circle cx="827.3" cy="436.9" r="2.0"/>
<circle cx="809.0" cy="435.4" r="1.8"/>
<circle cx="816.0" cy="436.4" r="2.4"/>
<circle cx="804.6" cy="445.3" r="2.4"/>
<circle cx="827.0" cy="444.1" r="2.4"/>
<circle cx="778.2" cy="433.4" r="1.8"/>
<circle cx="780.4" cy="434.3" r="1.7"/>
<circle cx="822.1" cy="442.2" r="2.1"/>
<circle cx="825.2" cy="443.0" r="1.8"/>
<circle cx="812.8" cy="440.8" r="1.8"/>
<circle cx="811.8" cy="442.7" r="1.5"/>
<circle cx="815.1" cy="449.9" r="2.4"/>
<circle cx="817.0" cy="451.5" r="2.1"/>
<circle cx="804.9" cy="446.3" r="1.8"/>
<circle cx="812.2" cy="439.9" r="1.8"/>
<circle cx="811.8" cy="437.4" r="1.8"/>
<circle cx="800.1" cy="439.5" r="1.8"/>
<circle cx="799.5" cy="437.5" r="1.6"/>
<circle cx="787.7" cy="435.7" r="1.8"/>
<circle cx="820.8" cy="442.4" r="2.4"/>
<circle cx="809.1" cy="440.0" r="1.8"/>
<circle cx="789.9" cy="435.1" r="1.8"/>
<circle cx="765.0" cy="429.6" r="2.2"/>
<circle cx="771.7" cy="409.0" r="1.8"/>
<circle cx="784.4" cy="429.9" r="2.2"/>
<circle cx="783.0" cy="412.6" r="1.8"/>
<circle cx="783.0" cy="420.5" r="1.8"/>
<circle cx="775.0" cy="425.7" r="1.8"/>
<circle cx="762.4" cy="425.9" r="1.8"/>
<circle cx="765.6" cy="427.3" r="1.8"/>
<circle cx="780.7" cy="415.6" r="1.8"/>
<circle cx="777.4" cy="405.1" r="2.2"/>
<circle cx="775.4" cy="426.9" r="1.8"/>
<circle cx="783.1" cy="408.3" r="2.2"/>
<circle cx="776.8" cy="424.5" r="1.8"/>
<circle cx="783.7" cy="428.0" r="2.2"/>
<ellipse cx="191.1" cy="365.8" rx="14.0" ry="17.5"/>
<ellipse cx="255.4" cy="362.7" rx="13.8" ry="17.0"/>
<ellipse cx="319.1" cy="381.1" rx="13.5" ry="18.0"/>
<ellipse cx="385.0" cy="385.1" rx="13.2" ry="16.5"/>
<ellipse cx="449.4" cy="407.1" rx="13.2" ry="18.5"/>
<ellipse cx="515.6" cy="409.3" rx="13.8" ry="15.5"/>
<ellipse cx="577.1" cy="432.6" rx="13.8" ry="17.2"/>
<ellipse cx="643.4" cy="431.0" rx="13.8" ry="16.2"/>
<ellipse cx="708.0" cy="454.6" rx="13.8" ry="16.8"/>
<ellipse cx="770.5" cy="437.5" rx="15.5" ry="16.2"/>
<ellipse cx="925.5" cy="14.5" rx="9.0" ry="8.0"/>
<ellipse cx="923.5" cy="54.5" rx="9.2" ry="8.2"/>
<ellipse cx="923.8" cy="96.0" rx="8.8" ry="8.5"/>
<ellipse cx="921.8" cy="137.5" rx="9.2" ry="8.2"/>
<ellipse cx="920.5" cy="178.0" rx="9.0" ry="8.5"/>
<ellipse cx="918.5" cy="216.0" rx="8.0" ry="3.5"/>
<ellipse cx="917.2" cy="251.5" rx="8.8" ry="8.0"/>
<ellipse cx="915.8" cy="293.5" rx="9.2" ry="8.8"/>
<ellipse cx="911.0" cy="333.5" rx="8.8" ry="8.8"/>
<ellipse cx="912.8" cy="376.0" rx="9.2" ry="8.8"/>
<ellipse cx="905.6" cy="415.8" rx="9.0" ry="8.2"/>
<ellipse cx="910.2" cy="449.0" rx="9.2" ry="8.8"/>
<ellipse cx="902.8" cy="490.3" rx="9.0" ry="8.5"/>
<ellipse cx="906.2" cy="533.0" rx="9.2" ry="8.8"/>
<ellipse cx="900.0" cy="573.5" rx="9.0" ry="8.5"/>
<ellipse cx="906.2" cy="616.0" rx="9.2" ry="8.8"/>
<ellipse cx="900.5" cy="649.5" rx="9.0" ry="8.5"/>
<ellipse cx="907.0" cy="690.0" rx="9.0" ry="8.5"/>
<ellipse cx="900.5" cy="731.0" rx="8.8" ry="8.5"/>
<ellipse cx="906.8" cy="772.5" rx="9.2" ry="8.8"/>
<ellipse cx="898.5" cy="812.8" rx="9.2" ry="8.5"/>
<circle cx="199.5" cy="383.5" r="3.2"/>
<circle cx="311.8" cy="397.5" r="3.2"/>
<circle cx="447.5" cy="424.5" r="3.2"/>
<circle cx="572.0" cy="447.0" r="3.0"/>
<circle cx="707.5" cy="468.5" r="3.0"/>
<circle cx="202.0" cy="377.0" r="3.5"/>
<circle cx="314.0" cy="393.0" r="3.5"/>
<circle cx="448.0" cy="419.0" r="3.8"/>
<circle cx="573.0" cy="443.0" r="3.5"/>
</g>
<g stroke="#ffff00" stroke-width="3.6" fill="none" stroke-linecap="butt" stroke-linejoin="miter">
<path d="M346.0 513.5 V454.5 M337.8 466.5 L346.0 454 L354.2 466.5"/>
<path d="M412.8 513.5 V454.5 M404.6 466.5 L412.8 454 L421.0 466.5"/>
<path d="M484.6 513.5 V454.5 M476.4 466.5 L484.6 454 L492.8 466.5"/>
<path d="M546.2 513.5 V454.5 M538.0 466.5 L546.2 454 L554.4 466.5"/>
<path d="M606.7 513.5 V454.5 M598.5 466.5 L606.7 454 L614.9 466.5"/>
</g>
<g fill="#ffff00" font-family="Liberation Sans" font-weight="bold" font-size="30" text-anchor="middle">
<text x="345.0" y="559.5">1</text>
<text x="411.8" y="559.5">2</text>
<text x="483.6" y="559.5">3</text>
<text x="545.2" y="559.5">4</text>
<text x="605.7" y="559.5">5</text>
</g>
<g stroke="#ffff00" stroke-width="3.8" fill="none" stroke-linejoin="round">
<path d="M983 14.6 H995.8 V414.8 H982.5"/>
<path d="M995.8 215.2 H1010.5"/>
<path d="M983 424.2 H995.8 V820 H982.5"/>
<path d="M995.8 624.8 H1010.5"/>
</g>
<g fill="#ffff00" font-family="Liberation Sans" font-weight="bold" font-size="30.5">
<text x="1024.5" y="224">A</text>
<text x="1025" y="633">B</text>
</g>
<g stroke-width="2.2" fill="none">
<path d="M133 521 V491" stroke="#1f8f1f"/>
<path d="M134 524.4 H166" stroke="#a02828"/>
</g>
<circle cx="133" cy="490.5" r="3" fill="#1f9a1f"/><circle cx="166" cy="524.4" r="3" fill="#d02020"/><circle cx="133" cy="524" r="3.2" fill="#1010f0"/>
<path d="M134.5 473 L138 479 L141.5 473 M138 479 L136 485" stroke="#3a8a3a" stroke-width="1.4" fill="none"/>
<path d="M136 515 H141.5 L136 521 H141.5" stroke="#2020e0" stroke-width="1.8" fill="none"/>
<path d="M173.5 514 L181 524 M181 514 L173.5 524" stroke="#a02020" stroke-width="1.4" fill="none"/>
<g stroke-width="2.2" fill="none">
<path d="M803.3 831 V798" stroke="#1010d0"/>
<path d="M804 831 H836" stroke="#1f8f1f"/>
</g>
<circle cx="803.3" cy="797.6" r="3" fill="#1010f0"/><circle cx="803.3" cy="831" r="3" fill="#d02020"/><circle cx="836.3" cy="831" r="3" fill="#1f9a1f"/>
<path d="M804 782 H812 L804 791.5 H812" stroke="#1818e8" stroke-width="2" fill="none"/>
<path d="M805 821 L812 830 M812 821 L805 830" stroke="#a02020" stroke-width="1.4" fill="none"/>
<path d="M843.5 820 L847 826 L851 820 M847 826 L844.5 832" stroke="#3a8a3a" stroke-width="1.4" fill="none"/>
<g stroke="#fafafa" stroke-width="1.9" fill="none">
<path d="M868 827 V844 H961.4 V827"/>
<path d="M886.8 835 V844"/>
<path d="M905.6 835 V844"/>
<path d="M925.0 835 V844"/>
<path d="M944.0 835 V844"/>
</g>
<text x="965" y="843.5" fill="#f0f0f0" font-size="16.6">1.5 mm</text>
<text x="587.3" y="918.3" font-size="49" text-anchor="middle" style="font-family:'Liberation Serif'">(<tspan font-weight="bold" font-size="50">a</tspan>)</text>
<g fill="none" stroke="#000" stroke-width="1.15">
<circle cx="637.4" cy="1453.7" r="121.40"/>
<circle cx="637.4" cy="1453.7" r="242.80"/>
<circle cx="637.4" cy="1453.7" r="364.20"/>
<circle cx="637.4" cy="1453.7" r="485.60"/>
</g>
<g stroke="#000" stroke-width="1.6" stroke-dasharray="3 4.2" fill="none">
<path d="M151.8 1453.7 H1123.2"/>
<path d="M637.4 968.4 V1939.0" stroke-width="1.3"/>
</g>
<g stroke="#000" stroke-width="2.5" fill="none">
<path d="M273.2 968.4 v14.5 M273.2 1939.0 v-14.5 M151.8 1089.5 h14.5 M1123.2 1089.5 h-14.5"/>
<path d="M394.6 968.4 v14.5 M394.6 1939.0 v-14.5 M151.8 1210.9 h14.5 M1123.2 1210.9 h-14.5"/>
<path d="M516.0 968.4 v14.5 M516.0 1939.0 v-14.5 M151.8 1332.3 h14.5 M1123.2 1332.3 h-14.5"/>
<path d="M637.4 968.4 v14.5 M637.4 1939.0 v-14.5 M151.8 1453.7 h14.5 M1123.2 1453.7 h-14.5"/>
<path d="M758.8 968.4 v14.5 M758.8 1939.0 v-14.5 M151.8 1575.1 h14.5 M1123.2 1575.1 h-14.5"/>
<path d="M880.2 968.4 v14.5 M880.2 1939.0 v-14.5 M151.8 1696.5 h14.5 M1123.2 1696.5 h-14.5"/>
<path d="M1001.6 968.4 v14.5 M1001.6 1939.0 v-14.5 M151.8 1817.9 h14.5 M1123.2 1817.9 h-14.5"/>
</g>
<rect x="151.8" y="968.4" width="971.4" height="970.6" fill="none" stroke="#000" stroke-width="2.6"/>
<g fill="none" stroke-linejoin="round" stroke-linecap="butt">
<polyline points="636.8,995.3 627.5,996.2 609.8,1000.2 586.8,1006.0 563.8,1012.8 540.8,1018.6 524.8,1023.2 508.7,1031.2 488.0,1041.6 471.9,1051.9 448.9,1065.7 426.0,1080.6 403.0,1095.6 387.2,1111.2 368.5,1124.3 353.5,1133.7 344.2,1143.1 338.5,1145.9 332.0,1147.7 331.1,1156.2 327.3,1163.7 322.6,1168.3 321.7,1178.6 312.3,1193.6 301.1,1208.6 293.6,1223.6 285.2,1236.7 278.6,1255.4 271.1,1270.4 264.6,1279.7 259.5,1298.5 255.4,1302.3 249.2,1312.5 245.1,1324.7 239.0,1341.1 236.5,1351.3 232.9,1367.6 229.8,1381.9 226.3,1397.2 224.7,1412.5 221.7,1423.8 219.6,1438.1 216.8,1453.4 218.6,1470.4 220.6,1490.8 223.7,1506.2 225.7,1521.5 228.8,1537.8 231.9,1557.2 234.9,1572.5 241.1,1585.8 245.1,1601.1 251.3,1613.4 255.3,1620.0 265.5,1640.4 270.6,1657.4 280.9,1679.6 291.1,1701.7 299.6,1717.0 309.8,1735.7 320.0,1746.0 326.8,1754.5 326.0,1764.7 333.6,1764.7 345.5,1778.3 359.1,1788.5 376.2,1800.4 390.0,1808.4 413.0,1824.5 436.0,1838.3 458.9,1852.0 481.9,1865.8 504.9,1877.3 514.1,1884.2 527.9,1887.7 550.8,1894.5 573.8,1900.3 596.8,1906.0 627.8,1910.6" stroke="#000" stroke-width="5"/>
<polyline points="637.0,971.0 621.3,974.2 598.3,979.5 575.3,986.4 552.3,994.5 527.1,1002.5 513.3,1009.4 494.9,1020.9 471.9,1035.8 448.9,1054.2 426.0,1072.6 403.0,1091.0 387.2,1101.9 368.5,1118.7 353.5,1131.8 347.9,1143.1 342.3,1149.6 336.7,1152.4 336.7,1161.8 331.1,1169.3 323.6,1178.6 319.8,1189.9 314.2,1204.8 306.7,1223.6 299.2,1242.3 293.6,1259.1 288.0,1277.9 284.0,1290.0 281.9,1298.2 277.8,1310.4 274.8,1320.6 270.7,1334.9 266.6,1349.2 263.5,1359.4 261.5,1373.7 258.4,1387.0 256.4,1402.3 254.3,1412.5 252.3,1425.8 250.8,1438.1 249.7,1453.4 250.3,1470.4 252.3,1490.8 255.4,1511.3 258.4,1531.7 261.5,1552.1 267.6,1572.5 271.7,1590.9 277.8,1603.2 281.9,1613.4 283.4,1620.0 289.4,1637.0 294.5,1657.4 303.0,1679.6 311.5,1701.7 320.0,1718.7 326.8,1737.4 331.9,1749.4 331.9,1757.9 340.4,1761.3 348.9,1773.2 362.6,1786.8 379.6,1798.7 390.0,1808.4 413.0,1826.8 436.0,1842.8 458.9,1858.9 481.9,1877.3 504.9,1893.4 527.9,1908.3 539.4,1910.6 562.3,1916.4 585.3,1923.3 608.3,1929.0 627.8,1933.6" stroke="#f94e08" stroke-width="4.8"/>
<polyline points="647.1,1005.1 674.7,1008.3 704.5,1014.3 737.2,1020.2 755.1,1024.7 778.9,1035.1 808.7,1051.5 838.5,1067.9 868.3,1085.8 898.1,1105.1 927.9,1126.0 939.8,1137.9 948.7,1140.9 958.0,1159.0 966.0,1165.3 973.6,1177.6 981.3,1189.8 993.5,1214.3 1005.8,1240.4 1018.0,1266.4 1030.3,1292.5 1038.0,1304.7 1044.1,1318.5 1051.7,1341.5 1056.3,1364.5 1059.4,1387.4 1064.0,1410.4 1067.1,1433.4 1070.9,1454.1 1065.4,1473.0 1060.8,1496.0 1056.3,1518.9 1053.2,1541.9 1048.6,1560.3 1042.5,1580.2 1034.8,1600.1 1027.1,1612.4 1022.5,1626.2 1013.4,1641.5 1004.2,1659.9 995.0,1676.7 985.8,1693.6 975.1,1710.4 964.3,1725.7 958.6,1741.2 947.3,1755.3 938.9,1762.3 927.7,1772.1 910.8,1783.4 882.7,1803.0 854.7,1819.9 826.6,1836.7 798.5,1850.8 770.4,1864.8 742.3,1880.2 714.2,1888.7 686.2,1894.3 658.1,1899.9 641.2,1904.1" stroke="#000" stroke-width="4.6" stroke-dasharray="10 4.6"/>
<polyline points="649.9,1014.0 689.6,1021.7 719.4,1029.2 740.2,1033.6 764.0,1045.5 793.8,1063.4 823.6,1081.3 853.4,1099.2 883.2,1117.0 913.0,1136.4 924.9,1148.3 933.8,1152.8 939.9,1168.4 947.6,1180.6 958.3,1205.1 970.6,1232.7 982.8,1260.3 992.0,1287.9 1002.7,1315.4 1011.9,1341.5 1016.5,1356.8 1020.3,1376.7 1025.7,1402.8 1030.3,1425.7 1033.4,1454.1 1031.7,1468.4 1028.7,1488.3 1024.8,1511.3 1020.3,1534.3 1016.4,1554.2 1010.3,1568.0 1004.2,1583.3 998.0,1600.1 991.9,1618.5 984.3,1636.9 976.6,1656.8 968.9,1676.7 961.3,1695.1 953.6,1710.4 946.0,1725.7 941.7,1732.8 934.7,1746.8 934.7,1752.5 922.0,1755.3 910.8,1766.5 882.7,1783.4 854.7,1800.2 826.6,1819.9 798.5,1836.7 770.4,1850.8 742.3,1867.6 714.2,1877.4 686.2,1884.5 658.1,1890.1 639.8,1895.7" stroke="#f94e08" stroke-width="4.6" stroke-dasharray="10 4.6"/>
</g>
<g font-size="34.0" fill="#000">
<text x="130.5" y="979.7" text-anchor="end">80000</text>
<text x="130.5" y="1101.1" text-anchor="end">60000</text>
<text x="130.5" y="1222.5" text-anchor="end">40000</text>
<text x="130.5" y="1343.9" text-anchor="end">20000</text>
<text x="130.5" y="1465.3" text-anchor="end">0</text>
<text x="130.5" y="1586.7" text-anchor="end">20000</text>
<text x="130.5" y="1708.1" text-anchor="end">40000</text>
<text x="130.5" y="1829.5" text-anchor="end">60000</text>
<text x="130.5" y="1950.9" text-anchor="end">80000</text>
<text x="156.1" y="1980.3" text-anchor="middle">80000</text>
<text x="277.5" y="1980.3" text-anchor="middle">60000</text>
<text x="398.9" y="1980.3" text-anchor="middle">40000</text>
<text x="520.3" y="1980.3" text-anchor="middle">20000</text>
<text x="641.7" y="1980.3" text-anchor="middle">0</text>
<text x="763.1" y="1980.3" text-anchor="middle">20000</text>
<text x="884.5" y="1980.3" text-anchor="middle">40000</text>
<text x="1005.9" y="1980.3" text-anchor="middle">60000</text>
<text x="1127.3" y="1980.3" text-anchor="middle">80000</text>
<text x="637.6" y="2008" text-anchor="middle">mean segment length / nm</text>
<text transform="translate(29 1453.7) rotate(-90)" text-anchor="middle">mean segment length / nm</text>
<text x="499.5" y="2048.3" text-anchor="end"><tspan style="font-family:'Liberation Serif'" font-size="38">ε</tspan>=0%, section A</text>
<text x="499.5" y="2082.5" text-anchor="end"><tspan style="font-family:'Liberation Serif'" font-size="38">ε</tspan>=17%, section A</text>
<text x="963.6" y="2048.3" text-anchor="end"><tspan style="font-family:'Liberation Serif'" font-size="38">ε</tspan>=0%, section B</text>
<text x="963.6" y="2082.5" text-anchor="end"><tspan style="font-family:'Liberation Serif'" font-size="38">ε</tspan>=17%, section B</text>
</g>
<g fill="none" stroke-width="4.6">
<path d="M520.3 2037 H616.6" stroke="#000"/>
<path d="M520.3 2071.3 H616.6" stroke="#f94e08"/>
<path d="M984 2037.4 H1082" stroke="#000" stroke-dasharray="10 4.6"/>
<path d="M984 2071.5 H1082" stroke="#f94e08" stroke-dasharray="10 4.6"/>
</g>
<text x="587.5" y="2161.5" font-size="49" text-anchor="middle" style="font-family:'Liberation Serif'">(<tspan font-weight="bold" font-size="50">b</tspan>)</text>
</svg></body></html>
